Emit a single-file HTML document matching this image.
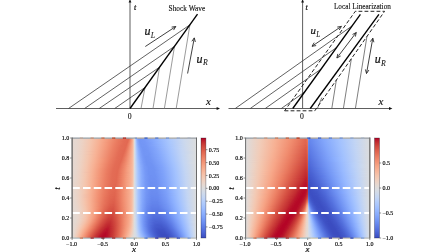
<!DOCTYPE html>
<html><head><meta charset="utf-8"><title>Shock wave local linearization</title>
<style>
html,body{margin:0;padding:0;background:#fff;}
body{width:448px;height:252px;overflow:hidden;}
svg{display:block;}
text{font-family:"Liberation Serif",serif;fill:#111;}
.i{font-style:italic;}
.tk{font-size:6px;fill:#000;stroke:#000;stroke-width:.15px;}
.b{stroke:#111;stroke-width:.22px;}
.sub{stroke-width:.05px;}
.ttl{stroke:#111;stroke-width:.12px;}
.thinq{stroke:#4c4c4c;stroke-width:.72;fill:none;}
.thinr{stroke:#7a7a7a;stroke-width:.75;fill:none;}
.thin{stroke:#3a3a3a;stroke-width:.8;fill:none;}
.ax{stroke:#555;stroke-width:.95;fill:none;}
.shock{stroke:#000;stroke-width:1.35;fill:none;}
.dash{stroke:#222;stroke-width:1.0;fill:none;stroke-dasharray:3.8 2.2;}
.arr{stroke:#2a2a2a;stroke-width:.9;fill:none;}
.tick{stroke:#222;stroke-width:.5;}
.wd{stroke:#fff;stroke-width:2.1;stroke-dasharray:7.6 3.17;fill:none;}
</style></head><body>
<svg width="448" height="252" viewBox="0 0 448 252">
<defs><linearGradient id="a0"><stop offset=".0004" stop-color="#e5d8d1"/><stop offset=".0254" stop-color="#e5d8d1"/><stop offset=".0829" stop-color="#ecd3c5"/><stop offset=".1579" stop-color="#f5c4ac"/><stop offset=".2204" stop-color="#f7b194"/><stop offset=".2867" stop-color="#f49a7b"/><stop offset=".3667" stop-color="#ea7b60"/><stop offset=".4179" stop-color="#e36c55"/><stop offset=".4567" stop-color="#e26952"/><stop offset=".4679" stop-color="#eb7d62"/><stop offset=".4792" stop-color="#f4987a"/><stop offset=".4867" stop-color="#f7ad90"/><stop offset=".4929" stop-color="#f5c4ac"/><stop offset=".4967" stop-color="#edd2c3"/><stop offset=".5004" stop-color="#dcdddd"/><stop offset=".5029" stop-color="#d6dce4"/><stop offset=".5067" stop-color="#c5d6f2"/><stop offset=".5104" stop-color="#b1cbfc"/><stop offset=".5142" stop-color="#9fbfff"/><stop offset=".5192" stop-color="#8db0fe"/><stop offset=".5254" stop-color="#80a3fa"/><stop offset=".5342" stop-color="#7699f6"/><stop offset=".5429" stop-color="#7396f5"/><stop offset=".5792" stop-color="#7699f6"/><stop offset=".6767" stop-color="#8db0fe"/><stop offset=".7817" stop-color="#abc8fd"/><stop offset=".8892" stop-color="#cad8ef"/><stop offset="1" stop-color="#dcdddd"/></linearGradient><linearGradient id="a1"><stop offset=".0004" stop-color="#e5d8d1"/><stop offset=".0354" stop-color="#e6d7cf"/><stop offset=".0767" stop-color="#ebd3c6"/><stop offset=".1479" stop-color="#f4c6af"/><stop offset=".2179" stop-color="#f7b194"/><stop offset=".2842" stop-color="#f49a7b"/><stop offset=".3692" stop-color="#e97a5f"/><stop offset=".4154" stop-color="#e36c55"/><stop offset=".4542" stop-color="#e26952"/><stop offset=".4667" stop-color="#ec7f63"/><stop offset=".4779" stop-color="#f4987a"/><stop offset=".4867" stop-color="#f7af91"/><stop offset=".4929" stop-color="#f5c4ac"/><stop offset=".4967" stop-color="#edd2c3"/><stop offset=".5004" stop-color="#dcdddd"/><stop offset=".5042" stop-color="#d2dbe8"/><stop offset=".5067" stop-color="#c6d6f1"/><stop offset=".5104" stop-color="#b2ccfb"/><stop offset=".5142" stop-color="#a2c1ff"/><stop offset=".5192" stop-color="#90b2fe"/><stop offset=".5254" stop-color="#82a6fb"/><stop offset=".5342" stop-color="#779af7"/><stop offset=".5442" stop-color="#7396f5"/><stop offset=".5729" stop-color="#7597f6"/><stop offset=".6542" stop-color="#85a8fc"/><stop offset=".7617" stop-color="#a5c3fe"/><stop offset=".8617" stop-color="#c3d5f4"/><stop offset=".9329" stop-color="#d3dbe7"/><stop offset="1" stop-color="#dcdddd"/></linearGradient><linearGradient id="a2"><stop offset=".0004" stop-color="#e5d8d1"/><stop offset=".0242" stop-color="#e5d8d1"/><stop offset=".0754" stop-color="#ebd3c6"/><stop offset=".1467" stop-color="#f4c6af"/><stop offset=".2167" stop-color="#f7b194"/><stop offset=".2867" stop-color="#f4987a"/><stop offset=".3667" stop-color="#e97a5f"/><stop offset=".4217" stop-color="#e36b54"/><stop offset=".4504" stop-color="#e26952"/><stop offset=".4654" stop-color="#ec8165"/><stop offset=".4779" stop-color="#f59c7d"/><stop offset=".4867" stop-color="#f7b093"/><stop offset=".4929" stop-color="#f4c5ad"/><stop offset=".4967" stop-color="#ecd3c5"/><stop offset=".5004" stop-color="#dcdddd"/><stop offset=".5042" stop-color="#d2dbe8"/><stop offset=".5092" stop-color="#bad0f8"/><stop offset=".5154" stop-color="#9fbfff"/><stop offset=".5192" stop-color="#93b5fe"/><stop offset=".5267" stop-color="#82a6fb"/><stop offset=".5379" stop-color="#7699f6"/><stop offset=".5454" stop-color="#7396f5"/><stop offset=".5767" stop-color="#7597f6"/><stop offset=".6354" stop-color="#80a3fa"/><stop offset=".6829" stop-color="#8db0fe"/><stop offset=".7904" stop-color="#adc9fd"/><stop offset=".9029" stop-color="#ccd9ed"/><stop offset="1" stop-color="#dcdddd"/></linearGradient><linearGradient id="a3"><stop offset=".0004" stop-color="#e5d8d1"/><stop offset=".0342" stop-color="#e6d7cf"/><stop offset=".0804" stop-color="#ecd3c5"/><stop offset=".1454" stop-color="#f4c6af"/><stop offset=".2142" stop-color="#f7b194"/><stop offset=".2804" stop-color="#f49a7b"/><stop offset=".3642" stop-color="#e97a5f"/><stop offset=".4092" stop-color="#e36c55"/><stop offset=".4479" stop-color="#e26952"/><stop offset=".4604" stop-color="#ea7b60"/><stop offset=".4792" stop-color="#f5a081"/><stop offset=".4867" stop-color="#f7b194"/><stop offset=".4929" stop-color="#f4c5ad"/><stop offset=".4967" stop-color="#ecd3c5"/><stop offset=".5004" stop-color="#dcdddd"/><stop offset=".5054" stop-color="#cdd9ec"/><stop offset=".5092" stop-color="#bbd1f8"/><stop offset=".5154" stop-color="#a2c1ff"/><stop offset=".5242" stop-color="#89acfd"/><stop offset=".5379" stop-color="#779af7"/><stop offset=".5479" stop-color="#7396f5"/><stop offset=".5817" stop-color="#7597f6"/><stop offset=".6554" stop-color="#84a7fc"/><stop offset=".7842" stop-color="#aac7fd"/><stop offset=".8992" stop-color="#cbd8ee"/><stop offset="1" stop-color="#dcdddd"/></linearGradient><linearGradient id="a4"><stop offset=".0004" stop-color="#e5d8d1"/><stop offset=".0342" stop-color="#e6d7cf"/><stop offset=".0742" stop-color="#ebd3c6"/><stop offset=".1442" stop-color="#f4c6af"/><stop offset=".2129" stop-color="#f7b194"/><stop offset=".2867" stop-color="#f39577"/><stop offset=".3667" stop-color="#e9785d"/><stop offset=".4167" stop-color="#e36b54"/><stop offset=".4454" stop-color="#e26952"/><stop offset=".4604" stop-color="#ec7f63"/><stop offset=".4804" stop-color="#f6a586"/><stop offset=".4879" stop-color="#f7b599"/><stop offset=".4929" stop-color="#f4c5ad"/><stop offset=".4967" stop-color="#ecd3c5"/><stop offset=".5004" stop-color="#dcdddd"/><stop offset=".5054" stop-color="#cdd9ec"/><stop offset=".5092" stop-color="#bcd2f7"/><stop offset=".5154" stop-color="#a3c2fe"/><stop offset=".5254" stop-color="#89acfd"/><stop offset=".5417" stop-color="#7699f6"/><stop offset=".5492" stop-color="#7396f5"/><stop offset=".5854" stop-color="#7597f6"/><stop offset=".6367" stop-color="#7ea1fa"/><stop offset=".6892" stop-color="#8db0fe"/><stop offset=".7904" stop-color="#abc8fd"/><stop offset=".9004" stop-color="#cbd8ee"/><stop offset="1" stop-color="#dcdddd"/></linearGradient><linearGradient id="a5"><stop offset=".0004" stop-color="#e5d8d1"/><stop offset=".0229" stop-color="#e5d8d1"/><stop offset=".0679" stop-color="#ead4c8"/><stop offset=".1429" stop-color="#f4c6af"/><stop offset=".2154" stop-color="#f7b093"/><stop offset=".2754" stop-color="#f49a7b"/><stop offset=".3479" stop-color="#eb7d62"/><stop offset=".4129" stop-color="#e36b54"/><stop offset=".4417" stop-color="#e26952"/><stop offset=".4604" stop-color="#ed8366"/><stop offset=".4779" stop-color="#f6a283"/><stop offset=".4879" stop-color="#f7b79b"/><stop offset=".4917" stop-color="#f5c1a9"/><stop offset=".4967" stop-color="#ecd3c5"/><stop offset=".5004" stop-color="#dcdddd"/><stop offset=".5042" stop-color="#d3dbe7"/><stop offset=".5092" stop-color="#bed2f6"/><stop offset=".5167" stop-color="#a2c1ff"/><stop offset=".5267" stop-color="#89acfd"/><stop offset=".5417" stop-color="#779af7"/><stop offset=".5504" stop-color="#7396f5"/><stop offset=".5892" stop-color="#7597f6"/><stop offset=".6342" stop-color="#7da0f9"/><stop offset=".6917" stop-color="#8db0fe"/><stop offset=".7929" stop-color="#abc8fd"/><stop offset=".9104" stop-color="#cdd9ec"/><stop offset="1" stop-color="#dcdddd"/></linearGradient><linearGradient id="a6"><stop offset=".0004" stop-color="#e5d8d1"/><stop offset=".0329" stop-color="#e6d7cf"/><stop offset=".0779" stop-color="#ecd3c5"/><stop offset=".1417" stop-color="#f4c6af"/><stop offset=".2092" stop-color="#f7b194"/><stop offset=".2779" stop-color="#f4987a"/><stop offset=".3454" stop-color="#eb7d62"/><stop offset=".4104" stop-color="#e36b54"/><stop offset=".4392" stop-color="#e26952"/><stop offset=".4604" stop-color="#ee8669"/><stop offset=".4742" stop-color="#f59d7e"/><stop offset=".4842" stop-color="#f7af91"/><stop offset=".4917" stop-color="#f5c1a9"/><stop offset=".4967" stop-color="#ecd3c5"/><stop offset=".5004" stop-color="#dcdddd"/><stop offset=".5029" stop-color="#d7dce3"/><stop offset=".5092" stop-color="#bfd3f6"/><stop offset=".5167" stop-color="#a3c2fe"/><stop offset=".5254" stop-color="#8db0fe"/><stop offset=".5342" stop-color="#80a3fa"/><stop offset=".5417" stop-color="#799cf8"/><stop offset=".5529" stop-color="#7396f5"/><stop offset=".5817" stop-color="#7396f5"/><stop offset=".6492" stop-color="#80a3fa"/><stop offset=".7692" stop-color="#a3c2fe"/><stop offset=".8742" stop-color="#c4d5f3"/><stop offset=".9429" stop-color="#d4dbe6"/><stop offset="1" stop-color="#dcdddd"/></linearGradient><linearGradient id="a7"><stop offset=".0004" stop-color="#e5d8d1"/><stop offset=".0217" stop-color="#e5d8d1"/><stop offset=".0717" stop-color="#ebd3c6"/><stop offset=".1404" stop-color="#f4c6af"/><stop offset=".2079" stop-color="#f7b194"/><stop offset=".2754" stop-color="#f4987a"/><stop offset=".3379" stop-color="#ec7f63"/><stop offset=".3979" stop-color="#e36c55"/><stop offset=".4367" stop-color="#e26952"/><stop offset=".4542" stop-color="#ec7f63"/><stop offset=".4679" stop-color="#f39577"/><stop offset=".4829" stop-color="#f7ad90"/><stop offset=".4904" stop-color="#f6bea4"/><stop offset=".4954" stop-color="#efcebd"/><stop offset=".5004" stop-color="#dcdddd"/><stop offset=".5029" stop-color="#d7dce3"/><stop offset=".5104" stop-color="#bbd1f8"/><stop offset=".5179" stop-color="#a1c0ff"/><stop offset=".5279" stop-color="#8badfd"/><stop offset=".5429" stop-color="#799cf8"/><stop offset=".5542" stop-color="#7396f5"/><stop offset=".5979" stop-color="#7597f6"/><stop offset=".6979" stop-color="#8db0fe"/><stop offset=".7929" stop-color="#aac7fd"/><stop offset=".9079" stop-color="#ccd9ed"/><stop offset="1" stop-color="#dcdddd"/></linearGradient><linearGradient id="a8"><stop offset=".0004" stop-color="#e5d8d1"/><stop offset=".0217" stop-color="#e5d8d1"/><stop offset=".0654" stop-color="#ead4c8"/><stop offset=".1392" stop-color="#f4c6af"/><stop offset=".2054" stop-color="#f7b194"/><stop offset=".2692" stop-color="#f49a7b"/><stop offset=".3354" stop-color="#ec7f63"/><stop offset=".3954" stop-color="#e36c55"/><stop offset=".4329" stop-color="#e26952"/><stop offset=".4442" stop-color="#e7745b"/><stop offset=".4729" stop-color="#f59f80"/><stop offset=".4854" stop-color="#f7b396"/><stop offset=".4917" stop-color="#f5c2aa"/><stop offset=".4954" stop-color="#efcebd"/><stop offset=".5004" stop-color="#dcdddd"/><stop offset=".5054" stop-color="#cfdaea"/><stop offset=".5092" stop-color="#c0d4f5"/><stop offset=".5179" stop-color="#a3c2fe"/><stop offset=".5317" stop-color="#86a9fc"/><stop offset=".5467" stop-color="#779af7"/><stop offset=".5567" stop-color="#7396f5"/><stop offset=".5904" stop-color="#7396f5"/><stop offset=".6554" stop-color="#80a3fa"/><stop offset=".7742" stop-color="#a3c2fe"/><stop offset=".8679" stop-color="#c1d4f4"/><stop offset=".9392" stop-color="#d3dbe7"/><stop offset="1" stop-color="#dcdddd"/></linearGradient><linearGradient id="a9"><stop offset=".0004" stop-color="#e5d8d1"/><stop offset=".0317" stop-color="#e6d7cf"/><stop offset=".0704" stop-color="#ebd3c6"/><stop offset=".1379" stop-color="#f4c6af"/><stop offset=".2042" stop-color="#f7b194"/><stop offset=".2667" stop-color="#f49a7b"/><stop offset=".3329" stop-color="#ec7f63"/><stop offset=".3842" stop-color="#e46e56"/><stop offset=".4304" stop-color="#e26952"/><stop offset=".4417" stop-color="#e7745b"/><stop offset=".4729" stop-color="#f5a081"/><stop offset=".4842" stop-color="#f7b194"/><stop offset=".4917" stop-color="#f5c2aa"/><stop offset=".4967" stop-color="#ebd3c6"/><stop offset=".5004" stop-color="#dcdddd"/><stop offset=".5042" stop-color="#d4dbe6"/><stop offset=".5104" stop-color="#bcd2f7"/><stop offset=".5192" stop-color="#a1c0ff"/><stop offset=".5329" stop-color="#86a9fc"/><stop offset=".5429" stop-color="#7b9ff9"/><stop offset=".5542" stop-color="#7597f6"/><stop offset=".5679" stop-color="#7295f4"/><stop offset=".6054" stop-color="#7597f6"/><stop offset=".6642" stop-color="#81a4fb"/><stop offset=".7079" stop-color="#8fb1fe"/><stop offset=".8054" stop-color="#adc9fd"/><stop offset=".9054" stop-color="#cbd8ee"/><stop offset="1" stop-color="#dcdddd"/></linearGradient><linearGradient id="a10"><stop offset=".0004" stop-color="#e5d8d1"/><stop offset=".0304" stop-color="#e6d7cf"/><stop offset=".0692" stop-color="#ebd3c6"/><stop offset=".1367" stop-color="#f4c6af"/><stop offset=".2029" stop-color="#f7b194"/><stop offset=".2692" stop-color="#f4987a"/><stop offset=".3304" stop-color="#ec7f63"/><stop offset=".3817" stop-color="#e46e56"/><stop offset=".4279" stop-color="#e26952"/><stop offset=".4467" stop-color="#eb7d62"/><stop offset=".4729" stop-color="#f6a283"/><stop offset=".4854" stop-color="#f7b497"/><stop offset=".4917" stop-color="#f5c4ac"/><stop offset=".4967" stop-color="#ebd3c6"/><stop offset=".5004" stop-color="#dcdddd"/><stop offset=".5042" stop-color="#d4dbe6"/><stop offset=".5117" stop-color="#b9d0f9"/><stop offset=".5192" stop-color="#a3c2fe"/><stop offset=".5304" stop-color="#8caffe"/><stop offset=".5479" stop-color="#799cf8"/><stop offset=".5679" stop-color="#7295f4"/><stop offset=".5992" stop-color="#7396f5"/><stop offset=".6567" stop-color="#7ea1fa"/><stop offset=".7829" stop-color="#a5c3fe"/><stop offset=".8754" stop-color="#c3d5f4"/><stop offset=".9517" stop-color="#d5dbe5"/><stop offset="1" stop-color="#dcdddd"/></linearGradient><linearGradient id="a11"><stop offset=".0004" stop-color="#e5d8d1"/><stop offset=".0304" stop-color="#e6d7cf"/><stop offset=".0679" stop-color="#ebd3c6"/><stop offset=".1354" stop-color="#f4c6af"/><stop offset=".2004" stop-color="#f7b194"/><stop offset=".2629" stop-color="#f49a7b"/><stop offset=".3279" stop-color="#ec7f63"/><stop offset=".3867" stop-color="#e36c55"/><stop offset=".4254" stop-color="#e26952"/><stop offset=".4417" stop-color="#e97a5f"/><stop offset=".4767" stop-color="#f7a889"/><stop offset=".4842" stop-color="#f7b396"/><stop offset=".4917" stop-color="#f5c4ac"/><stop offset=".4967" stop-color="#ebd3c6"/><stop offset=".5004" stop-color="#dcdddd"/><stop offset=".5042" stop-color="#d4dbe6"/><stop offset=".5117" stop-color="#bad0f8"/><stop offset=".5204" stop-color="#a1c0ff"/><stop offset=".5304" stop-color="#8db0fe"/><stop offset=".5479" stop-color="#7a9df8"/><stop offset=".5692" stop-color="#7295f4"/><stop offset=".6029" stop-color="#7396f5"/><stop offset=".6654" stop-color="#80a3fa"/><stop offset=".7854" stop-color="#a5c3fe"/><stop offset=".8817" stop-color="#c4d5f3"/><stop offset=".9467" stop-color="#d4dbe6"/><stop offset="1" stop-color="#dcdddd"/></linearGradient><linearGradient id="a12"><stop offset=".0004" stop-color="#e5d8d1"/><stop offset=".0292" stop-color="#e6d7cf"/><stop offset=".0729" stop-color="#ecd3c5"/><stop offset=".1342" stop-color="#f4c6af"/><stop offset=".1992" stop-color="#f7b194"/><stop offset=".3204" stop-color="#ec8165"/><stop offset=".3842" stop-color="#e36c55"/><stop offset=".4217" stop-color="#e26952"/><stop offset=".4379" stop-color="#e9785d"/><stop offset=".4529" stop-color="#f08b6e"/><stop offset=".4792" stop-color="#f7ac8e"/><stop offset=".4892" stop-color="#f6bda2"/><stop offset=".4954" stop-color="#efcfbf"/><stop offset=".5004" stop-color="#dcdddd"/><stop offset=".5054" stop-color="#d1dae9"/><stop offset=".5104" stop-color="#bfd3f6"/><stop offset=".5204" stop-color="#a2c1ff"/><stop offset=".5354" stop-color="#88abfd"/><stop offset=".5542" stop-color="#779af7"/><stop offset=".5704" stop-color="#7295f4"/><stop offset=".6067" stop-color="#7396f5"/><stop offset=".6729" stop-color="#81a4fb"/><stop offset=".7917" stop-color="#a6c4fe"/><stop offset=".8829" stop-color="#c4d5f3"/><stop offset=".9529" stop-color="#d5dbe5"/><stop offset="1" stop-color="#dcdddd"/></linearGradient><linearGradient id="a13"><stop offset=".0004" stop-color="#e5d8d1"/><stop offset=".0292" stop-color="#e6d7cf"/><stop offset=".0867" stop-color="#eed0c0"/><stop offset=".1967" stop-color="#f7b194"/><stop offset=".3179" stop-color="#ec8165"/><stop offset=".3817" stop-color="#e36c55"/><stop offset=".4192" stop-color="#e26952"/><stop offset=".4304" stop-color="#e67259"/><stop offset=".4529" stop-color="#f18d6f"/><stop offset=".4817" stop-color="#f7b093"/><stop offset=".4904" stop-color="#f5c0a7"/><stop offset=".4954" stop-color="#efcfbf"/><stop offset=".5004" stop-color="#dcdddd"/><stop offset=".5054" stop-color="#d1dae9"/><stop offset=".5117" stop-color="#bbd1f8"/><stop offset=".5204" stop-color="#a3c2fe"/><stop offset=".5367" stop-color="#88abfd"/><stop offset=".5579" stop-color="#7699f6"/><stop offset=".5717" stop-color="#7295f4"/><stop offset=".6104" stop-color="#7396f5"/><stop offset=".6917" stop-color="#85a8fc"/><stop offset=".7979" stop-color="#a7c5fe"/><stop offset=".8842" stop-color="#c4d5f3"/><stop offset="1" stop-color="#dcdddd"/></linearGradient><linearGradient id="a14"><stop offset=".0004" stop-color="#e5d8d1"/><stop offset=".0292" stop-color="#e6d7cf"/><stop offset=".0717" stop-color="#ecd3c5"/><stop offset=".1354" stop-color="#f4c5ad"/><stop offset=".1954" stop-color="#f7b194"/><stop offset=".3154" stop-color="#ec8165"/><stop offset=".3704" stop-color="#e46e56"/><stop offset=".4167" stop-color="#e26952"/><stop offset=".4367" stop-color="#ea7b60"/><stop offset=".4554" stop-color="#f29274"/><stop offset=".4792" stop-color="#f7ad90"/><stop offset=".4892" stop-color="#f6bea4"/><stop offset=".4942" stop-color="#f1ccb8"/><stop offset=".5004" stop-color="#dcdddd"/><stop offset=".5104" stop-color="#c0d4f5"/><stop offset=".5217" stop-color="#a2c1ff"/><stop offset=".5367" stop-color="#89acfd"/><stop offset=".5567" stop-color="#779af7"/><stop offset=".5729" stop-color="#7295f4"/><stop offset=".6154" stop-color="#7396f5"/><stop offset=".7042" stop-color="#88abfd"/><stop offset=".8042" stop-color="#a9c6fd"/><stop offset=".8854" stop-color="#c4d5f3"/><stop offset="1" stop-color="#dcdddd"/></linearGradient><linearGradient id="a15"><stop offset=".0004" stop-color="#e5d8d1"/><stop offset=".0279" stop-color="#e6d7cf"/><stop offset=".0804" stop-color="#edd1c2"/><stop offset=".1342" stop-color="#f4c5ad"/><stop offset=".1942" stop-color="#f7b194"/><stop offset=".3129" stop-color="#ec8165"/><stop offset=".3754" stop-color="#e36c55"/><stop offset=".4142" stop-color="#e26952"/><stop offset=".4329" stop-color="#e97a5f"/><stop offset=".4567" stop-color="#f39577"/><stop offset=".4829" stop-color="#f7b396"/><stop offset=".4892" stop-color="#f6bea4"/><stop offset=".4942" stop-color="#f1ccb8"/><stop offset=".5004" stop-color="#dcdddd"/><stop offset=".5104" stop-color="#c1d4f4"/><stop offset=".5217" stop-color="#a3c2fe"/><stop offset=".5317" stop-color="#92b4fe"/><stop offset=".5442" stop-color="#82a6fb"/><stop offset=".5642" stop-color="#7597f6"/><stop offset=".5742" stop-color="#7295f4"/><stop offset=".6192" stop-color="#7396f5"/><stop offset=".6929" stop-color="#84a7fc"/><stop offset=".7904" stop-color="#a3c2fe"/><stop offset=".8829" stop-color="#c3d5f4"/><stop offset="1" stop-color="#dcdddd"/></linearGradient><linearGradient id="a16"><stop offset=".0004" stop-color="#e5d8d1"/><stop offset=".0279" stop-color="#e6d7cf"/><stop offset=".0842" stop-color="#eed0c0"/><stop offset=".1917" stop-color="#f7b194"/><stop offset=".3104" stop-color="#ec8165"/><stop offset=".3729" stop-color="#e36c55"/><stop offset=".4104" stop-color="#e26952"/><stop offset=".4342" stop-color="#eb7d62"/><stop offset=".4742" stop-color="#f7a98b"/><stop offset=".4817" stop-color="#f7b194"/><stop offset=".4904" stop-color="#f5c1a9"/><stop offset=".4954" stop-color="#eed0c0"/><stop offset=".5004" stop-color="#dcdddd"/><stop offset=".5042" stop-color="#d5dbe5"/><stop offset=".5129" stop-color="#bad0f8"/><stop offset=".5229" stop-color="#a2c1ff"/><stop offset=".5354" stop-color="#8db0fe"/><stop offset=".5454" stop-color="#82a6fb"/><stop offset=".5629" stop-color="#7699f6"/><stop offset=".5767" stop-color="#7295f4"/><stop offset=".6229" stop-color="#7396f5"/><stop offset=".7054" stop-color="#86a9fc"/><stop offset=".7967" stop-color="#a5c3fe"/><stop offset=".8842" stop-color="#c3d5f4"/><stop offset=".9504" stop-color="#d4dbe6"/><stop offset="1" stop-color="#dcdddd"/></linearGradient><linearGradient id="a17"><stop offset=".0004" stop-color="#e5d8d1"/><stop offset=".0354" stop-color="#e7d7ce"/><stop offset=".0742" stop-color="#edd2c3"/><stop offset=".1317" stop-color="#f4c5ad"/><stop offset=".1904" stop-color="#f7b194"/><stop offset=".3079" stop-color="#ec8165"/><stop offset=".3704" stop-color="#e36c55"/><stop offset=".4079" stop-color="#e26952"/><stop offset=".4304" stop-color="#ea7b60"/><stop offset=".4704" stop-color="#f7a688"/><stop offset=".4842" stop-color="#f7b599"/><stop offset=".4904" stop-color="#f5c1a9"/><stop offset=".4954" stop-color="#eed0c0"/><stop offset=".5004" stop-color="#dcdddd"/><stop offset=".5054" stop-color="#d2dbe8"/><stop offset=".5129" stop-color="#bbd1f8"/><stop offset=".5229" stop-color="#a3c2fe"/><stop offset=".5354" stop-color="#8fb1fe"/><stop offset=".5479" stop-color="#81a4fb"/><stop offset=".5617" stop-color="#779af7"/><stop offset=".5779" stop-color="#7295f4"/><stop offset=".6154" stop-color="#7295f4"/><stop offset=".6942" stop-color="#82a6fb"/><stop offset=".7942" stop-color="#a3c2fe"/><stop offset=".8817" stop-color="#c1d4f4"/><stop offset=".9417" stop-color="#d2dbe8"/><stop offset="1" stop-color="#dcdddd"/></linearGradient><linearGradient id="a18"><stop offset=".0004" stop-color="#e5d8d1"/><stop offset=".0267" stop-color="#e6d7cf"/><stop offset=".0779" stop-color="#edd1c2"/><stop offset=".1304" stop-color="#f4c5ad"/><stop offset=".1892" stop-color="#f7b194"/><stop offset=".3054" stop-color="#ec8165"/><stop offset=".3679" stop-color="#e36c55"/><stop offset=".4054" stop-color="#e26952"/><stop offset=".4204" stop-color="#e7745b"/><stop offset=".4479" stop-color="#f29072"/><stop offset=".4742" stop-color="#f7aa8c"/><stop offset=".4829" stop-color="#f7b497"/><stop offset=".4892" stop-color="#f6bfa6"/><stop offset=".4954" stop-color="#eed0c0"/><stop offset=".5004" stop-color="#dcdddd"/><stop offset=".5054" stop-color="#d2dbe8"/><stop offset=".5129" stop-color="#bbd1f8"/><stop offset=".5242" stop-color="#a2c1ff"/><stop offset=".5342" stop-color="#92b4fe"/><stop offset=".5492" stop-color="#81a4fb"/><stop offset=".5692" stop-color="#7597f6"/><stop offset=".5917" stop-color="#7093f3"/><stop offset=".6204" stop-color="#7295f4"/><stop offset=".7067" stop-color="#85a8fc"/><stop offset=".7967" stop-color="#a3c2fe"/><stop offset=".8829" stop-color="#c1d4f4"/><stop offset=".9517" stop-color="#d4dbe6"/><stop offset="1" stop-color="#dcdddd"/></linearGradient><linearGradient id="a19"><stop offset=".0004" stop-color="#e5d8d1"/><stop offset=".0267" stop-color="#e6d7cf"/><stop offset=".0679" stop-color="#ecd3c5"/><stop offset=".1292" stop-color="#f4c5ad"/><stop offset=".1867" stop-color="#f7b194"/><stop offset=".3029" stop-color="#ec8165"/><stop offset=".3567" stop-color="#e46e56"/><stop offset=".4029" stop-color="#e26952"/><stop offset=".4417" stop-color="#f08b6e"/><stop offset=".4779" stop-color="#f7af91"/><stop offset=".4892" stop-color="#f6bfa6"/><stop offset=".4954" stop-color="#eed0c0"/><stop offset=".5004" stop-color="#dcdddd"/><stop offset=".5079" stop-color="#cbd8ee"/><stop offset=".5142" stop-color="#b9d0f9"/><stop offset=".5229" stop-color="#a5c3fe"/><stop offset=".5342" stop-color="#93b5fe"/><stop offset=".5504" stop-color="#81a4fb"/><stop offset=".5679" stop-color="#7699f6"/><stop offset=".5917" stop-color="#7093f3"/><stop offset=".6242" stop-color="#7295f4"/><stop offset=".6954" stop-color="#81a4fb"/><stop offset=".7992" stop-color="#a3c2fe"/><stop offset=".8892" stop-color="#c3d5f4"/><stop offset=".9479" stop-color="#d3dbe7"/><stop offset="1" stop-color="#dcdddd"/></linearGradient><linearGradient id="a20"><stop offset=".0004" stop-color="#e5d8d1"/><stop offset=".0254" stop-color="#e6d7cf"/><stop offset=".0717" stop-color="#edd2c3"/><stop offset=".1279" stop-color="#f4c5ad"/><stop offset=".1854" stop-color="#f7b194"/><stop offset=".2592" stop-color="#f29274"/><stop offset=".3192" stop-color="#e97a5f"/><stop offset=".3617" stop-color="#e36c55"/><stop offset=".4004" stop-color="#e26952"/><stop offset=".4417" stop-color="#f18d6f"/><stop offset=".4742" stop-color="#f7ac8e"/><stop offset=".4879" stop-color="#f6bda2"/><stop offset=".4942" stop-color="#f1cdba"/><stop offset=".5004" stop-color="#dcdddd"/><stop offset=".5129" stop-color="#bcd2f7"/><stop offset=".5242" stop-color="#a3c2fe"/><stop offset=".5329" stop-color="#96b7ff"/><stop offset=".5517" stop-color="#81a4fb"/><stop offset=".5692" stop-color="#7699f6"/><stop offset=".5917" stop-color="#7093f3"/><stop offset=".6279" stop-color="#7295f4"/><stop offset=".7079" stop-color="#84a7fc"/><stop offset=".8017" stop-color="#a3c2fe"/><stop offset=".8904" stop-color="#c3d5f4"/><stop offset=".9579" stop-color="#d5dbe5"/><stop offset="1" stop-color="#dcdddd"/></linearGradient><linearGradient id="a21"><stop offset=".0004" stop-color="#e5d8d1"/><stop offset=".0329" stop-color="#e7d7ce"/><stop offset=".0754" stop-color="#edd1c2"/><stop offset=".1267" stop-color="#f4c5ad"/><stop offset=".1842" stop-color="#f7b194"/><stop offset=".2417" stop-color="#f49a7b"/><stop offset=".3117" stop-color="#ea7b60"/><stop offset=".3679" stop-color="#e36b54"/><stop offset=".3967" stop-color="#e26952"/><stop offset=".4254" stop-color="#ec7f63"/><stop offset=".4704" stop-color="#f7a98b"/><stop offset=".4829" stop-color="#f7b599"/><stop offset=".4904" stop-color="#f5c2aa"/><stop offset=".4967" stop-color="#ead4c8"/><stop offset=".5004" stop-color="#dcdddd"/><stop offset=".5117" stop-color="#c0d4f5"/><stop offset=".5242" stop-color="#a5c3fe"/><stop offset=".5454" stop-color="#88abfd"/><stop offset=".5679" stop-color="#779af7"/><stop offset=".5929" stop-color="#7093f3"/><stop offset=".6317" stop-color="#7295f4"/><stop offset=".7017" stop-color="#81a4fb"/><stop offset=".8029" stop-color="#a3c2fe"/><stop offset=".8917" stop-color="#c3d5f4"/><stop offset=".9492" stop-color="#d3dbe7"/><stop offset="1" stop-color="#dcdddd"/></linearGradient><linearGradient id="a22"><stop offset=".0004" stop-color="#e5d8d1"/><stop offset=".0254" stop-color="#e6d7cf"/><stop offset=".0654" stop-color="#ecd3c5"/><stop offset=".1254" stop-color="#f4c5ad"/><stop offset=".1817" stop-color="#f7b194"/><stop offset=".2392" stop-color="#f49a7b"/><stop offset=".3042" stop-color="#eb7d62"/><stop offset=".3567" stop-color="#e36c55"/><stop offset=".3942" stop-color="#e26952"/><stop offset=".4217" stop-color="#eb7d62"/><stop offset=".4642" stop-color="#f6a586"/><stop offset=".4817" stop-color="#f7b497"/><stop offset=".4892" stop-color="#f5c0a7"/><stop offset=".4954" stop-color="#edd1c2"/><stop offset=".5004" stop-color="#dcdddd"/><stop offset=".5129" stop-color="#bed2f6"/><stop offset=".5254" stop-color="#a3c2fe"/><stop offset=".5467" stop-color="#88abfd"/><stop offset=".5667" stop-color="#799cf8"/><stop offset=".5942" stop-color="#7093f3"/><stop offset=".6367" stop-color="#7295f4"/><stop offset=".7142" stop-color="#84a7fc"/><stop offset=".8054" stop-color="#a3c2fe"/><stop offset=".8929" stop-color="#c3d5f4"/><stop offset="1" stop-color="#dcdddd"/></linearGradient><linearGradient id="a23"><stop offset=".0004" stop-color="#e5d8d1"/><stop offset=".0242" stop-color="#e6d7cf"/><stop offset=".0692" stop-color="#edd2c3"/><stop offset=".1242" stop-color="#f4c5ad"/><stop offset=".1804" stop-color="#f7b194"/><stop offset=".2367" stop-color="#f49a7b"/><stop offset=".3017" stop-color="#eb7d62"/><stop offset=".3529" stop-color="#e36c55"/><stop offset=".3917" stop-color="#e26952"/><stop offset=".4292" stop-color="#ee8669"/><stop offset=".4704" stop-color="#f7aa8c"/><stop offset=".4842" stop-color="#f7b89c"/><stop offset=".4892" stop-color="#f5c0a7"/><stop offset=".4954" stop-color="#edd1c2"/><stop offset=".5004" stop-color="#dcdddd"/><stop offset=".5117" stop-color="#c1d4f4"/><stop offset=".5254" stop-color="#a5c3fe"/><stop offset=".5479" stop-color="#88abfd"/><stop offset=".5742" stop-color="#7699f6"/><stop offset=".5954" stop-color="#7093f3"/><stop offset=".6404" stop-color="#7295f4"/><stop offset=".7079" stop-color="#81a4fb"/><stop offset=".8079" stop-color="#a3c2fe"/><stop offset=".8942" stop-color="#c3d5f4"/><stop offset="1" stop-color="#dcdddd"/></linearGradient><linearGradient id="a24"><stop offset=".0004" stop-color="#e5d8d1"/><stop offset=".0242" stop-color="#e6d7cf"/><stop offset=".0592" stop-color="#ebd3c6"/><stop offset=".1229" stop-color="#f4c5ad"/><stop offset=".1779" stop-color="#f7b194"/><stop offset=".2342" stop-color="#f49a7b"/><stop offset=".2942" stop-color="#ec7f63"/><stop offset=".3504" stop-color="#e36c55"/><stop offset=".3879" stop-color="#e26952"/><stop offset=".4129" stop-color="#e97a5f"/><stop offset=".4492" stop-color="#f49a7b"/><stop offset=".4767" stop-color="#f7b093"/><stop offset=".4879" stop-color="#f6bea4"/><stop offset=".4942" stop-color="#f0cdbb"/><stop offset=".5004" stop-color="#dcdddd"/><stop offset=".5129" stop-color="#bfd3f6"/><stop offset=".5267" stop-color="#a3c2fe"/><stop offset=".5504" stop-color="#86a9fc"/><stop offset=".5729" stop-color="#779af7"/><stop offset=".5967" stop-color="#7093f3"/><stop offset=".6329" stop-color="#7093f3"/><stop offset=".7067" stop-color="#80a3fa"/><stop offset=".8104" stop-color="#a3c2fe"/><stop offset=".8967" stop-color="#c3d5f4"/><stop offset=".9604" stop-color="#d5dbe5"/><stop offset="1" stop-color="#dcdddd"/></linearGradient><linearGradient id="a25"><stop offset=".0004" stop-color="#e5d8d1"/><stop offset=".0229" stop-color="#e6d7cf"/><stop offset=".0629" stop-color="#ecd3c5"/><stop offset=".1179" stop-color="#f4c6af"/><stop offset=".1767" stop-color="#f7b194"/><stop offset=".2254" stop-color="#f59c7d"/><stop offset=".2917" stop-color="#ec7f63"/><stop offset=".3479" stop-color="#e36c55"/><stop offset=".3854" stop-color="#e26952"/><stop offset=".4329" stop-color="#f18d6f"/><stop offset=".4779" stop-color="#f7b194"/><stop offset=".4867" stop-color="#f6bda2"/><stop offset=".4904" stop-color="#f5c4ac"/><stop offset=".4942" stop-color="#f0cdbb"/><stop offset=".5004" stop-color="#dcdddd"/><stop offset=".5142" stop-color="#bcd2f7"/><stop offset=".5267" stop-color="#a5c3fe"/><stop offset=".5517" stop-color="#86a9fc"/><stop offset=".5717" stop-color="#799cf8"/><stop offset=".5979" stop-color="#7093f3"/><stop offset=".6379" stop-color="#7093f3"/><stop offset=".7192" stop-color="#82a6fb"/><stop offset=".8129" stop-color="#a3c2fe"/><stop offset=".8979" stop-color="#c3d5f4"/><stop offset=".9567" stop-color="#d4dbe6"/><stop offset="1" stop-color="#dcdddd"/></linearGradient><linearGradient id="a26"><stop offset=".0004" stop-color="#e5d8d1"/><stop offset=".0229" stop-color="#e6d7cf"/><stop offset=".0617" stop-color="#ecd3c5"/><stop offset=".1167" stop-color="#f4c6af"/><stop offset=".1742" stop-color="#f7b194"/><stop offset=".2267" stop-color="#f49a7b"/><stop offset=".2979" stop-color="#ea7b60"/><stop offset=".3442" stop-color="#e36c55"/><stop offset=".3817" stop-color="#e26952"/><stop offset=".4292" stop-color="#f08b6e"/><stop offset=".4754" stop-color="#f7b093"/><stop offset=".4867" stop-color="#f6bda2"/><stop offset=".4942" stop-color="#f0cdbb"/><stop offset=".5004" stop-color="#dcdddd"/><stop offset=".5117" stop-color="#c3d5f4"/><stop offset=".5279" stop-color="#a3c2fe"/><stop offset=".5529" stop-color="#86a9fc"/><stop offset=".5792" stop-color="#7699f6"/><stop offset=".5992" stop-color="#7093f3"/><stop offset=".6417" stop-color="#7093f3"/><stop offset=".7179" stop-color="#81a4fb"/><stop offset=".8154" stop-color="#a3c2fe"/><stop offset=".8992" stop-color="#c3d5f4"/><stop offset="1" stop-color="#dcdddd"/></linearGradient><linearGradient id="a27"><stop offset=".0004" stop-color="#e5d8d1"/><stop offset=".0229" stop-color="#e6d7cf"/><stop offset=".0654" stop-color="#edd2c3"/><stop offset=".1154" stop-color="#f4c6af"/><stop offset=".1729" stop-color="#f7b194"/><stop offset=".2279" stop-color="#f49a7b"/><stop offset=".2904" stop-color="#eb7d62"/><stop offset=".3417" stop-color="#e36c55"/><stop offset=".3792" stop-color="#e26952"/><stop offset=".4254" stop-color="#f08a6c"/><stop offset=".4492" stop-color="#f59f80"/><stop offset=".4767" stop-color="#f7b194"/><stop offset=".4867" stop-color="#f6bda2"/><stop offset=".4942" stop-color="#efcebd"/><stop offset=".5004" stop-color="#dcdddd"/><stop offset=".5129" stop-color="#c0d4f5"/><stop offset=".5267" stop-color="#a6c4fe"/><stop offset=".5479" stop-color="#8caffe"/><stop offset=".5779" stop-color="#779af7"/><stop offset=".6004" stop-color="#7093f3"/><stop offset=".6467" stop-color="#7093f3"/><stop offset=".7117" stop-color="#7ea1fa"/><stop offset=".8179" stop-color="#a3c2fe"/><stop offset=".9004" stop-color="#c3d5f4"/><stop offset="1" stop-color="#dcdddd"/></linearGradient><linearGradient id="a28"><stop offset=".0004" stop-color="#e5d8d1"/><stop offset=".0292" stop-color="#e7d7ce"/><stop offset=".0604" stop-color="#ecd3c5"/><stop offset=".1142" stop-color="#f4c6af"/><stop offset=".1704" stop-color="#f7b194"/><stop offset=".2254" stop-color="#f49a7b"/><stop offset=".2879" stop-color="#eb7d62"/><stop offset=".3392" stop-color="#e36c55"/><stop offset=".3767" stop-color="#e26952"/><stop offset=".4317" stop-color="#f29072"/><stop offset=".4729" stop-color="#f7af91"/><stop offset=".4867" stop-color="#f6bda2"/><stop offset=".4942" stop-color="#efcebd"/><stop offset=".5004" stop-color="#dcdddd"/><stop offset=".5142" stop-color="#bed2f6"/><stop offset=".5292" stop-color="#a3c2fe"/><stop offset=".5504" stop-color="#8badfd"/><stop offset=".5792" stop-color="#779af7"/><stop offset=".6154" stop-color="#6f92f3"/><stop offset=".6504" stop-color="#7093f3"/><stop offset=".7242" stop-color="#81a4fb"/><stop offset=".8192" stop-color="#a3c2fe"/><stop offset=".9017" stop-color="#c3d5f4"/><stop offset="1" stop-color="#dcdddd"/></linearGradient><linearGradient id="a29"><stop offset=".0004" stop-color="#e5d8d1"/><stop offset=".0292" stop-color="#e7d7ce"/><stop offset=".0642" stop-color="#edd2c3"/><stop offset=".1129" stop-color="#f4c6af"/><stop offset=".1692" stop-color="#f7b194"/><stop offset=".2229" stop-color="#f49a7b"/><stop offset=".2854" stop-color="#eb7d62"/><stop offset=".3354" stop-color="#e36c55"/><stop offset=".3742" stop-color="#e26952"/><stop offset=".4154" stop-color="#ee8468"/><stop offset=".4429" stop-color="#f59c7d"/><stop offset=".4704" stop-color="#f7ad90"/><stop offset=".4854" stop-color="#f7bca1"/><stop offset=".4929" stop-color="#f2cbb7"/><stop offset=".4967" stop-color="#ead5c9"/><stop offset=".5004" stop-color="#dcdddd"/><stop offset=".5129" stop-color="#c1d4f4"/><stop offset=".5304" stop-color="#a2c1ff"/><stop offset=".5529" stop-color="#89acfd"/><stop offset=".5804" stop-color="#779af7"/><stop offset=".6154" stop-color="#6f92f3"/><stop offset=".6542" stop-color="#7093f3"/><stop offset=".7179" stop-color="#7ea1fa"/><stop offset=".8217" stop-color="#a3c2fe"/><stop offset=".9029" stop-color="#c3d5f4"/><stop offset="1" stop-color="#dcdddd"/></linearGradient><linearGradient id="a30"><stop offset=".0004" stop-color="#e5d8d1"/><stop offset=".0217" stop-color="#e6d7cf"/><stop offset=".0592" stop-color="#ecd3c5"/><stop offset=".1117" stop-color="#f4c6af"/><stop offset=".1679" stop-color="#f7b194"/><stop offset=".2254" stop-color="#f39778"/><stop offset=".2879" stop-color="#ea7b60"/><stop offset=".3329" stop-color="#e36c55"/><stop offset=".3717" stop-color="#e26952"/><stop offset=".4204" stop-color="#f08a6c"/><stop offset=".4479" stop-color="#f5a081"/><stop offset=".4717" stop-color="#f7af91"/><stop offset=".4854" stop-color="#f7bca1"/><stop offset=".4917" stop-color="#f3c8b2"/><stop offset=".4942" stop-color="#efcebd"/><stop offset=".5004" stop-color="#dcdddd"/><stop offset=".5129" stop-color="#c1d4f4"/><stop offset=".5292" stop-color="#a5c3fe"/><stop offset=".5554" stop-color="#88abfd"/><stop offset=".5817" stop-color="#779af7"/><stop offset=".6154" stop-color="#6f92f3"/><stop offset=".6579" stop-color="#7093f3"/><stop offset=".7342" stop-color="#82a6fb"/><stop offset=".8242" stop-color="#a3c2fe"/><stop offset=".9042" stop-color="#c3d5f4"/><stop offset="1" stop-color="#dcdddd"/></linearGradient><linearGradient id="a31"><stop offset=".0004" stop-color="#e5d8d1"/><stop offset=".0217" stop-color="#e6d7cf"/><stop offset=".0542" stop-color="#ebd3c6"/><stop offset=".1142" stop-color="#f4c5ad"/><stop offset=".1667" stop-color="#f7b194"/><stop offset=".2167" stop-color="#f49a7b"/><stop offset=".2854" stop-color="#ea7b60"/><stop offset=".3304" stop-color="#e36c55"/><stop offset=".3692" stop-color="#e26952"/><stop offset=".4167" stop-color="#ef886b"/><stop offset=".4492" stop-color="#f6a283"/><stop offset=".4754" stop-color="#f7b194"/><stop offset=".4854" stop-color="#f7bca1"/><stop offset=".4942" stop-color="#efcebd"/><stop offset=".5004" stop-color="#dcdddd"/><stop offset=".5142" stop-color="#bfd3f6"/><stop offset=".5304" stop-color="#a3c2fe"/><stop offset=".5579" stop-color="#86a9fc"/><stop offset=".5829" stop-color="#779af7"/><stop offset=".6154" stop-color="#6f92f3"/><stop offset=".6617" stop-color="#7093f3"/><stop offset=".7279" stop-color="#80a3fa"/><stop offset=".8254" stop-color="#a3c2fe"/><stop offset=".9054" stop-color="#c3d5f4"/><stop offset="1" stop-color="#dcdddd"/></linearGradient><linearGradient id="a32"><stop offset=".0004" stop-color="#e5d8d1"/><stop offset=".0279" stop-color="#e7d7ce"/><stop offset=".0579" stop-color="#ecd3c5"/><stop offset=".1167" stop-color="#f5c4ac"/><stop offset=".1654" stop-color="#f7b194"/><stop offset=".2254" stop-color="#f39577"/><stop offset=".2792" stop-color="#eb7d62"/><stop offset=".3292" stop-color="#e36c55"/><stop offset=".3667" stop-color="#e26952"/><stop offset=".4154" stop-color="#ef886b"/><stop offset=".4442" stop-color="#f59f80"/><stop offset=".4729" stop-color="#f7b093"/><stop offset=".4867" stop-color="#f6bea4"/><stop offset=".4954" stop-color="#edd2c3"/><stop offset=".5004" stop-color="#dcdddd"/><stop offset=".5129" stop-color="#c3d5f4"/><stop offset=".5279" stop-color="#a7c5fe"/><stop offset=".5604" stop-color="#85a8fc"/><stop offset=".5904" stop-color="#7597f6"/><stop offset=".6154" stop-color="#6f92f3"/><stop offset=".6654" stop-color="#7093f3"/><stop offset=".7254" stop-color="#7ea1fa"/><stop offset=".8279" stop-color="#a3c2fe"/><stop offset=".9067" stop-color="#c3d5f4"/><stop offset="1" stop-color="#dcdddd"/></linearGradient><linearGradient id="a33"><stop offset=".0004" stop-color="#e5d8d1"/><stop offset=".0204" stop-color="#e6d7cf"/><stop offset=".0654" stop-color="#edd1c2"/><stop offset=".1192" stop-color="#f5c2aa"/><stop offset=".1642" stop-color="#f7b194"/><stop offset=".2242" stop-color="#f39577"/><stop offset=".2779" stop-color="#eb7d62"/><stop offset=".3267" stop-color="#e36c55"/><stop offset=".3654" stop-color="#e26952"/><stop offset=".4167" stop-color="#f08a6c"/><stop offset=".4367" stop-color="#f49a7b"/><stop offset=".4704" stop-color="#f7af91"/><stop offset=".4779" stop-color="#f7b497"/><stop offset=".4879" stop-color="#f5c0a7"/><stop offset=".4942" stop-color="#efcfbf"/><stop offset=".5004" stop-color="#dcdddd"/><stop offset=".5129" stop-color="#c3d5f4"/><stop offset=".5292" stop-color="#a6c4fe"/><stop offset=".5454" stop-color="#93b5fe"/><stop offset=".5629" stop-color="#84a7fc"/><stop offset=".5879" stop-color="#7699f6"/><stop offset=".6154" stop-color="#6f92f3"/><stop offset=".6567" stop-color="#6f92f3"/><stop offset=".7279" stop-color="#7ea1fa"/><stop offset=".8292" stop-color="#a3c2fe"/><stop offset=".9142" stop-color="#c5d6f2"/><stop offset="1" stop-color="#dcdddd"/></linearGradient><linearGradient id="a34"><stop offset=".0004" stop-color="#e5d8d1"/><stop offset=".0329" stop-color="#e8d6cc"/><stop offset=".0692" stop-color="#eed0c0"/><stop offset=".1629" stop-color="#f7b194"/><stop offset=".2229" stop-color="#f39577"/><stop offset=".2767" stop-color="#eb7d62"/><stop offset=".3254" stop-color="#e36c55"/><stop offset=".3642" stop-color="#e26952"/><stop offset=".4179" stop-color="#f08b6e"/><stop offset=".4742" stop-color="#f7b194"/><stop offset=".4854" stop-color="#f6bda2"/><stop offset=".4929" stop-color="#f1ccb8"/><stop offset=".5004" stop-color="#dcdddd"/><stop offset=".5129" stop-color="#c3d5f4"/><stop offset=".5304" stop-color="#a5c3fe"/><stop offset=".5617" stop-color="#85a8fc"/><stop offset=".5854" stop-color="#779af7"/><stop offset=".6154" stop-color="#6f92f3"/><stop offset=".6604" stop-color="#6f92f3"/><stop offset=".7342" stop-color="#80a3fa"/><stop offset=".8304" stop-color="#a3c2fe"/><stop offset=".9079" stop-color="#c3d5f4"/><stop offset="1" stop-color="#dcdddd"/></linearGradient><linearGradient id="a35"><stop offset=".0004" stop-color="#e5d8d1"/><stop offset=".0204" stop-color="#e6d7cf"/><stop offset=".0604" stop-color="#edd2c3"/><stop offset=".1142" stop-color="#f5c4ac"/><stop offset=".1617" stop-color="#f7b194"/><stop offset=".2217" stop-color="#f39577"/><stop offset=".2792" stop-color="#ea7b60"/><stop offset=".3242" stop-color="#e36c55"/><stop offset=".3629" stop-color="#e26952"/><stop offset=".3954" stop-color="#ea7b60"/><stop offset=".4217" stop-color="#f18f71"/><stop offset=".4742" stop-color="#f7b194"/><stop offset=".4854" stop-color="#f6bda2"/><stop offset=".4917" stop-color="#f2c9b4"/><stop offset=".4942" stop-color="#efcfbf"/><stop offset=".5004" stop-color="#dcdddd"/><stop offset=".5142" stop-color="#c0d4f5"/><stop offset=".5317" stop-color="#a3c2fe"/><stop offset=".5567" stop-color="#89acfd"/><stop offset=".5854" stop-color="#779af7"/><stop offset=".6154" stop-color="#6f92f3"/><stop offset=".6629" stop-color="#6f92f3"/><stop offset=".7317" stop-color="#7ea1fa"/><stop offset=".8317" stop-color="#a3c2fe"/><stop offset=".9054" stop-color="#c1d4f4"/><stop offset="1" stop-color="#dcdddd"/></linearGradient><linearGradient id="a36"><stop offset=".0004" stop-color="#e5d8d1"/><stop offset=".0204" stop-color="#e6d7cf"/><stop offset=".0642" stop-color="#edd1c2"/><stop offset=".1104" stop-color="#f4c5ad"/><stop offset=".1617" stop-color="#f7b194"/><stop offset=".2242" stop-color="#f39475"/><stop offset=".2779" stop-color="#ea7b60"/><stop offset=".3229" stop-color="#e36c55"/><stop offset=".3617" stop-color="#e26952"/><stop offset=".4142" stop-color="#f08a6c"/><stop offset=".4417" stop-color="#f59f80"/><stop offset=".4717" stop-color="#f7b093"/><stop offset=".4854" stop-color="#f6bda2"/><stop offset=".4942" stop-color="#efcfbf"/><stop offset=".5004" stop-color="#dcdddd"/><stop offset=".5154" stop-color="#bed2f6"/><stop offset=".5329" stop-color="#a2c1ff"/><stop offset=".5642" stop-color="#84a7fc"/><stop offset=".5892" stop-color="#7699f6"/><stop offset=".6154" stop-color="#6f92f3"/><stop offset=".6654" stop-color="#6f92f3"/><stop offset=".7242" stop-color="#7b9ff9"/><stop offset=".8329" stop-color="#a3c2fe"/><stop offset=".9129" stop-color="#c4d5f3"/><stop offset="1" stop-color="#dcdddd"/></linearGradient><linearGradient id="a37"><stop offset=".0004" stop-color="#e5d8d1"/><stop offset=".0517" stop-color="#ebd3c6"/><stop offset=".1067" stop-color="#f4c6af"/><stop offset=".1604" stop-color="#f7b194"/><stop offset=".2129" stop-color="#f4987a"/><stop offset=".2729" stop-color="#eb7d62"/><stop offset=".3217" stop-color="#e36c55"/><stop offset=".3604" stop-color="#e26952"/><stop offset=".3854" stop-color="#e8765c"/><stop offset=".4204" stop-color="#f18f71"/><stop offset=".4717" stop-color="#f7b093"/><stop offset=".4867" stop-color="#f6bfa6"/><stop offset=".4942" stop-color="#efcfbf"/><stop offset=".5004" stop-color="#dcdddd"/><stop offset=".5142" stop-color="#c1d4f4"/><stop offset=".5292" stop-color="#a7c5fe"/><stop offset=".5592" stop-color="#88abfd"/><stop offset=".5929" stop-color="#7597f6"/><stop offset=".6279" stop-color="#6e90f2"/><stop offset=".6679" stop-color="#6f92f3"/><stop offset=".7392" stop-color="#80a3fa"/><stop offset=".8342" stop-color="#a3c2fe"/><stop offset=".9104" stop-color="#c3d5f4"/><stop offset="1" stop-color="#dcdddd"/></linearGradient><linearGradient id="a38"><stop offset=".0004" stop-color="#e5d8d1"/><stop offset=".0554" stop-color="#ecd3c5"/><stop offset=".1092" stop-color="#f4c5ad"/><stop offset=".1592" stop-color="#f7b194"/><stop offset=".2117" stop-color="#f49a7b"/><stop offset=".2717" stop-color="#eb7d62"/><stop offset=".3204" stop-color="#e36c55"/><stop offset=".3592" stop-color="#e26952"/><stop offset=".4129" stop-color="#f08a6c"/><stop offset=".4429" stop-color="#f5a081"/><stop offset=".4692" stop-color="#f7af91"/><stop offset=".4842" stop-color="#f7bca1"/><stop offset=".4879" stop-color="#f5c1a9"/><stop offset=".4929" stop-color="#f1cdba"/><stop offset=".5004" stop-color="#dcdddd"/><stop offset=".5142" stop-color="#c1d4f4"/><stop offset=".5292" stop-color="#a7c5fe"/><stop offset=".5529" stop-color="#8db0fe"/><stop offset=".5867" stop-color="#779af7"/><stop offset=".6267" stop-color="#6e90f2"/><stop offset=".6704" stop-color="#6f92f3"/><stop offset=".7367" stop-color="#7ea1fa"/><stop offset=".8354" stop-color="#a3c2fe"/><stop offset=".9079" stop-color="#c1d4f4"/><stop offset="1" stop-color="#dcdddd"/></linearGradient><linearGradient id="a39"><stop offset=".0004" stop-color="#e5d8d1"/><stop offset=".0192" stop-color="#e6d7cf"/><stop offset=".0592" stop-color="#edd2c3"/><stop offset=".1054" stop-color="#f4c6af"/><stop offset=".1592" stop-color="#f7b194"/><stop offset=".2179" stop-color="#f39577"/><stop offset=".2704" stop-color="#eb7d62"/><stop offset=".3192" stop-color="#e36c55"/><stop offset=".3579" stop-color="#e26952"/><stop offset=".3867" stop-color="#e9785d"/><stop offset=".4217" stop-color="#f29072"/><stop offset=".4667" stop-color="#f7ad90"/><stop offset=".4842" stop-color="#f7bca1"/><stop offset=".4929" stop-color="#f1cdba"/><stop offset=".5004" stop-color="#dcdddd"/><stop offset=".5142" stop-color="#c1d4f4"/><stop offset=".5304" stop-color="#a6c4fe"/><stop offset=".5579" stop-color="#89acfd"/><stop offset=".5867" stop-color="#779af7"/><stop offset=".6254" stop-color="#6e90f2"/><stop offset=".6729" stop-color="#6f92f3"/><stop offset=".7467" stop-color="#81a4fb"/><stop offset=".8367" stop-color="#a3c2fe"/><stop offset=".9154" stop-color="#c4d5f3"/><stop offset="1" stop-color="#dcdddd"/></linearGradient><linearGradient id="a40"><stop offset=".0004" stop-color="#e5d8d1"/><stop offset=".0317" stop-color="#e8d6cc"/><stop offset=".0629" stop-color="#edd1c2"/><stop offset=".1079" stop-color="#f4c5ad"/><stop offset=".1579" stop-color="#f7b194"/><stop offset=".2654" stop-color="#ec7f63"/><stop offset=".3179" stop-color="#e36c55"/><stop offset=".3579" stop-color="#e26952"/><stop offset=".4117" stop-color="#f08a6c"/><stop offset=".4329" stop-color="#f49a7b"/><stop offset=".4729" stop-color="#f7b194"/><stop offset=".4854" stop-color="#f6bea4"/><stop offset=".4917" stop-color="#f2cab5"/><stop offset=".4942" stop-color="#eed0c0"/><stop offset=".5004" stop-color="#dcdddd"/><stop offset=".5142" stop-color="#c1d4f4"/><stop offset=".5304" stop-color="#a6c4fe"/><stop offset=".5617" stop-color="#86a9fc"/><stop offset=".5904" stop-color="#7699f6"/><stop offset=".6242" stop-color="#6e90f2"/><stop offset=".6642" stop-color="#6e90f2"/><stop offset=".7304" stop-color="#7b9ff9"/><stop offset=".8367" stop-color="#a3c2fe"/><stop offset=".9092" stop-color="#c1d4f4"/><stop offset="1" stop-color="#dcdddd"/></linearGradient><linearGradient id="a41"><stop offset=".0004" stop-color="#e5d8d1"/><stop offset=".0504" stop-color="#ebd3c6"/><stop offset=".0979" stop-color="#f3c8b2"/><stop offset=".1579" stop-color="#f7b194"/><stop offset=".2029" stop-color="#f59c7d"/><stop offset=".2642" stop-color="#ec7f63"/><stop offset=".3167" stop-color="#e36c55"/><stop offset=".3567" stop-color="#e26952"/><stop offset=".3879" stop-color="#e97a5f"/><stop offset=".4229" stop-color="#f29274"/><stop offset=".4704" stop-color="#f7b093"/><stop offset=".4854" stop-color="#f6bea4"/><stop offset=".4942" stop-color="#eed0c0"/><stop offset=".5004" stop-color="#dcdddd"/><stop offset=".5142" stop-color="#c1d4f4"/><stop offset=".5317" stop-color="#a5c3fe"/><stop offset=".5567" stop-color="#8badfd"/><stop offset=".5904" stop-color="#7699f6"/><stop offset=".6229" stop-color="#6e90f2"/><stop offset=".6667" stop-color="#6e90f2"/><stop offset=".7367" stop-color="#7da0f9"/><stop offset=".8379" stop-color="#a3c2fe"/><stop offset=".9167" stop-color="#c4d5f3"/><stop offset="1" stop-color="#dcdddd"/></linearGradient><linearGradient id="a42"><stop offset=".0004" stop-color="#e5d8d1"/><stop offset=".0192" stop-color="#e6d7cf"/><stop offset=".0542" stop-color="#ecd3c5"/><stop offset=".1042" stop-color="#f4c6af"/><stop offset=".1567" stop-color="#f7b194"/><stop offset=".2154" stop-color="#f39577"/><stop offset=".2717" stop-color="#ea7b60"/><stop offset=".3229" stop-color="#e36b54"/><stop offset=".3567" stop-color="#e26952"/><stop offset=".3929" stop-color="#eb7d62"/><stop offset=".4367" stop-color="#f59d7e"/><stop offset=".4704" stop-color="#f7b093"/><stop offset=".4779" stop-color="#f7b599"/><stop offset=".4867" stop-color="#f5c0a7"/><stop offset=".4942" stop-color="#eed0c0"/><stop offset=".5004" stop-color="#dcdddd"/><stop offset=".5154" stop-color="#bfd3f6"/><stop offset=".5329" stop-color="#a3c2fe"/><stop offset=".5604" stop-color="#88abfd"/><stop offset=".5979" stop-color="#7396f5"/><stop offset=".6229" stop-color="#6e90f2"/><stop offset=".6804" stop-color="#6f92f3"/><stop offset=".7467" stop-color="#80a3fa"/><stop offset=".8429" stop-color="#a5c3fe"/><stop offset=".9142" stop-color="#c3d5f4"/><stop offset="1" stop-color="#dcdddd"/></linearGradient><linearGradient id="a43"><stop offset=".0004" stop-color="#e5d8d1"/><stop offset=".0192" stop-color="#e6d7cf"/><stop offset=".0579" stop-color="#edd2c3"/><stop offset=".1067" stop-color="#f4c5ad"/><stop offset=".1567" stop-color="#f7b194"/><stop offset=".2079" stop-color="#f4987a"/><stop offset=".2667" stop-color="#eb7d62"/><stop offset=".3217" stop-color="#e36b54"/><stop offset=".3554" stop-color="#e26952"/><stop offset=".4054" stop-color="#ee8669"/><stop offset=".4317" stop-color="#f49a7b"/><stop offset=".4679" stop-color="#f7af91"/><stop offset=".4842" stop-color="#f6bda2"/><stop offset=".4929" stop-color="#f0cdbb"/><stop offset=".5004" stop-color="#dcdddd"/><stop offset=".5154" stop-color="#c0d4f5"/><stop offset=".5329" stop-color="#a3c2fe"/><stop offset=".5604" stop-color="#88abfd"/><stop offset=".5904" stop-color="#7699f6"/><stop offset=".6217" stop-color="#6e90f2"/><stop offset=".6729" stop-color="#6e90f2"/><stop offset=".7442" stop-color="#7ea1fa"/><stop offset=".8404" stop-color="#a3c2fe"/><stop offset=".9179" stop-color="#c4d5f3"/><stop offset="1" stop-color="#dcdddd"/></linearGradient><linearGradient id="a44"><stop offset=".0004" stop-color="#e5d8d1"/><stop offset=".0492" stop-color="#ebd3c6"/><stop offset=".0967" stop-color="#f3c8b2"/><stop offset=".1554" stop-color="#f7b194"/><stop offset=".2104" stop-color="#f39778"/><stop offset=".2654" stop-color="#eb7d62"/><stop offset=".3204" stop-color="#e36b54"/><stop offset=".3554" stop-color="#e26952"/><stop offset=".3892" stop-color="#ea7b60"/><stop offset=".4242" stop-color="#f39475"/><stop offset=".4679" stop-color="#f7af91"/><stop offset=".4842" stop-color="#f6bda2"/><stop offset=".4929" stop-color="#f0cdbb"/><stop offset=".5004" stop-color="#dcdddd"/><stop offset=".5104" stop-color="#cad8ef"/><stop offset=".5192" stop-color="#b9d0f9"/><stop offset=".5342" stop-color="#a2c1ff"/><stop offset=".5642" stop-color="#85a8fc"/><stop offset=".5904" stop-color="#7699f6"/><stop offset=".6342" stop-color="#6c8ff1"/><stop offset=".6754" stop-color="#6e90f2"/><stop offset=".7454" stop-color="#7ea1fa"/><stop offset=".8417" stop-color="#a3c2fe"/><stop offset=".9154" stop-color="#c3d5f4"/><stop offset="1" stop-color="#dcdddd"/></linearGradient><linearGradient id="a45"><stop offset=".0004" stop-color="#e5d8d1"/><stop offset=".0492" stop-color="#ebd3c6"/><stop offset=".1092" stop-color="#f5c4ac"/><stop offset=".1554" stop-color="#f7b194"/><stop offset=".2129" stop-color="#f39577"/><stop offset=".2729" stop-color="#e97a5f"/><stop offset=".3192" stop-color="#e36b54"/><stop offset=".3542" stop-color="#e26952"/><stop offset=".3942" stop-color="#ec7f63"/><stop offset=".4454" stop-color="#f6a385"/><stop offset=".4629" stop-color="#f7ac8e"/><stop offset=".4754" stop-color="#f7b497"/><stop offset=".4854" stop-color="#f6bfa6"/><stop offset=".4917" stop-color="#f2cbb7"/><stop offset=".4954" stop-color="#ebd3c6"/><stop offset=".5004" stop-color="#dcdddd"/><stop offset=".5117" stop-color="#c7d7f0"/><stop offset=".5192" stop-color="#b9d0f9"/><stop offset=".5342" stop-color="#a2c1ff"/><stop offset=".5592" stop-color="#89acfd"/><stop offset=".5904" stop-color="#7699f6"/><stop offset=".6317" stop-color="#6c8ff1"/><stop offset=".6779" stop-color="#6e90f2"/><stop offset=".7554" stop-color="#81a4fb"/><stop offset=".8429" stop-color="#a3c2fe"/><stop offset=".9192" stop-color="#c4d5f3"/><stop offset="1" stop-color="#dcdddd"/></linearGradient><linearGradient id="a46"><stop offset=".0004" stop-color="#e5d8d1"/><stop offset=".0529" stop-color="#ecd3c5"/><stop offset=".1054" stop-color="#f4c5ad"/><stop offset=".1579" stop-color="#f7b093"/><stop offset=".2054" stop-color="#f4987a"/><stop offset=".2592" stop-color="#ec7f63"/><stop offset=".3104" stop-color="#e36c55"/><stop offset=".3492" stop-color="#e16751"/><stop offset=".4067" stop-color="#ef886b"/><stop offset=".4379" stop-color="#f59f80"/><stop offset=".4717" stop-color="#f7b194"/><stop offset=".4829" stop-color="#f7bca1"/><stop offset=".4892" stop-color="#f4c6af"/><stop offset=".4929" stop-color="#efcebd"/><stop offset=".5004" stop-color="#dcdddd"/><stop offset=".5142" stop-color="#c3d5f4"/><stop offset=".5292" stop-color="#a9c6fd"/><stop offset=".5592" stop-color="#89acfd"/><stop offset=".5904" stop-color="#7699f6"/><stop offset=".6292" stop-color="#6c8ff1"/><stop offset=".6804" stop-color="#6e90f2"/><stop offset=".7567" stop-color="#81a4fb"/><stop offset=".8429" stop-color="#a3c2fe"/><stop offset=".9167" stop-color="#c3d5f4"/><stop offset="1" stop-color="#dcdddd"/></linearGradient><linearGradient id="a47"><stop offset=".0004" stop-color="#e5d8d1"/><stop offset=".0242" stop-color="#e7d7ce"/><stop offset=".0567" stop-color="#edd2c3"/><stop offset=".1017" stop-color="#f4c6af"/><stop offset=".1542" stop-color="#f7b194"/><stop offset=".2079" stop-color="#f39778"/><stop offset=".2667" stop-color="#ea7b60"/><stop offset=".3167" stop-color="#e36b54"/><stop offset=".3492" stop-color="#e16751"/><stop offset=".3879" stop-color="#ea7b60"/><stop offset=".4279" stop-color="#f39778"/><stop offset=".4717" stop-color="#f7b194"/><stop offset=".4842" stop-color="#f6bea4"/><stop offset=".4879" stop-color="#f5c4ac"/><stop offset=".4942" stop-color="#edd1c2"/><stop offset=".5004" stop-color="#dcdddd"/><stop offset=".5142" stop-color="#c3d5f4"/><stop offset=".5304" stop-color="#a7c5fe"/><stop offset=".5592" stop-color="#89acfd"/><stop offset=".5904" stop-color="#7699f6"/><stop offset=".6279" stop-color="#6c8ff1"/><stop offset=".6717" stop-color="#6c8ff1"/><stop offset=".7542" stop-color="#80a3fa"/><stop offset=".8442" stop-color="#a3c2fe"/><stop offset=".9204" stop-color="#c4d5f3"/><stop offset="1" stop-color="#dcdddd"/></linearGradient><linearGradient id="a48"><stop offset=".0004" stop-color="#e5d8d1"/><stop offset=".0479" stop-color="#ebd3c6"/><stop offset=".1042" stop-color="#f4c5ad"/><stop offset=".1567" stop-color="#f7b093"/><stop offset=".2004" stop-color="#f49a7b"/><stop offset=".2654" stop-color="#ea7b60"/><stop offset=".3154" stop-color="#e36b54"/><stop offset=".3492" stop-color="#e16751"/><stop offset=".3904" stop-color="#eb7d62"/><stop offset=".4229" stop-color="#f39475"/><stop offset=".4692" stop-color="#f7b093"/><stop offset=".4842" stop-color="#f6bea4"/><stop offset=".4904" stop-color="#f2c9b4"/><stop offset=".4942" stop-color="#edd1c2"/><stop offset=".5004" stop-color="#dcdddd"/><stop offset=".5142" stop-color="#c3d5f4"/><stop offset=".5304" stop-color="#a7c5fe"/><stop offset=".5592" stop-color="#89acfd"/><stop offset=".5904" stop-color="#7699f6"/><stop offset=".6254" stop-color="#6c8ff1"/><stop offset=".6754" stop-color="#6c8ff1"/><stop offset=".7517" stop-color="#7ea1fa"/><stop offset=".8454" stop-color="#a3c2fe"/><stop offset=".9179" stop-color="#c3d5f4"/><stop offset="1" stop-color="#dcdddd"/></linearGradient><linearGradient id="a49"><stop offset=".0004" stop-color="#e5d8d1"/><stop offset=".0479" stop-color="#ebd3c6"/><stop offset=".1004" stop-color="#f4c6af"/><stop offset=".1529" stop-color="#f7b194"/><stop offset=".2029" stop-color="#f4987a"/><stop offset=".2642" stop-color="#ea7b60"/><stop offset=".3129" stop-color="#e36b54"/><stop offset=".3479" stop-color="#e16751"/><stop offset=".3754" stop-color="#e7745b"/><stop offset=".4154" stop-color="#f18f71"/><stop offset=".4692" stop-color="#f7b093"/><stop offset=".4842" stop-color="#f6bea4"/><stop offset=".4929" stop-color="#efcebd"/><stop offset=".5004" stop-color="#dcdddd"/><stop offset=".5154" stop-color="#c1d4f4"/><stop offset=".5304" stop-color="#a7c5fe"/><stop offset=".5592" stop-color="#89acfd"/><stop offset=".5904" stop-color="#7699f6"/><stop offset=".6242" stop-color="#6c8ff1"/><stop offset=".6792" stop-color="#6c8ff1"/><stop offset=".7404" stop-color="#7a9df8"/><stop offset=".7917" stop-color="#8db0fe"/><stop offset=".8467" stop-color="#a3c2fe"/><stop offset=".9154" stop-color="#c1d4f4"/><stop offset="1" stop-color="#dcdddd"/></linearGradient><linearGradient id="a50"><stop offset=".0004" stop-color="#e5d8d1"/><stop offset=".0517" stop-color="#ecd3c5"/><stop offset=".1029" stop-color="#f4c5ad"/><stop offset=".1517" stop-color="#f7b194"/><stop offset=".2117" stop-color="#f39475"/><stop offset=".2629" stop-color="#ea7b60"/><stop offset=".3117" stop-color="#e36b54"/><stop offset=".3479" stop-color="#e16751"/><stop offset=".3867" stop-color="#ea7b60"/><stop offset=".4292" stop-color="#f4987a"/><stop offset=".4729" stop-color="#f7b396"/><stop offset=".4842" stop-color="#f6bea4"/><stop offset=".4892" stop-color="#f3c7b1"/><stop offset=".4942" stop-color="#edd2c3"/><stop offset=".5004" stop-color="#dcdddd"/><stop offset=".5154" stop-color="#c1d4f4"/><stop offset=".5317" stop-color="#a6c4fe"/><stop offset=".5629" stop-color="#86a9fc"/><stop offset=".5967" stop-color="#7396f5"/><stop offset=".6342" stop-color="#6b8df0"/><stop offset=".6817" stop-color="#6c8ff1"/><stop offset=".7629" stop-color="#81a4fb"/><stop offset=".8479" stop-color="#a3c2fe"/><stop offset=".9167" stop-color="#c1d4f4"/><stop offset="1" stop-color="#dcdddd"/></linearGradient><linearGradient id="a51"><stop offset=".0004" stop-color="#e5d8d1"/><stop offset=".0242" stop-color="#e7d7ce"/><stop offset=".0554" stop-color="#edd2c3"/><stop offset=".1054" stop-color="#f5c4ac"/><stop offset=".1542" stop-color="#f7b093"/><stop offset=".2042" stop-color="#f39778"/><stop offset=".2617" stop-color="#ea7b60"/><stop offset=".3092" stop-color="#e36b54"/><stop offset=".3479" stop-color="#e16751"/><stop offset=".3779" stop-color="#e8765c"/><stop offset=".4117" stop-color="#f18d6f"/><stop offset=".4667" stop-color="#f7af91"/><stop offset=".4829" stop-color="#f6bda2"/><stop offset=".4892" stop-color="#f3c7b1"/><stop offset=".4917" stop-color="#f1cdba"/><stop offset=".4954" stop-color="#ead4c8"/><stop offset=".5004" stop-color="#dcdddd"/><stop offset=".5154" stop-color="#c1d4f4"/><stop offset=".5317" stop-color="#a6c4fe"/><stop offset=".5629" stop-color="#86a9fc"/><stop offset=".5929" stop-color="#7597f6"/><stop offset=".6317" stop-color="#6b8df0"/><stop offset=".6742" stop-color="#6b8df0"/><stop offset=".7567" stop-color="#7ea1fa"/><stop offset=".8492" stop-color="#a3c2fe"/><stop offset=".9204" stop-color="#c3d5f4"/><stop offset="1" stop-color="#dcdddd"/></linearGradient><linearGradient id="a52"><stop offset=".0004" stop-color="#e5d8d1"/><stop offset=".0467" stop-color="#ebd3c6"/><stop offset=".0992" stop-color="#f4c6af"/><stop offset=".1504" stop-color="#f7b194"/><stop offset=".1967" stop-color="#f49a7b"/><stop offset=".2604" stop-color="#ea7b60"/><stop offset=".3067" stop-color="#e36b54"/><stop offset=".3479" stop-color="#e16751"/><stop offset=".3804" stop-color="#e9785d"/><stop offset=".4117" stop-color="#f18d6f"/><stop offset=".4642" stop-color="#f7ad90"/><stop offset=".4829" stop-color="#f6bda2"/><stop offset=".4917" stop-color="#f1cdba"/><stop offset=".5004" stop-color="#dcdddd"/><stop offset=".5154" stop-color="#c1d4f4"/><stop offset=".5317" stop-color="#a6c4fe"/><stop offset=".5629" stop-color="#86a9fc"/><stop offset=".5929" stop-color="#7597f6"/><stop offset=".6292" stop-color="#6b8df0"/><stop offset=".6792" stop-color="#6b8df0"/><stop offset=".7542" stop-color="#7da0f9"/><stop offset=".8504" stop-color="#a3c2fe"/><stop offset=".9179" stop-color="#c1d4f4"/><stop offset="1" stop-color="#dcdddd"/></linearGradient><linearGradient id="a53"><stop offset=".0004" stop-color="#e5d8d1"/><stop offset=".0504" stop-color="#ecd3c5"/><stop offset=".1017" stop-color="#f4c5ad"/><stop offset=".1529" stop-color="#f7b093"/><stop offset=".2117" stop-color="#f29274"/><stop offset=".2629" stop-color="#e97a5f"/><stop offset=".3129" stop-color="#e26952"/><stop offset=".3479" stop-color="#e16751"/><stop offset=".3804" stop-color="#e9785d"/><stop offset=".4117" stop-color="#f18d6f"/><stop offset=".4617" stop-color="#f7ac8e"/><stop offset=".4817" stop-color="#f7bca1"/><stop offset=".4917" stop-color="#f1cdba"/><stop offset=".5004" stop-color="#dcdddd"/><stop offset=".5154" stop-color="#c1d4f4"/><stop offset=".5329" stop-color="#a5c3fe"/><stop offset=".5629" stop-color="#86a9fc"/><stop offset=".5992" stop-color="#7295f4"/><stop offset=".6404" stop-color="#6a8bef"/><stop offset=".6829" stop-color="#6b8df0"/><stop offset=".7479" stop-color="#7a9df8"/><stop offset=".7979" stop-color="#8db0fe"/><stop offset=".8517" stop-color="#a3c2fe"/><stop offset=".9217" stop-color="#c3d5f4"/><stop offset="1" stop-color="#dcdddd"/></linearGradient><linearGradient id="a54"><stop offset=".0004" stop-color="#e5d8d1"/><stop offset=".0504" stop-color="#ecd3c5"/><stop offset=".1042" stop-color="#f5c4ac"/><stop offset=".1492" stop-color="#f7b194"/><stop offset=".1979" stop-color="#f4987a"/><stop offset=".2492" stop-color="#ec7f63"/><stop offset=".3029" stop-color="#e36b54"/><stop offset=".3429" stop-color="#e0654f"/><stop offset=".3942" stop-color="#ec8165"/><stop offset=".4292" stop-color="#f49a7b"/><stop offset=".4704" stop-color="#f7b194"/><stop offset=".4817" stop-color="#f7bca1"/><stop offset=".4917" stop-color="#f1cdba"/><stop offset=".5004" stop-color="#dcdddd"/><stop offset=".5154" stop-color="#c1d4f4"/><stop offset=".5329" stop-color="#a5c3fe"/><stop offset=".5629" stop-color="#86a9fc"/><stop offset=".5954" stop-color="#7396f5"/><stop offset=".6354" stop-color="#6a8bef"/><stop offset=".6867" stop-color="#6b8df0"/><stop offset=".7542" stop-color="#7b9ff9"/><stop offset=".7992" stop-color="#8db0fe"/><stop offset=".8529" stop-color="#a3c2fe"/><stop offset=".9254" stop-color="#c4d5f3"/><stop offset="1" stop-color="#dcdddd"/></linearGradient><linearGradient id="a55"><stop offset=".0004" stop-color="#e5d8d1"/><stop offset=".0229" stop-color="#e7d7ce"/><stop offset=".0579" stop-color="#edd1c2"/><stop offset=".1004" stop-color="#f4c5ad"/><stop offset=".1479" stop-color="#f7b194"/><stop offset=".1967" stop-color="#f4987a"/><stop offset=".2517" stop-color="#eb7d62"/><stop offset=".3004" stop-color="#e36b54"/><stop offset=".3442" stop-color="#e0654f"/><stop offset=".3742" stop-color="#e7745b"/><stop offset=".4192" stop-color="#f29274"/><stop offset=".4704" stop-color="#f7b194"/><stop offset=".4842" stop-color="#f6bfa6"/><stop offset=".4892" stop-color="#f3c8b2"/><stop offset=".4942" stop-color="#ecd3c5"/><stop offset=".5004" stop-color="#dcdddd"/><stop offset=".5154" stop-color="#c1d4f4"/><stop offset=".5329" stop-color="#a5c3fe"/><stop offset=".5629" stop-color="#86a9fc"/><stop offset=".5917" stop-color="#7597f6"/><stop offset=".6317" stop-color="#6a8bef"/><stop offset=".6804" stop-color="#6a8bef"/><stop offset=".7642" stop-color="#7ea1fa"/><stop offset=".8542" stop-color="#a3c2fe"/><stop offset=".9204" stop-color="#c1d4f4"/><stop offset="1" stop-color="#dcdddd"/></linearGradient><linearGradient id="a56"><stop offset=".0004" stop-color="#e5d8d1"/><stop offset=".0229" stop-color="#e7d7ce"/><stop offset=".0717" stop-color="#f0cdbb"/><stop offset=".1504" stop-color="#f7b093"/><stop offset=".2117" stop-color="#f29072"/><stop offset=".2542" stop-color="#ea7b60"/><stop offset=".3129" stop-color="#e16751"/><stop offset=".3442" stop-color="#e0654f"/><stop offset=".3742" stop-color="#e7745b"/><stop offset=".4192" stop-color="#f29274"/><stop offset=".4704" stop-color="#f7b194"/><stop offset=".4829" stop-color="#f6bea4"/><stop offset=".4917" stop-color="#f0cdbb"/><stop offset=".5004" stop-color="#dcdddd"/><stop offset=".5154" stop-color="#c1d4f4"/><stop offset=".5329" stop-color="#a5c3fe"/><stop offset=".5592" stop-color="#89acfd"/><stop offset=".5942" stop-color="#7396f5"/><stop offset=".6292" stop-color="#6a8bef"/><stop offset=".6854" stop-color="#6a8bef"/><stop offset=".7542" stop-color="#7a9df8"/><stop offset=".8029" stop-color="#8db0fe"/><stop offset=".8554" stop-color="#a3c2fe"/><stop offset=".9242" stop-color="#c3d5f4"/><stop offset="1" stop-color="#dcdddd"/></linearGradient><linearGradient id="a57"><stop offset=".0004" stop-color="#e5d8d1"/><stop offset=".0179" stop-color="#e6d7cf"/><stop offset=".0679" stop-color="#efcebd"/><stop offset=".1467" stop-color="#f7b194"/><stop offset=".2104" stop-color="#f29072"/><stop offset=".2567" stop-color="#e97a5f"/><stop offset=".3017" stop-color="#e26952"/><stop offset=".3454" stop-color="#e0654f"/><stop offset=".3804" stop-color="#e9785d"/><stop offset=".4217" stop-color="#f39475"/><stop offset=".4679" stop-color="#f7b093"/><stop offset=".4829" stop-color="#f6bea4"/><stop offset=".4917" stop-color="#f0cdbb"/><stop offset=".5004" stop-color="#dcdddd"/><stop offset=".5167" stop-color="#c0d4f5"/><stop offset=".5329" stop-color="#a5c3fe"/><stop offset=".5642" stop-color="#85a8fc"/><stop offset=".6004" stop-color="#7093f3"/><stop offset=".6367" stop-color="#688aef"/><stop offset=".6904" stop-color="#6a8bef"/><stop offset=".7642" stop-color="#7da0f9"/><stop offset=".8567" stop-color="#a3c2fe"/><stop offset=".9217" stop-color="#c1d4f4"/><stop offset="1" stop-color="#dcdddd"/></linearGradient><linearGradient id="a58"><stop offset=".0004" stop-color="#e5d8d1"/><stop offset=".0179" stop-color="#e6d7cf"/><stop offset=".0679" stop-color="#efcebd"/><stop offset=".1492" stop-color="#f7b093"/><stop offset=".2029" stop-color="#f39475"/><stop offset=".2592" stop-color="#e9785d"/><stop offset=".3067" stop-color="#e16751"/><stop offset=".3404" stop-color="#df634e"/><stop offset=".3717" stop-color="#e67259"/><stop offset=".4117" stop-color="#f18d6f"/><stop offset=".4679" stop-color="#f7b093"/><stop offset=".4829" stop-color="#f6bea4"/><stop offset=".4917" stop-color="#f0cdbb"/><stop offset=".5004" stop-color="#dcdddd"/><stop offset=".5167" stop-color="#c0d4f5"/><stop offset=".5329" stop-color="#a5c3fe"/><stop offset=".5604" stop-color="#88abfd"/><stop offset=".5929" stop-color="#7396f5"/><stop offset=".6317" stop-color="#688aef"/><stop offset=".6842" stop-color="#688aef"/><stop offset=".7542" stop-color="#799cf8"/><stop offset=".8054" stop-color="#8db0fe"/><stop offset=".8579" stop-color="#a3c2fe"/><stop offset=".9254" stop-color="#c3d5f4"/><stop offset="1" stop-color="#dcdddd"/></linearGradient><linearGradient id="a59"><stop offset=".0004" stop-color="#e5d8d1"/><stop offset=".0292" stop-color="#e8d6cc"/><stop offset=".0679" stop-color="#efcebd"/><stop offset=".1479" stop-color="#f7b093"/><stop offset=".2179" stop-color="#f08b6e"/><stop offset=".2654" stop-color="#e7745b"/><stop offset=".3029" stop-color="#e16751"/><stop offset=".3417" stop-color="#df634e"/><stop offset=".3779" stop-color="#e8765c"/><stop offset=".4117" stop-color="#f18d6f"/><stop offset=".4679" stop-color="#f7b093"/><stop offset=".4817" stop-color="#f6bda2"/><stop offset=".4917" stop-color="#f0cdbb"/><stop offset=".5004" stop-color="#dcdddd"/><stop offset=".5167" stop-color="#c0d4f5"/><stop offset=".5329" stop-color="#a5c3fe"/><stop offset=".5654" stop-color="#84a7fc"/><stop offset=".5954" stop-color="#7295f4"/><stop offset=".6404" stop-color="#6788ee"/><stop offset=".6904" stop-color="#688aef"/><stop offset=".7567" stop-color="#799cf8"/><stop offset=".8079" stop-color="#8db0fe"/><stop offset=".8592" stop-color="#a3c2fe"/><stop offset=".9292" stop-color="#c4d5f3"/><stop offset="1" stop-color="#dcdddd"/></linearGradient><linearGradient id="a60"><stop offset=".0004" stop-color="#e5d8d1"/><stop offset=".0242" stop-color="#e7d7ce"/><stop offset=".0542" stop-color="#edd2c3"/><stop offset=".1054" stop-color="#f5c2aa"/><stop offset=".1479" stop-color="#f7b093"/><stop offset=".1979" stop-color="#f39577"/><stop offset=".2554" stop-color="#e9785d"/><stop offset=".3004" stop-color="#e16751"/><stop offset=".3379" stop-color="#de614d"/><stop offset=".3754" stop-color="#e7745b"/><stop offset=".4117" stop-color="#f18d6f"/><stop offset=".4617" stop-color="#f7ac8e"/><stop offset=".4817" stop-color="#f6bda2"/><stop offset=".4929" stop-color="#eed0c0"/><stop offset=".5004" stop-color="#dcdddd"/><stop offset=".5167" stop-color="#c0d4f5"/><stop offset=".5329" stop-color="#a5c3fe"/><stop offset=".5617" stop-color="#86a9fc"/><stop offset=".5979" stop-color="#7093f3"/><stop offset=".6342" stop-color="#6788ee"/><stop offset=".6854" stop-color="#6788ee"/><stop offset=".7592" stop-color="#799cf8"/><stop offset=".8092" stop-color="#8db0fe"/><stop offset=".8604" stop-color="#a3c2fe"/><stop offset=".9242" stop-color="#c1d4f4"/><stop offset="1" stop-color="#dcdddd"/></linearGradient><linearGradient id="a61"><stop offset=".0004" stop-color="#e5d8d1"/><stop offset=".0192" stop-color="#e6d7cf"/><stop offset=".0617" stop-color="#eed0c0"/><stop offset=".1054" stop-color="#f5c2aa"/><stop offset=".1479" stop-color="#f7b093"/><stop offset=".1942" stop-color="#f39778"/><stop offset=".2617" stop-color="#e7745b"/><stop offset=".3117" stop-color="#df634e"/><stop offset=".3392" stop-color="#de614d"/><stop offset=".3729" stop-color="#e67259"/><stop offset=".4117" stop-color="#f18d6f"/><stop offset=".4617" stop-color="#f7ac8e"/><stop offset=".4817" stop-color="#f6bda2"/><stop offset=".4904" stop-color="#f1ccb8"/><stop offset=".5004" stop-color="#dcdddd"/><stop offset=".5167" stop-color="#c0d4f5"/><stop offset=".5329" stop-color="#a5c3fe"/><stop offset=".5667" stop-color="#82a6fb"/><stop offset=".5967" stop-color="#7093f3"/><stop offset=".6404" stop-color="#6687ed"/><stop offset=".6917" stop-color="#6788ee"/><stop offset=".7617" stop-color="#799cf8"/><stop offset=".8117" stop-color="#8db0fe"/><stop offset=".8617" stop-color="#a3c2fe"/><stop offset=".9279" stop-color="#c3d5f4"/><stop offset="1" stop-color="#dcdddd"/></linearGradient><linearGradient id="a62"><stop offset=".0004" stop-color="#e5d8d1"/><stop offset=".0254" stop-color="#e7d7ce"/><stop offset=".0654" stop-color="#efcfbf"/><stop offset=".1054" stop-color="#f5c2aa"/><stop offset=".1467" stop-color="#f7b093"/><stop offset=".2117" stop-color="#f18d6f"/><stop offset=".2679" stop-color="#e57058"/><stop offset=".3067" stop-color="#df634e"/><stop offset=".3417" stop-color="#de614d"/><stop offset=".3767" stop-color="#e7745b"/><stop offset=".4129" stop-color="#f18d6f"/><stop offset=".4642" stop-color="#f7ad90"/><stop offset=".4804" stop-color="#f7bca1"/><stop offset=".4904" stop-color="#f1ccb8"/><stop offset=".5004" stop-color="#dcdddd"/><stop offset=".5167" stop-color="#c0d4f5"/><stop offset=".5329" stop-color="#a5c3fe"/><stop offset=".5579" stop-color="#89acfd"/><stop offset=".5954" stop-color="#7093f3"/><stop offset=".6342" stop-color="#6687ed"/><stop offset=".6879" stop-color="#6687ed"/><stop offset=".7604" stop-color="#779af7"/><stop offset=".8129" stop-color="#8db0fe"/><stop offset=".8629" stop-color="#a3c2fe"/><stop offset=".9317" stop-color="#c4d5f3"/><stop offset="1" stop-color="#dcdddd"/></linearGradient><linearGradient id="a63"><stop offset=".0004" stop-color="#e5d8d1"/><stop offset=".0204" stop-color="#e6d7cf"/><stop offset=".0629" stop-color="#eed0c0"/><stop offset=".1029" stop-color="#f5c4ac"/><stop offset=".1467" stop-color="#f7b093"/><stop offset=".2104" stop-color="#f18d6f"/><stop offset=".2617" stop-color="#e67259"/><stop offset=".3104" stop-color="#de614d"/><stop offset=".3379" stop-color="#dd5f4b"/><stop offset=".3717" stop-color="#e57058"/><stop offset=".4129" stop-color="#f18d6f"/><stop offset=".4642" stop-color="#f7ad90"/><stop offset=".4804" stop-color="#f7bca1"/><stop offset=".4904" stop-color="#f1ccb8"/><stop offset=".5004" stop-color="#dcdddd"/><stop offset=".5167" stop-color="#c0d4f5"/><stop offset=".5329" stop-color="#a5c3fe"/><stop offset=".5642" stop-color="#84a7fc"/><stop offset=".6004" stop-color="#6e90f2"/><stop offset=".6404" stop-color="#6485ec"/><stop offset=".6842" stop-color="#6485ec"/><stop offset=".7554" stop-color="#7597f6"/><stop offset=".8154" stop-color="#8db0fe"/><stop offset=".8642" stop-color="#a3c2fe"/><stop offset=".9354" stop-color="#c5d6f2"/><stop offset="1" stop-color="#dcdddd"/></linearGradient><linearGradient id="a64"><stop offset=".0004" stop-color="#e5d8d1"/><stop offset=".0217" stop-color="#e6d7cf"/><stop offset=".0567" stop-color="#edd2c3"/><stop offset=".1004" stop-color="#f4c5ad"/><stop offset=".1504" stop-color="#f7af91"/><stop offset=".2379" stop-color="#eb7d62"/><stop offset=".2867" stop-color="#e16751"/><stop offset=".3354" stop-color="#dc5d4a"/><stop offset=".3754" stop-color="#e67259"/><stop offset=".4067" stop-color="#ef886b"/><stop offset=".4642" stop-color="#f7ad90"/><stop offset=".4804" stop-color="#f7bca1"/><stop offset=".4917" stop-color="#efcebd"/><stop offset=".5004" stop-color="#dcdddd"/><stop offset=".5167" stop-color="#c0d4f5"/><stop offset=".5329" stop-color="#a5c3fe"/><stop offset=".5654" stop-color="#82a6fb"/><stop offset=".5992" stop-color="#6e90f2"/><stop offset=".6467" stop-color="#6384eb"/><stop offset=".6917" stop-color="#6485ec"/><stop offset=".7542" stop-color="#7396f5"/><stop offset=".8142" stop-color="#8caffe"/><stop offset=".8667" stop-color="#a3c2fe"/><stop offset=".9279" stop-color="#c1d4f4"/><stop offset="1" stop-color="#dcdddd"/></linearGradient><linearGradient id="a65"><stop offset=".0004" stop-color="#e5d8d1"/><stop offset=".0154" stop-color="#e5d8d1"/><stop offset=".0542" stop-color="#ecd3c5"/><stop offset=".1042" stop-color="#f5c4ac"/><stop offset=".1479" stop-color="#f7b093"/><stop offset=".1942" stop-color="#f39778"/><stop offset=".2429" stop-color="#e97a5f"/><stop offset=".3004" stop-color="#de614d"/><stop offset=".3367" stop-color="#dc5d4a"/><stop offset=".3704" stop-color="#e46e56"/><stop offset=".4192" stop-color="#f29072"/><stop offset=".4642" stop-color="#f7ad90"/><stop offset=".4829" stop-color="#f6bfa6"/><stop offset=".4917" stop-color="#efcebd"/><stop offset=".5004" stop-color="#dcdddd"/><stop offset=".5167" stop-color="#c0d4f5"/><stop offset=".5329" stop-color="#a5c3fe"/><stop offset=".5667" stop-color="#81a4fb"/><stop offset=".6042" stop-color="#6b8df0"/><stop offset=".6379" stop-color="#6384eb"/><stop offset=".6892" stop-color="#6384eb"/><stop offset=".7654" stop-color="#7699f6"/><stop offset=".8192" stop-color="#8db0fe"/><stop offset=".8654" stop-color="#a2c1ff"/><stop offset=".9317" stop-color="#c3d5f4"/><stop offset="1" stop-color="#dcdddd"/></linearGradient><linearGradient id="a66"><stop offset=".0004" stop-color="#e5d8d1"/><stop offset=".0242" stop-color="#e6d7cf"/><stop offset=".0592" stop-color="#edd2c3"/><stop offset=".1079" stop-color="#f5c2aa"/><stop offset=".1479" stop-color="#f7b093"/><stop offset=".1879" stop-color="#f49a7b"/><stop offset=".2517" stop-color="#e7745b"/><stop offset=".3029" stop-color="#dd5f4b"/><stop offset=".3342" stop-color="#da5a49"/><stop offset=".3654" stop-color="#e36b54"/><stop offset=".4054" stop-color="#ee8669"/><stop offset=".4579" stop-color="#f7a98b"/><stop offset=".4792" stop-color="#f7ba9f"/><stop offset=".4904" stop-color="#f1cdba"/><stop offset=".5004" stop-color="#dcdddd"/><stop offset=".5167" stop-color="#c1d4f4"/><stop offset=".5317" stop-color="#a6c4fe"/><stop offset=".5642" stop-color="#82a6fb"/><stop offset=".5967" stop-color="#6e90f2"/><stop offset=".6417" stop-color="#6282ea"/><stop offset=".6867" stop-color="#6282ea"/><stop offset=".7529" stop-color="#7093f3"/><stop offset=".8217" stop-color="#8db0fe"/><stop offset=".8667" stop-color="#a2c1ff"/><stop offset=".9329" stop-color="#c3d5f4"/><stop offset="1" stop-color="#dcdddd"/></linearGradient><linearGradient id="a67"><stop offset=".0004" stop-color="#e5d8d1"/><stop offset=".0254" stop-color="#e6d7cf"/><stop offset=".0604" stop-color="#edd2c3"/><stop offset=".1004" stop-color="#f4c6af"/><stop offset=".1479" stop-color="#f7b093"/><stop offset=".1904" stop-color="#f4987a"/><stop offset=".2567" stop-color="#e57058"/><stop offset=".3054" stop-color="#dc5d4a"/><stop offset=".3367" stop-color="#da5a49"/><stop offset=".3754" stop-color="#e57058"/><stop offset=".4154" stop-color="#f18d6f"/><stop offset=".4667" stop-color="#f7af91"/><stop offset=".4792" stop-color="#f7ba9f"/><stop offset=".4904" stop-color="#f1cdba"/><stop offset=".5004" stop-color="#dcdddd"/><stop offset=".5167" stop-color="#c1d4f4"/><stop offset=".5317" stop-color="#a6c4fe"/><stop offset=".5504" stop-color="#8fb1fe"/><stop offset=".5654" stop-color="#81a4fb"/><stop offset=".6042" stop-color="#6a8bef"/><stop offset=".6454" stop-color="#6180e9"/><stop offset=".6967" stop-color="#6282ea"/><stop offset=".7754" stop-color="#779af7"/><stop offset=".8242" stop-color="#8db0fe"/><stop offset=".8717" stop-color="#a3c2fe"/><stop offset=".9342" stop-color="#c3d5f4"/><stop offset="1" stop-color="#dcdddd"/></linearGradient><linearGradient id="a68"><stop offset=".0004" stop-color="#e5d8d1"/><stop offset=".0204" stop-color="#e5d8d1"/><stop offset=".0654" stop-color="#edd1c2"/><stop offset=".1017" stop-color="#f4c6af"/><stop offset=".1517" stop-color="#f7af91"/><stop offset=".2092" stop-color="#f08b6e"/><stop offset=".2617" stop-color="#e36c55"/><stop offset=".3067" stop-color="#da5a49"/><stop offset=".3354" stop-color="#d95847"/><stop offset=".3679" stop-color="#e36b54"/><stop offset=".4092" stop-color="#ef886b"/><stop offset=".4667" stop-color="#f7af91"/><stop offset=".4817" stop-color="#f6bea4"/><stop offset=".4904" stop-color="#f1cdba"/><stop offset=".5004" stop-color="#dcdddd"/><stop offset=".5167" stop-color="#c1d4f4"/><stop offset=".5317" stop-color="#a6c4fe"/><stop offset=".5617" stop-color="#84a7fc"/><stop offset=".5992" stop-color="#6b8df0"/><stop offset=".6367" stop-color="#6180e9"/><stop offset=".6954" stop-color="#6180e9"/><stop offset=".7717" stop-color="#7597f6"/><stop offset=".8267" stop-color="#8db0fe"/><stop offset=".8704" stop-color="#a2c1ff"/><stop offset=".9292" stop-color="#c0d4f5"/><stop offset="1" stop-color="#dcdddd"/></linearGradient><linearGradient id="a69"><stop offset=".0004" stop-color="#e4d9d2"/><stop offset=".0292" stop-color="#e6d7cf"/><stop offset=".0704" stop-color="#eed0c0"/><stop offset=".1054" stop-color="#f4c5ad"/><stop offset=".1492" stop-color="#f7b093"/><stop offset=".2054" stop-color="#f18f71"/><stop offset=".2592" stop-color="#e36c55"/><stop offset=".3004" stop-color="#da5a49"/><stop offset=".3329" stop-color="#d85646"/><stop offset=".3692" stop-color="#e36b54"/><stop offset=".4004" stop-color="#ec8165"/><stop offset=".4629" stop-color="#f7ac8e"/><stop offset=".4804" stop-color="#f6bda2"/><stop offset=".4917" stop-color="#efcfbf"/><stop offset=".5004" stop-color="#dcdddd"/><stop offset=".5167" stop-color="#c1d4f4"/><stop offset=".5317" stop-color="#a6c4fe"/><stop offset=".5642" stop-color="#81a4fb"/><stop offset=".6004" stop-color="#6a8bef"/><stop offset=".6392" stop-color="#5f7fe8"/><stop offset=".6954" stop-color="#5f7fe8"/><stop offset=".7679" stop-color="#7295f4"/><stop offset=".8292" stop-color="#8db0fe"/><stop offset=".8754" stop-color="#a3c2fe"/><stop offset=".9329" stop-color="#c1d4f4"/><stop offset="1" stop-color="#dcdddd"/></linearGradient><linearGradient id="a70"><stop offset=".0004" stop-color="#e4d9d2"/><stop offset=".0242" stop-color="#e5d8d1"/><stop offset=".0617" stop-color="#ecd3c5"/><stop offset=".1042" stop-color="#f4c6af"/><stop offset=".1492" stop-color="#f7b093"/><stop offset=".2067" stop-color="#f18d6f"/><stop offset=".2567" stop-color="#e36c55"/><stop offset=".3004" stop-color="#d95847"/><stop offset=".3317" stop-color="#d75445"/><stop offset=".3704" stop-color="#e36b54"/><stop offset=".4129" stop-color="#f08a6c"/><stop offset=".4629" stop-color="#f7ac8e"/><stop offset=".4804" stop-color="#f6bda2"/><stop offset=".4917" stop-color="#efcfbf"/><stop offset=".5004" stop-color="#dcdddd"/><stop offset=".5117" stop-color="#cbd8ee"/><stop offset=".5204" stop-color="#bad0f8"/><stop offset=".5342" stop-color="#a2c1ff"/><stop offset=".5654" stop-color="#80a3fa"/><stop offset=".6017" stop-color="#688aef"/><stop offset=".6404" stop-color="#5e7de7"/><stop offset=".6954" stop-color="#5e7de7"/><stop offset=".7717" stop-color="#7295f4"/><stop offset=".8317" stop-color="#8db0fe"/><stop offset=".8742" stop-color="#a2c1ff"/><stop offset=".9367" stop-color="#c3d5f4"/><stop offset="1" stop-color="#dcdddd"/></linearGradient><linearGradient id="a71"><stop offset=".0004" stop-color="#e4d9d2"/><stop offset=".0267" stop-color="#e5d8d1"/><stop offset=".0667" stop-color="#edd2c3"/><stop offset=".1079" stop-color="#f4c5ad"/><stop offset=".1667" stop-color="#f7a688"/><stop offset=".2142" stop-color="#ee8669"/><stop offset=".2542" stop-color="#e36c55"/><stop offset=".2892" stop-color="#da5a49"/><stop offset=".3292" stop-color="#d65244"/><stop offset=".3604" stop-color="#df634e"/><stop offset=".4067" stop-color="#ee8468"/><stop offset=".4592" stop-color="#f7a98b"/><stop offset=".4717" stop-color="#f7b396"/><stop offset=".4804" stop-color="#f6bda2"/><stop offset=".4929" stop-color="#edd2c3"/><stop offset=".5004" stop-color="#dcdddd"/><stop offset=".5079" stop-color="#d3dbe7"/><stop offset=".5204" stop-color="#bad0f8"/><stop offset=".5342" stop-color="#a2c1ff"/><stop offset=".5504" stop-color="#8db0fe"/><stop offset=".5679" stop-color="#7da0f9"/><stop offset=".6029" stop-color="#6788ee"/><stop offset=".6417" stop-color="#5d7ce6"/><stop offset=".6954" stop-color="#5d7ce6"/><stop offset=".7304" stop-color="#6384eb"/><stop offset=".7754" stop-color="#7295f4"/><stop offset=".8342" stop-color="#8db0fe"/><stop offset=".8767" stop-color="#a2c1ff"/><stop offset=".9379" stop-color="#c3d5f4"/><stop offset="1" stop-color="#dcdddd"/></linearGradient><linearGradient id="a72"><stop offset=".0004" stop-color="#e4d9d2"/><stop offset=".0279" stop-color="#e5d8d1"/><stop offset=".0717" stop-color="#edd1c2"/><stop offset=".1142" stop-color="#f5c2aa"/><stop offset=".1667" stop-color="#f7a688"/><stop offset=".2154" stop-color="#ee8468"/><stop offset=".2579" stop-color="#e26952"/><stop offset=".2892" stop-color="#d95847"/><stop offset=".3279" stop-color="#d55042"/><stop offset=".3617" stop-color="#df634e"/><stop offset=".4029" stop-color="#ec8165"/><stop offset=".4592" stop-color="#f7a98b"/><stop offset=".4792" stop-color="#f7bca1"/><stop offset=".4904" stop-color="#f0cdbb"/><stop offset=".5004" stop-color="#dcdddd"/><stop offset=".5067" stop-color="#d5dbe5"/><stop offset=".5204" stop-color="#bad0f8"/><stop offset=".5342" stop-color="#a2c1ff"/><stop offset=".5642" stop-color="#80a3fa"/><stop offset=".6042" stop-color="#6687ed"/><stop offset=".6429" stop-color="#5b7ae5"/><stop offset=".6967" stop-color="#5b7ae5"/><stop offset=".7404" stop-color="#6485ec"/><stop offset=".7829" stop-color="#7396f5"/><stop offset=".8367" stop-color="#8db0fe"/><stop offset=".8779" stop-color="#a2c1ff"/><stop offset=".9379" stop-color="#c1d4f4"/><stop offset="1" stop-color="#dcdddd"/></linearGradient><linearGradient id="a73"><stop offset=".0004" stop-color="#e4d9d2"/><stop offset=".0304" stop-color="#e5d8d1"/><stop offset=".0629" stop-color="#ebd3c6"/><stop offset=".1092" stop-color="#f4c5ad"/><stop offset=".1667" stop-color="#f7a688"/><stop offset=".2067" stop-color="#f08a6c"/><stop offset=".2579" stop-color="#e16751"/><stop offset=".2942" stop-color="#d75445"/><stop offset=".3267" stop-color="#d44e41"/><stop offset=".3604" stop-color="#de614d"/><stop offset=".3967" stop-color="#ea7b60"/><stop offset=".4554" stop-color="#f7a688"/><stop offset=".4792" stop-color="#f7bca1"/><stop offset=".4892" stop-color="#f1ccb8"/><stop offset=".5004" stop-color="#dcdddd"/><stop offset=".5067" stop-color="#d5dbe5"/><stop offset=".5204" stop-color="#bad0f8"/><stop offset=".5342" stop-color="#a2c1ff"/><stop offset=".5667" stop-color="#7da0f9"/><stop offset=".6079" stop-color="#6384eb"/><stop offset=".6429" stop-color="#5a78e4"/><stop offset=".6992" stop-color="#5a78e4"/><stop offset=".7767" stop-color="#6f92f3"/><stop offset=".8179" stop-color="#82a6fb"/><stop offset=".8629" stop-color="#98b9ff"/><stop offset=".9217" stop-color="#b9d0f9"/><stop offset=".9604" stop-color="#ccd9ed"/><stop offset="1" stop-color="#dcdddd"/></linearGradient><linearGradient id="a74"><stop offset=".0004" stop-color="#e4d9d2"/><stop offset=".0242" stop-color="#e4d9d2"/><stop offset=".0479" stop-color="#e8d6cc"/><stop offset=".1129" stop-color="#f5c4ac"/><stop offset=".1754" stop-color="#f5a081"/><stop offset=".2404" stop-color="#e57058"/><stop offset=".2792" stop-color="#d95847"/><stop offset=".3079" stop-color="#d44e41"/><stop offset=".3254" stop-color="#d24b40"/><stop offset=".3592" stop-color="#dd5f4b"/><stop offset=".3954" stop-color="#e97a5f"/><stop offset=".4292" stop-color="#f39577"/><stop offset=".4617" stop-color="#f7aa8c"/><stop offset=".4779" stop-color="#f7ba9f"/><stop offset=".4892" stop-color="#f1ccb8"/><stop offset=".5004" stop-color="#dcdddd"/><stop offset=".5067" stop-color="#d5dbe5"/><stop offset=".5204" stop-color="#bad0f8"/><stop offset=".5342" stop-color="#a2c1ff"/><stop offset=".5617" stop-color="#81a4fb"/><stop offset=".6029" stop-color="#6485ec"/><stop offset=".6442" stop-color="#5977e3"/><stop offset=".7004" stop-color="#5977e3"/><stop offset=".7742" stop-color="#6c8ff1"/><stop offset=".8179" stop-color="#81a4fb"/><stop offset=".8654" stop-color="#98b9ff"/><stop offset=".9217" stop-color="#b7cff9"/><stop offset=".9629" stop-color="#cdd9ec"/><stop offset="1" stop-color="#dcdddd"/></linearGradient><linearGradient id="a75"><stop offset=".0004" stop-color="#e4d9d2"/><stop offset=".0254" stop-color="#e4d9d2"/><stop offset=".0492" stop-color="#e8d6cc"/><stop offset=".1129" stop-color="#f5c4ac"/><stop offset=".1767" stop-color="#f59f80"/><stop offset=".2404" stop-color="#e46e56"/><stop offset=".2829" stop-color="#d75445"/><stop offset=".3054" stop-color="#d24b40"/><stop offset=".3242" stop-color="#d1493f"/><stop offset=".3579" stop-color="#dc5d4a"/><stop offset=".3917" stop-color="#e8765c"/><stop offset=".4192" stop-color="#f18d6f"/><stop offset=".4579" stop-color="#f7a889"/><stop offset=".4779" stop-color="#f7ba9f"/><stop offset=".4904" stop-color="#efcebd"/><stop offset=".5004" stop-color="#dcdddd"/><stop offset=".5067" stop-color="#d5dbe5"/><stop offset=".5217" stop-color="#b9d0f9"/><stop offset=".5342" stop-color="#a2c1ff"/><stop offset=".5642" stop-color="#7ea1fa"/><stop offset=".6067" stop-color="#6282ea"/><stop offset=".6554" stop-color="#5673e0"/><stop offset=".7029" stop-color="#5875e1"/><stop offset=".7717" stop-color="#6a8bef"/><stop offset=".8242" stop-color="#82a6fb"/><stop offset=".8667" stop-color="#98b9ff"/><stop offset=".9279" stop-color="#bad0f8"/><stop offset=".9617" stop-color="#ccd9ed"/><stop offset="1" stop-color="#dcdddd"/></linearGradient><linearGradient id="a76"><stop offset=".0004" stop-color="#e4d9d2"/><stop offset=".0454" stop-color="#e7d7ce"/><stop offset=".0842" stop-color="#efcebd"/><stop offset=".1129" stop-color="#f5c4ac"/><stop offset=".1467" stop-color="#f7b194"/><stop offset=".1817" stop-color="#f49a7b"/><stop offset=".2454" stop-color="#e26952"/><stop offset=".2967" stop-color="#d24b40"/><stop offset=".3242" stop-color="#d0473d"/><stop offset=".3654" stop-color="#de614d"/><stop offset=".4017" stop-color="#eb7d62"/><stop offset=".4617" stop-color="#f7aa8c"/><stop offset=".4804" stop-color="#f6bea4"/><stop offset=".4904" stop-color="#efcebd"/><stop offset=".5004" stop-color="#dcdddd"/><stop offset=".5067" stop-color="#d5dbe5"/><stop offset=".5217" stop-color="#b9d0f9"/><stop offset=".5342" stop-color="#a2c1ff"/><stop offset=".5492" stop-color="#8db0fe"/><stop offset=".5667" stop-color="#7b9ff9"/><stop offset=".6079" stop-color="#6180e9"/><stop offset=".6542" stop-color="#5572df"/><stop offset=".7067" stop-color="#5673e0"/><stop offset=".7767" stop-color="#6a8bef"/><stop offset=".8279" stop-color="#82a6fb"/><stop offset=".8692" stop-color="#98b9ff"/><stop offset=".9317" stop-color="#bbd1f8"/><stop offset="1" stop-color="#dcdddd"/></linearGradient><linearGradient id="a77"><stop offset=".0004" stop-color="#e4d9d2"/><stop offset=".0279" stop-color="#e4d9d2"/><stop offset=".0504" stop-color="#e8d6cc"/><stop offset=".0867" stop-color="#f0cdbb"/><stop offset=".1217" stop-color="#f6bfa6"/><stop offset=".1779" stop-color="#f59c7d"/><stop offset=".2367" stop-color="#e36c55"/><stop offset=".2892" stop-color="#d24b40"/><stop offset=".3229" stop-color="#cf453c"/><stop offset=".3642" stop-color="#dd5f4b"/><stop offset=".3979" stop-color="#e97a5f"/><stop offset=".4579" stop-color="#f7a889"/><stop offset=".4779" stop-color="#f7bca1"/><stop offset=".4892" stop-color="#f1cdba"/><stop offset=".5004" stop-color="#dcdddd"/><stop offset=".5067" stop-color="#d5dbe5"/><stop offset=".5217" stop-color="#b9d0f9"/><stop offset=".5342" stop-color="#a2c1ff"/><stop offset=".5479" stop-color="#8fb1fe"/><stop offset=".5692" stop-color="#799cf8"/><stop offset=".6117" stop-color="#5e7de7"/><stop offset=".6529" stop-color="#5470de"/><stop offset=".7092" stop-color="#5572df"/><stop offset=".7779" stop-color="#688aef"/><stop offset=".8254" stop-color="#80a3fa"/><stop offset=".8729" stop-color="#98b9ff"/><stop offset=".9354" stop-color="#bcd2f7"/><stop offset="1" stop-color="#dcdddd"/></linearGradient><linearGradient id="a78"><stop offset=".0004" stop-color="#e4d9d2"/><stop offset=".0179" stop-color="#e3d9d3"/><stop offset=".0504" stop-color="#e8d6cc"/><stop offset=".1067" stop-color="#f4c6af"/><stop offset=".1429" stop-color="#f7b194"/><stop offset=".1779" stop-color="#f49a7b"/><stop offset=".2167" stop-color="#e97a5f"/><stop offset=".2492" stop-color="#de614d"/><stop offset=".2929" stop-color="#d0473d"/><stop offset=".3217" stop-color="#cd423b"/><stop offset=".3629" stop-color="#dc5d4a"/><stop offset=".3942" stop-color="#e8765c"/><stop offset=".4517" stop-color="#f6a385"/><stop offset=".4692" stop-color="#f7b194"/><stop offset=".4779" stop-color="#f7bca1"/><stop offset=".4917" stop-color="#edd1c2"/><stop offset=".5004" stop-color="#dcdddd"/><stop offset=".5067" stop-color="#d5dbe5"/><stop offset=".5217" stop-color="#b9d0f9"/><stop offset=".5342" stop-color="#a2c1ff"/><stop offset=".5629" stop-color="#7ea1fa"/><stop offset=".5879" stop-color="#6a8bef"/><stop offset=".6067" stop-color="#5f7fe8"/><stop offset=".6529" stop-color="#536edd"/><stop offset=".7042" stop-color="#536edd"/><stop offset=".7417" stop-color="#5a78e4"/><stop offset=".7829" stop-color="#688aef"/><stop offset=".8342" stop-color="#82a6fb"/><stop offset=".8742" stop-color="#98b9ff"/><stop offset=".9367" stop-color="#bcd2f7"/><stop offset="1" stop-color="#dcdddd"/></linearGradient><linearGradient id="a79"><stop offset=".0004" stop-color="#e4d9d2"/><stop offset=".0179" stop-color="#e3d9d3"/><stop offset=".0454" stop-color="#e7d7ce"/><stop offset=".0767" stop-color="#eed0c0"/><stop offset=".1167" stop-color="#f5c0a7"/><stop offset=".1754" stop-color="#f49a7b"/><stop offset=".2092" stop-color="#eb7d62"/><stop offset=".2454" stop-color="#de614d"/><stop offset=".2904" stop-color="#cf453c"/><stop offset=".3204" stop-color="#cc403a"/><stop offset=".3529" stop-color="#d75445"/><stop offset=".3904" stop-color="#e67259"/><stop offset=".4517" stop-color="#f6a385"/><stop offset=".4629" stop-color="#f7ac8e"/><stop offset=".4767" stop-color="#f7ba9f"/><stop offset=".4904" stop-color="#efcfbf"/><stop offset=".5004" stop-color="#dcdddd"/><stop offset=".5092" stop-color="#d2dbe8"/><stop offset=".5217" stop-color="#b9d0f9"/><stop offset=".5342" stop-color="#a2c1ff"/><stop offset=".5642" stop-color="#7da0f9"/><stop offset=".5892" stop-color="#688aef"/><stop offset=".6079" stop-color="#5e7de7"/><stop offset=".6517" stop-color="#516ddb"/><stop offset=".7079" stop-color="#516ddb"/><stop offset=".7442" stop-color="#5977e3"/><stop offset=".7817" stop-color="#6687ed"/><stop offset=".8379" stop-color="#82a6fb"/><stop offset=".8767" stop-color="#98b9ff"/><stop offset=".9317" stop-color="#b9d0f9"/><stop offset=".9629" stop-color="#cbd8ee"/><stop offset="1" stop-color="#dcdddd"/></linearGradient><linearGradient id="a80"><stop offset=".0004" stop-color="#e4d9d2"/><stop offset=".0192" stop-color="#e3d9d3"/><stop offset=".0529" stop-color="#e9d5cb"/><stop offset=".1079" stop-color="#f5c4ac"/><stop offset=".1392" stop-color="#f7b194"/><stop offset=".1704" stop-color="#f59c7d"/><stop offset=".2054" stop-color="#eb7d62"/><stop offset=".2404" stop-color="#de614d"/><stop offset=".2879" stop-color="#cd423b"/><stop offset=".3192" stop-color="#cb3e38"/><stop offset=".3517" stop-color="#d65244"/><stop offset=".3867" stop-color="#e46e56"/><stop offset=".4192" stop-color="#f08b6e"/><stop offset=".4517" stop-color="#f6a385"/><stop offset=".4754" stop-color="#f7b99e"/><stop offset=".4892" stop-color="#f0cdbb"/><stop offset=".5004" stop-color="#dcdddd"/><stop offset=".5129" stop-color="#cbd8ee"/><stop offset=".5229" stop-color="#b7cff9"/><stop offset=".5329" stop-color="#a5c3fe"/><stop offset=".5479" stop-color="#8fb1fe"/><stop offset=".5654" stop-color="#7b9ff9"/><stop offset=".5904" stop-color="#6788ee"/><stop offset=".6092" stop-color="#5d7ce6"/><stop offset=".6517" stop-color="#506bda"/><stop offset=".7017" stop-color="#4f69d9"/><stop offset=".7267" stop-color="#536edd"/><stop offset=".7804" stop-color="#6384eb"/><stop offset=".8392" stop-color="#81a4fb"/><stop offset=".8792" stop-color="#98b9ff"/><stop offset=".9329" stop-color="#b9d0f9"/><stop offset=".9679" stop-color="#cdd9ec"/><stop offset="1" stop-color="#dcdddd"/></linearGradient><linearGradient id="a81"><stop offset=".0004" stop-color="#e3d9d3"/><stop offset=".0279" stop-color="#e4d9d2"/><stop offset=".0679" stop-color="#edd2c3"/><stop offset=".1079" stop-color="#f5c2aa"/><stop offset=".1529" stop-color="#f7a688"/><stop offset=".2017" stop-color="#eb7d62"/><stop offset=".2517" stop-color="#d75445"/><stop offset=".2904" stop-color="#cb3e38"/><stop offset=".3179" stop-color="#ca3b37"/><stop offset=".3529" stop-color="#d65244"/><stop offset=".3979" stop-color="#e9785d"/><stop offset=".4254" stop-color="#f29072"/><stop offset=".4604" stop-color="#f7aa8c"/><stop offset=".4767" stop-color="#f7bca1"/><stop offset=".4854" stop-color="#f3c8b2"/><stop offset=".4917" stop-color="#edd2c3"/><stop offset=".5004" stop-color="#dcdddd"/><stop offset=".5129" stop-color="#cbd8ee"/><stop offset=".5229" stop-color="#b7cff9"/><stop offset=".5329" stop-color="#a5c3fe"/><stop offset=".5479" stop-color="#8fb1fe"/><stop offset=".5667" stop-color="#7a9df8"/><stop offset=".5879" stop-color="#688aef"/><stop offset=".6104" stop-color="#5b7ae5"/><stop offset=".6342" stop-color="#536edd"/><stop offset=".6604" stop-color="#4e68d8"/><stop offset=".7067" stop-color="#4e68d8"/><stop offset=".7454" stop-color="#5572df"/><stop offset=".7917" stop-color="#6687ed"/><stop offset=".8429" stop-color="#81a4fb"/><stop offset=".8817" stop-color="#98b9ff"/><stop offset=".9367" stop-color="#bad0f8"/><stop offset=".9667" stop-color="#ccd9ed"/><stop offset="1" stop-color="#dcdddd"/></linearGradient><linearGradient id="a82"><stop offset=".0004" stop-color="#e3d9d3"/><stop offset=".0267" stop-color="#e4d9d2"/><stop offset=".0629" stop-color="#ecd3c5"/><stop offset=".1029" stop-color="#f5c4ac"/><stop offset=".1492" stop-color="#f7a688"/><stop offset=".2017" stop-color="#e97a5f"/><stop offset=".2492" stop-color="#d65244"/><stop offset=".2817" stop-color="#cb3e38"/><stop offset=".3117" stop-color="#c73635"/><stop offset=".3517" stop-color="#d55042"/><stop offset=".3942" stop-color="#e7745b"/><stop offset=".4192" stop-color="#f08b6e"/><stop offset=".4529" stop-color="#f6a586"/><stop offset=".4754" stop-color="#f7ba9f"/><stop offset=".4892" stop-color="#efcebd"/><stop offset=".5004" stop-color="#dcdddd"/><stop offset=".5067" stop-color="#d6dce4"/><stop offset=".5217" stop-color="#bad0f8"/><stop offset=".5342" stop-color="#a3c2fe"/><stop offset=".5504" stop-color="#8caffe"/><stop offset=".5667" stop-color="#7a9df8"/><stop offset=".6117" stop-color="#5a78e4"/><stop offset=".6354" stop-color="#516ddb"/><stop offset=".6604" stop-color="#4c66d6"/><stop offset=".7117" stop-color="#4c66d6"/><stop offset=".7479" stop-color="#5470de"/><stop offset=".7879" stop-color="#6282ea"/><stop offset=".8292" stop-color="#779af7"/><stop offset=".8842" stop-color="#98b9ff"/><stop offset=".9404" stop-color="#bbd1f8"/><stop offset="1" stop-color="#dcdddd"/></linearGradient><linearGradient id="a83"><stop offset=".0004" stop-color="#e3d9d3"/><stop offset=".0254" stop-color="#e4d9d2"/><stop offset=".0604" stop-color="#ecd3c5"/><stop offset=".1042" stop-color="#f5c1a9"/><stop offset=".1479" stop-color="#f6a586"/><stop offset=".1792" stop-color="#f08b6e"/><stop offset=".2079" stop-color="#e57058"/><stop offset=".2467" stop-color="#d55042"/><stop offset=".2842" stop-color="#c83836"/><stop offset=".3104" stop-color="#c53334"/><stop offset=".3442" stop-color="#d1493f"/><stop offset=".3879" stop-color="#e46e56"/><stop offset=".4192" stop-color="#f08b6e"/><stop offset=".4542" stop-color="#f7a688"/><stop offset=".4754" stop-color="#f7bca1"/><stop offset=".4817" stop-color="#f5c4ac"/><stop offset=".4917" stop-color="#ecd3c5"/><stop offset=".5004" stop-color="#dcdddd"/><stop offset=".5142" stop-color="#cad8ef"/><stop offset=".5229" stop-color="#b9d0f9"/><stop offset=".5329" stop-color="#a6c4fe"/><stop offset=".5517" stop-color="#8badfd"/><stop offset=".5742" stop-color="#7396f5"/><stop offset=".5929" stop-color="#6485ec"/><stop offset=".6217" stop-color="#5572df"/><stop offset=".6717" stop-color="#4a63d3"/><stop offset=".7167" stop-color="#4b64d5"/><stop offset=".7554" stop-color="#5470de"/><stop offset=".7929" stop-color="#6282ea"/><stop offset=".8354" stop-color="#799cf8"/><stop offset=".8879" stop-color="#98b9ff"/><stop offset=".9379" stop-color="#b9d0f9"/><stop offset=".9642" stop-color="#cad8ef"/><stop offset="1" stop-color="#dcdddd"/></linearGradient><linearGradient id="a84"><stop offset=".0004" stop-color="#e3d9d3"/><stop offset=".0242" stop-color="#e4d9d2"/><stop offset=".0579" stop-color="#ecd3c5"/><stop offset=".1029" stop-color="#f5c0a7"/><stop offset=".1442" stop-color="#f6a586"/><stop offset=".1867" stop-color="#ec7f63"/><stop offset=".2379" stop-color="#d65244"/><stop offset=".2804" stop-color="#c73635"/><stop offset=".3092" stop-color="#c43032"/><stop offset=".3454" stop-color="#d1493f"/><stop offset=".3904" stop-color="#e57058"/><stop offset=".4229" stop-color="#f18f71"/><stop offset=".4517" stop-color="#f6a586"/><stop offset=".4742" stop-color="#f7ba9f"/><stop offset=".4879" stop-color="#f0cdbb"/><stop offset=".5004" stop-color="#dcdddd"/><stop offset=".5142" stop-color="#cad8ef"/><stop offset=".5229" stop-color="#b9d0f9"/><stop offset=".5342" stop-color="#a5c3fe"/><stop offset=".5629" stop-color="#7ea1fa"/><stop offset=".6029" stop-color="#5e7de7"/><stop offset=".6267" stop-color="#536edd"/><stop offset=".6529" stop-color="#4b64d5"/><stop offset=".7117" stop-color="#4961d2"/><stop offset=".7454" stop-color="#4f69d9"/><stop offset=".7954" stop-color="#6180e9"/><stop offset=".8417" stop-color="#7a9df8"/><stop offset=".8879" stop-color="#97b8ff"/><stop offset=".9392" stop-color="#b9d0f9"/><stop offset=".9692" stop-color="#ccd9ed"/><stop offset="1" stop-color="#dcdddd"/></linearGradient><linearGradient id="a85"><stop offset=".0004" stop-color="#e3d9d3"/><stop offset=".0317" stop-color="#e6d7cf"/><stop offset=".0604" stop-color="#edd1c2"/><stop offset=".0992" stop-color="#f5c0a7"/><stop offset=".1379" stop-color="#f7a688"/><stop offset=".1879" stop-color="#e97a5f"/><stop offset=".2354" stop-color="#d55042"/><stop offset=".2779" stop-color="#c53334"/><stop offset=".2929" stop-color="#c32e31"/><stop offset=".3079" stop-color="#c32e31"/><stop offset=".3492" stop-color="#d24b40"/><stop offset=".3904" stop-color="#e57058"/><stop offset=".4167" stop-color="#f08a6c"/><stop offset=".4492" stop-color="#f6a385"/><stop offset=".4742" stop-color="#f7bca1"/><stop offset=".4867" stop-color="#f1cdba"/><stop offset=".5004" stop-color="#dcdddd"/><stop offset=".5154" stop-color="#c9d7f0"/><stop offset=".5242" stop-color="#b7cff9"/><stop offset=".5354" stop-color="#a3c2fe"/><stop offset=".5504" stop-color="#8db0fe"/><stop offset=".5729" stop-color="#7597f6"/><stop offset=".6142" stop-color="#5875e1"/><stop offset=".6604" stop-color="#4961d2"/><stop offset=".7167" stop-color="#485fd1"/><stop offset=".7617" stop-color="#516ddb"/><stop offset=".8004" stop-color="#6180e9"/><stop offset=".8567" stop-color="#81a4fb"/><stop offset=".8904" stop-color="#97b8ff"/><stop offset=".9429" stop-color="#bad0f8"/><stop offset="1" stop-color="#dcdddd"/></linearGradient><linearGradient id="a86"><stop offset=".0004" stop-color="#e3d9d3"/><stop offset=".0154" stop-color="#e3d9d3"/><stop offset=".0492" stop-color="#ebd3c6"/><stop offset=".0929" stop-color="#f5c1a9"/><stop offset=".1354" stop-color="#f6a586"/><stop offset=".1829" stop-color="#e97a5f"/><stop offset=".2292" stop-color="#d55042"/><stop offset=".2742" stop-color="#c43032"/><stop offset=".2892" stop-color="#c12b30"/><stop offset=".3054" stop-color="#c12b30"/><stop offset=".3417" stop-color="#cf453c"/><stop offset=".3779" stop-color="#e0654f"/><stop offset=".4204" stop-color="#f18d6f"/><stop offset=".4517" stop-color="#f7a688"/><stop offset=".4717" stop-color="#f7b99e"/><stop offset=".4854" stop-color="#f1ccb8"/><stop offset=".5004" stop-color="#dcdddd"/><stop offset=".5142" stop-color="#cbd8ee"/><stop offset=".5217" stop-color="#bcd2f7"/><stop offset=".5342" stop-color="#a6c4fe"/><stop offset=".5517" stop-color="#8db0fe"/><stop offset=".5692" stop-color="#799cf8"/><stop offset=".5929" stop-color="#6485ec"/><stop offset=".6142" stop-color="#5875e1"/><stop offset=".6617" stop-color="#485fd1"/><stop offset=".6842" stop-color="#455cce"/><stop offset=".7217" stop-color="#465ecf"/><stop offset=".7567" stop-color="#4e68d8"/><stop offset=".8054" stop-color="#6180e9"/><stop offset=".8492" stop-color="#7a9df8"/><stop offset=".8929" stop-color="#97b8ff"/><stop offset=".9442" stop-color="#bad0f8"/><stop offset="1" stop-color="#dcdddd"/></linearGradient><linearGradient id="a87"><stop offset=".0004" stop-color="#e2dad5"/><stop offset=".0279" stop-color="#e6d7cf"/><stop offset=".0704" stop-color="#f2cbb7"/><stop offset=".0992" stop-color="#f7ba9f"/><stop offset=".1304" stop-color="#f6a586"/><stop offset=".1817" stop-color="#e8765c"/><stop offset=".2242" stop-color="#d55042"/><stop offset=".2704" stop-color="#c32e31"/><stop offset=".2854" stop-color="#c0282f"/><stop offset=".3029" stop-color="#c0282f"/><stop offset=".3504" stop-color="#d24b40"/><stop offset=".3904" stop-color="#e57058"/><stop offset=".4329" stop-color="#f4987a"/><stop offset=".4554" stop-color="#f7aa8c"/><stop offset=".4717" stop-color="#f7ba9f"/><stop offset=".4867" stop-color="#f0cdbb"/><stop offset=".5004" stop-color="#dcdddd"/><stop offset=".5167" stop-color="#c7d7f0"/><stop offset=".5242" stop-color="#b9d0f9"/><stop offset=".5354" stop-color="#a5c3fe"/><stop offset=".5504" stop-color="#90b2fe"/><stop offset=".5742" stop-color="#7597f6"/><stop offset=".6092" stop-color="#5a78e4"/><stop offset=".6329" stop-color="#4f69d9"/><stop offset=".6579" stop-color="#485fd1"/><stop offset=".6829" stop-color="#445acc"/><stop offset=".7154" stop-color="#445acc"/><stop offset=".7554" stop-color="#4b64d5"/><stop offset=".7967" stop-color="#5a78e4"/><stop offset=".8529" stop-color="#7a9df8"/><stop offset=".8979" stop-color="#98b9ff"/><stop offset=".9454" stop-color="#bad0f8"/><stop offset="1" stop-color="#dcdddd"/></linearGradient><linearGradient id="a88"><stop offset=".0004" stop-color="#e2dad5"/><stop offset=".0292" stop-color="#e7d7ce"/><stop offset=".0667" stop-color="#f2cbb7"/><stop offset=".0929" stop-color="#f7bca1"/><stop offset=".1242" stop-color="#f7a688"/><stop offset=".1704" stop-color="#ea7b60"/><stop offset=".2179" stop-color="#d55042"/><stop offset=".2679" stop-color="#c12b30"/><stop offset=".2804" stop-color="#c0282f"/><stop offset=".2817" stop-color="#be242e"/><stop offset=".3004" stop-color="#be242e"/><stop offset=".3017" stop-color="#c0282f"/><stop offset=".3104" stop-color="#c12b30"/><stop offset=".3317" stop-color="#ca3b37"/><stop offset=".3779" stop-color="#e0654f"/><stop offset=".4192" stop-color="#f18d6f"/><stop offset=".4529" stop-color="#f7a98b"/><stop offset=".4704" stop-color="#f7ba9f"/><stop offset=".4867" stop-color="#efcebd"/><stop offset=".5004" stop-color="#dcdddd"/><stop offset=".5142" stop-color="#ccd9ed"/><stop offset=".5254" stop-color="#b7cff9"/><stop offset=".5354" stop-color="#a6c4fe"/><stop offset=".5529" stop-color="#8db0fe"/><stop offset=".5667" stop-color="#7da0f9"/><stop offset=".5904" stop-color="#6788ee"/><stop offset=".6117" stop-color="#5977e3"/><stop offset=".6354" stop-color="#4e68d8"/><stop offset=".6654" stop-color="#455cce"/><stop offset=".7192" stop-color="#4358cb"/><stop offset=".7579" stop-color="#4a63d3"/><stop offset=".7992" stop-color="#5977e3"/><stop offset=".8479" stop-color="#7597f6"/><stop offset=".8967" stop-color="#96b7ff"/><stop offset=".9454" stop-color="#b9d0f9"/><stop offset=".9704" stop-color="#cad8ef"/><stop offset="1" stop-color="#dcdddd"/></linearGradient><linearGradient id="a89"><stop offset=".0004" stop-color="#e2dad5"/><stop offset=".0204" stop-color="#e5d8d1"/><stop offset=".0567" stop-color="#f0cdbb"/><stop offset=".0904" stop-color="#f7bca1"/><stop offset=".1192" stop-color="#f7a688"/><stop offset=".1629" stop-color="#ec7f63"/><stop offset=".2117" stop-color="#d55042"/><stop offset=".2429" stop-color="#c73635"/><stop offset=".2592" stop-color="#c12b30"/><stop offset=".2704" stop-color="#c0282f"/><stop offset=".2717" stop-color="#be242e"/><stop offset=".2779" stop-color="#be242e"/><stop offset=".2792" stop-color="#bd1f2d"/><stop offset=".2979" stop-color="#bd1f2d"/><stop offset=".2992" stop-color="#be242e"/><stop offset=".3029" stop-color="#be242e"/><stop offset=".3042" stop-color="#c0282f"/><stop offset=".3379" stop-color="#cc403a"/><stop offset=".3817" stop-color="#e26952"/><stop offset=".4292" stop-color="#f39778"/><stop offset=".4529" stop-color="#f7aa8c"/><stop offset=".4692" stop-color="#f7ba9f"/><stop offset=".4867" stop-color="#efcfbf"/><stop offset=".5004" stop-color="#dcdddd"/><stop offset=".5154" stop-color="#cbd8ee"/><stop offset=".5267" stop-color="#b6cefa"/><stop offset=".5379" stop-color="#a3c2fe"/><stop offset=".5542" stop-color="#8db0fe"/><stop offset=".5717" stop-color="#799cf8"/><stop offset=".6167" stop-color="#5673e0"/><stop offset=".6379" stop-color="#4c66d6"/><stop offset=".6679" stop-color="#445acc"/><stop offset=".7242" stop-color="#4257c9"/><stop offset=".7654" stop-color="#4a63d3"/><stop offset=".8042" stop-color="#5977e3"/><stop offset=".8579" stop-color="#799cf8"/><stop offset=".8992" stop-color="#96b7ff"/><stop offset=".9467" stop-color="#b9d0f9"/><stop offset=".9729" stop-color="#cbd8ee"/><stop offset="1" stop-color="#dcdddd"/></linearGradient><linearGradient id="a90"><stop offset=".0004" stop-color="#e1dad6"/><stop offset=".0279" stop-color="#e8d6cc"/><stop offset=".0554" stop-color="#f1cdba"/><stop offset=".0879" stop-color="#f7ba9f"/><stop offset=".1142" stop-color="#f7a688"/><stop offset=".1579" stop-color="#ec7f63"/><stop offset=".2067" stop-color="#d55042"/><stop offset=".2367" stop-color="#c73635"/><stop offset=".2604" stop-color="#c0282f"/><stop offset=".2617" stop-color="#be242e"/><stop offset=".2667" stop-color="#be242e"/><stop offset=".2679" stop-color="#bd1f2d"/><stop offset=".2754" stop-color="#bd1f2d"/><stop offset=".2767" stop-color="#bb1b2c"/><stop offset=".2942" stop-color="#bb1b2c"/><stop offset=".2954" stop-color="#bd1f2d"/><stop offset=".2992" stop-color="#bd1f2d"/><stop offset=".3004" stop-color="#be242e"/><stop offset=".3042" stop-color="#be242e"/><stop offset=".3054" stop-color="#c0282f"/><stop offset=".3129" stop-color="#c12b30"/><stop offset=".3354" stop-color="#cb3e38"/><stop offset=".3792" stop-color="#e16751"/><stop offset=".4317" stop-color="#f49a7b"/><stop offset=".4679" stop-color="#f7ba9f"/><stop offset=".4829" stop-color="#f1ccb8"/><stop offset=".5004" stop-color="#dcdddd"/><stop offset=".5079" stop-color="#d6dce4"/><stop offset=".5179" stop-color="#c7d7f0"/><stop offset=".5267" stop-color="#b7cff9"/><stop offset=".5379" stop-color="#a5c3fe"/><stop offset=".5554" stop-color="#8db0fe"/><stop offset=".5729" stop-color="#799cf8"/><stop offset=".6179" stop-color="#5673e0"/><stop offset=".6479" stop-color="#4961d2"/><stop offset=".6717" stop-color="#4358cb"/><stop offset=".6879" stop-color="#4055c8"/><stop offset=".7367" stop-color="#4257c9"/><stop offset=".7642" stop-color="#485fd1"/><stop offset=".8092" stop-color="#5977e3"/><stop offset=".8617" stop-color="#799cf8"/><stop offset=".9017" stop-color="#96b7ff"/><stop offset=".9467" stop-color="#b7cff9"/><stop offset=".9754" stop-color="#ccd9ed"/><stop offset="1" stop-color="#dcdddd"/></linearGradient><linearGradient id="a91"><stop offset=".0004" stop-color="#e1dad6"/><stop offset=".0179" stop-color="#e5d8d1"/><stop offset=".0542" stop-color="#f1ccb8"/><stop offset=".0804" stop-color="#f7bca1"/><stop offset=".1117" stop-color="#f6a586"/><stop offset=".1529" stop-color="#eb7d62"/><stop offset=".2004" stop-color="#d55042"/><stop offset=".2367" stop-color="#c43032"/><stop offset=".2529" stop-color="#c0282f"/><stop offset=".2542" stop-color="#be242e"/><stop offset=".2579" stop-color="#be242e"/><stop offset=".2592" stop-color="#bd1f2d"/><stop offset=".2742" stop-color="#bb1b2c"/><stop offset=".2754" stop-color="#ba162b"/><stop offset=".2904" stop-color="#ba162b"/><stop offset=".2917" stop-color="#bb1b2c"/><stop offset=".2954" stop-color="#bb1b2c"/><stop offset=".2967" stop-color="#bd1f2d"/><stop offset=".3004" stop-color="#bd1f2d"/><stop offset=".3017" stop-color="#be242e"/><stop offset=".3054" stop-color="#be242e"/><stop offset=".3067" stop-color="#c0282f"/><stop offset=".3354" stop-color="#cb3e38"/><stop offset=".3767" stop-color="#e0654f"/><stop offset=".4179" stop-color="#f18f71"/><stop offset=".4467" stop-color="#f7a889"/><stop offset=".4654" stop-color="#f7ba9f"/><stop offset=".4842" stop-color="#efcebd"/><stop offset=".5004" stop-color="#dcdddd"/><stop offset=".5092" stop-color="#d5dbe5"/><stop offset=".5179" stop-color="#c9d7f0"/><stop offset=".5267" stop-color="#b9d0f9"/><stop offset=".5379" stop-color="#a6c4fe"/><stop offset=".5567" stop-color="#8db0fe"/><stop offset=".5704" stop-color="#7da0f9"/><stop offset=".6167" stop-color="#5875e1"/><stop offset=".6417" stop-color="#4b64d5"/><stop offset=".6692" stop-color="#4358cb"/><stop offset=".6929" stop-color="#3f53c6"/><stop offset=".7304" stop-color="#3f53c6"/><stop offset=".7667" stop-color="#465ecf"/><stop offset=".8117" stop-color="#5875e1"/><stop offset=".8592" stop-color="#7597f6"/><stop offset=".9004" stop-color="#93b5fe"/><stop offset=".9479" stop-color="#b7cff9"/><stop offset=".9779" stop-color="#cdd9ec"/><stop offset="1" stop-color="#dcdddd"/></linearGradient><linearGradient id="a92"><stop offset=".0004" stop-color="#e1dad6"/><stop offset=".0242" stop-color="#e8d6cc"/><stop offset=".0504" stop-color="#f1ccb8"/><stop offset=".0779" stop-color="#f7ba9f"/><stop offset=".1067" stop-color="#f6a586"/><stop offset=".1454" stop-color="#ec8165"/><stop offset=".1942" stop-color="#d55042"/><stop offset=".2267" stop-color="#c53334"/><stop offset=".2454" stop-color="#c0282f"/><stop offset=".2467" stop-color="#be242e"/><stop offset=".2504" stop-color="#be242e"/><stop offset=".2517" stop-color="#bd1f2d"/><stop offset=".2554" stop-color="#bd1f2d"/><stop offset=".2567" stop-color="#bb1b2c"/><stop offset=".2742" stop-color="#ba162b"/><stop offset=".2754" stop-color="#b8122a"/><stop offset=".2854" stop-color="#b8122a"/><stop offset=".2867" stop-color="#ba162b"/><stop offset=".2917" stop-color="#ba162b"/><stop offset=".2929" stop-color="#bb1b2c"/><stop offset=".2967" stop-color="#bb1b2c"/><stop offset=".2979" stop-color="#bd1f2d"/><stop offset=".3017" stop-color="#bd1f2d"/><stop offset=".3067" stop-color="#c0282f"/><stop offset=".3267" stop-color="#c73635"/><stop offset=".3679" stop-color="#dc5d4a"/><stop offset=".4167" stop-color="#f18f71"/><stop offset=".4417" stop-color="#f6a586"/><stop offset=".4642" stop-color="#f7ba9f"/><stop offset=".4817" stop-color="#f1cdba"/><stop offset=".5004" stop-color="#dcdddd"/><stop offset=".5104" stop-color="#d4dbe6"/><stop offset=".5192" stop-color="#c7d7f0"/><stop offset=".5392" stop-color="#a6c4fe"/><stop offset=".5579" stop-color="#8db0fe"/><stop offset=".5792" stop-color="#7699f6"/><stop offset=".6229" stop-color="#5572df"/><stop offset=".6492" stop-color="#4961d2"/><stop offset=".6742" stop-color="#4257c9"/><stop offset=".6979" stop-color="#3e51c5"/><stop offset=".7329" stop-color="#3e51c5"/><stop offset=".7779" stop-color="#485fd1"/><stop offset=".8142" stop-color="#5673e0"/><stop offset=".8629" stop-color="#7597f6"/><stop offset=".8979" stop-color="#8fb1fe"/><stop offset=".9267" stop-color="#a5c3fe"/><stop offset=".9529" stop-color="#bad0f8"/><stop offset=".9754" stop-color="#cbd8ee"/><stop offset="1" stop-color="#dcdddd"/></linearGradient><linearGradient id="a93"><stop offset=".0004" stop-color="#e0dbd8"/><stop offset=".0204" stop-color="#e7d7ce"/><stop offset=".0479" stop-color="#f1ccb8"/><stop offset=".0742" stop-color="#f7ba9f"/><stop offset=".1004" stop-color="#f7a688"/><stop offset=".1417" stop-color="#ec7f63"/><stop offset=".1904" stop-color="#d44e41"/><stop offset=".2304" stop-color="#c12b30"/><stop offset=".2379" stop-color="#c0282f"/><stop offset=".2392" stop-color="#be242e"/><stop offset=".2429" stop-color="#be242e"/><stop offset=".2442" stop-color="#bd1f2d"/><stop offset=".2479" stop-color="#bd1f2d"/><stop offset=".2492" stop-color="#bb1b2c"/><stop offset=".2542" stop-color="#bb1b2c"/><stop offset=".2554" stop-color="#ba162b"/><stop offset=".2617" stop-color="#ba162b"/><stop offset=".2629" stop-color="#b8122a"/><stop offset=".2867" stop-color="#b8122a"/><stop offset=".2879" stop-color="#ba162b"/><stop offset=".2917" stop-color="#ba162b"/><stop offset=".2929" stop-color="#bb1b2c"/><stop offset=".2967" stop-color="#bb1b2c"/><stop offset=".2979" stop-color="#bd1f2d"/><stop offset=".3017" stop-color="#bd1f2d"/><stop offset=".3067" stop-color="#c0282f"/><stop offset=".3292" stop-color="#c83836"/><stop offset=".3729" stop-color="#df634e"/><stop offset=".4254" stop-color="#f4987a"/><stop offset=".4429" stop-color="#f7a889"/><stop offset=".4617" stop-color="#f7ba9f"/><stop offset=".4792" stop-color="#f1ccb8"/><stop offset=".5004" stop-color="#dcdddd"/><stop offset=".5092" stop-color="#d6dce4"/><stop offset=".5192" stop-color="#c9d7f0"/><stop offset=".5279" stop-color="#bad0f8"/><stop offset=".5417" stop-color="#a5c3fe"/><stop offset=".5604" stop-color="#8db0fe"/><stop offset=".5829" stop-color="#7597f6"/><stop offset=".6229" stop-color="#5673e0"/><stop offset=".6542" stop-color="#485fd1"/><stop offset=".6792" stop-color="#4055c8"/><stop offset=".7042" stop-color="#3d50c3"/><stop offset=".7442" stop-color="#3e51c5"/><stop offset=".7842" stop-color="#485fd1"/><stop offset=".8217" stop-color="#5875e1"/><stop offset=".8704" stop-color="#779af7"/><stop offset=".8992" stop-color="#8db0fe"/><stop offset=".9254" stop-color="#a2c1ff"/><stop offset=".9479" stop-color="#b5cdfa"/><stop offset=".9729" stop-color="#c9d7f0"/><stop offset="1" stop-color="#dcdddd"/></linearGradient><linearGradient id="a94"><stop offset=".0004" stop-color="#e0dbd8"/><stop offset=".0192" stop-color="#e7d7ce"/><stop offset=".0467" stop-color="#f2cbb7"/><stop offset=".0704" stop-color="#f7ba9f"/><stop offset=".0992" stop-color="#f6a385"/><stop offset=".1404" stop-color="#e97a5f"/><stop offset=".1917" stop-color="#d0473d"/><stop offset=".2304" stop-color="#c0282f"/><stop offset=".2317" stop-color="#be242e"/><stop offset=".2354" stop-color="#be242e"/><stop offset=".2367" stop-color="#bd1f2d"/><stop offset=".2404" stop-color="#bd1f2d"/><stop offset=".2417" stop-color="#bb1b2c"/><stop offset=".2454" stop-color="#bb1b2c"/><stop offset=".2467" stop-color="#ba162b"/><stop offset=".2517" stop-color="#ba162b"/><stop offset=".2529" stop-color="#b8122a"/><stop offset=".2617" stop-color="#b8122a"/><stop offset=".2629" stop-color="#b70d28"/><stop offset=".2804" stop-color="#b70d28"/><stop offset=".2817" stop-color="#b8122a"/><stop offset=".2867" stop-color="#b8122a"/><stop offset=".2879" stop-color="#ba162b"/><stop offset=".2917" stop-color="#ba162b"/><stop offset=".2929" stop-color="#bb1b2c"/><stop offset=".2967" stop-color="#bb1b2c"/><stop offset=".2979" stop-color="#bd1f2d"/><stop offset=".3017" stop-color="#bd1f2d"/><stop offset=".3067" stop-color="#c0282f"/><stop offset=".3254" stop-color="#c73635"/><stop offset=".3679" stop-color="#dd5f4b"/><stop offset=".4154" stop-color="#f29072"/><stop offset=".4567" stop-color="#f7b79b"/><stop offset=".4767" stop-color="#f2cbb7"/><stop offset=".4992" stop-color="#dddcdc"/><stop offset=".5117" stop-color="#d4dbe6"/><stop offset=".5267" stop-color="#bed2f6"/><stop offset=".5404" stop-color="#a9c6fd"/><stop offset=".5729" stop-color="#82a6fb"/><stop offset=".5979" stop-color="#6a8bef"/><stop offset=".6279" stop-color="#5572df"/><stop offset=".6629" stop-color="#455cce"/><stop offset=".6854" stop-color="#3f53c6"/><stop offset=".7129" stop-color="#3c4ec2"/><stop offset=".7467" stop-color="#3d50c3"/><stop offset=".7904" stop-color="#485fd1"/><stop offset=".8292" stop-color="#5977e3"/><stop offset=".8742" stop-color="#779af7"/><stop offset=".9054" stop-color="#90b2fe"/><stop offset=".9292" stop-color="#a3c2fe"/><stop offset=".9542" stop-color="#b9d0f9"/><stop offset=".9817" stop-color="#cedaeb"/><stop offset="1" stop-color="#dcdddd"/></linearGradient><linearGradient id="a95"><stop offset=".0004" stop-color="#dfdbd9"/><stop offset=".0167" stop-color="#e6d7cf"/><stop offset=".0442" stop-color="#f2cbb7"/><stop offset=".0654" stop-color="#f7bca1"/><stop offset=".0917" stop-color="#f7a688"/><stop offset=".1317" stop-color="#eb7d62"/><stop offset=".1767" stop-color="#d55042"/><stop offset=".2104" stop-color="#c43032"/><stop offset=".2242" stop-color="#c0282f"/><stop offset=".2292" stop-color="#bd1f2d"/><stop offset=".2379" stop-color="#bb1b2c"/><stop offset=".2392" stop-color="#ba162b"/><stop offset=".2517" stop-color="#b8122a"/><stop offset=".2529" stop-color="#b70d28"/><stop offset=".2667" stop-color="#b70d28"/><stop offset=".2679" stop-color="#b50927"/><stop offset=".2717" stop-color="#b50927"/><stop offset=".2729" stop-color="#b70d28"/><stop offset=".2867" stop-color="#b8122a"/><stop offset=".2879" stop-color="#ba162b"/><stop offset=".2967" stop-color="#bb1b2c"/><stop offset=".3054" stop-color="#c0282f"/><stop offset=".3304" stop-color="#ca3b37"/><stop offset=".3879" stop-color="#e7745b"/><stop offset=".4267" stop-color="#f59d7e"/><stop offset=".4579" stop-color="#f7ba9f"/><stop offset=".4779" stop-color="#f0cdbb"/><stop offset=".4992" stop-color="#dddcdc"/><stop offset=".5104" stop-color="#d6dce4"/><stop offset=".5204" stop-color="#cad8ef"/><stop offset=".5317" stop-color="#b9d0f9"/><stop offset=".5479" stop-color="#a2c1ff"/><stop offset=".5754" stop-color="#82a6fb"/><stop offset=".5979" stop-color="#6c8ff1"/><stop offset=".6229" stop-color="#5a78e4"/><stop offset=".6592" stop-color="#485fd1"/><stop offset=".6867" stop-color="#3f53c6"/><stop offset=".7079" stop-color="#3c4ec2"/><stop offset=".7479" stop-color="#3c4ec2"/><stop offset=".7967" stop-color="#485fd1"/><stop offset=".8317" stop-color="#5875e1"/><stop offset=".8779" stop-color="#779af7"/><stop offset=".9067" stop-color="#8fb1fe"/><stop offset=".9317" stop-color="#a3c2fe"/><stop offset=".9542" stop-color="#b7cff9"/><stop offset=".9779" stop-color="#cbd8ee"/><stop offset="1" stop-color="#dcdddd"/></linearGradient><linearGradient id="a96"><stop offset=".0004" stop-color="#dedcdb"/><stop offset=".0354" stop-color="#efcebd"/><stop offset=".0754" stop-color="#f7b194"/><stop offset=".1117" stop-color="#f18f71"/><stop offset=".1542" stop-color="#de614d"/><stop offset=".1954" stop-color="#c83836"/><stop offset=".2179" stop-color="#c0282f"/><stop offset=".2267" stop-color="#bb1b2c"/><stop offset=".2304" stop-color="#bb1b2c"/><stop offset=".2317" stop-color="#ba162b"/><stop offset=".2442" stop-color="#b8122a"/><stop offset=".2454" stop-color="#b70d28"/><stop offset=".2542" stop-color="#b70d28"/><stop offset=".2554" stop-color="#b50927"/><stop offset=".2717" stop-color="#b50927"/><stop offset=".2729" stop-color="#b70d28"/><stop offset=".2854" stop-color="#b8122a"/><stop offset=".2867" stop-color="#ba162b"/><stop offset=".3004" stop-color="#bd1f2d"/><stop offset=".3054" stop-color="#c0282f"/><stop offset=".3242" stop-color="#c73635"/><stop offset=".3579" stop-color="#d85646"/><stop offset=".3867" stop-color="#e7745b"/><stop offset=".4217" stop-color="#f49a7b"/><stop offset=".4554" stop-color="#f7ba9f"/><stop offset=".4767" stop-color="#efcebd"/><stop offset=".4992" stop-color="#dcdddd"/><stop offset=".5129" stop-color="#d4dbe6"/><stop offset=".5242" stop-color="#c6d6f1"/><stop offset=".5379" stop-color="#b2ccfb"/><stop offset=".5542" stop-color="#9dbdff"/><stop offset=".5904" stop-color="#779af7"/><stop offset=".6267" stop-color="#5a78e4"/><stop offset=".6567" stop-color="#4a63d3"/><stop offset=".6842" stop-color="#4055c8"/><stop offset=".7192" stop-color="#3b4cc0"/><stop offset=".7467" stop-color="#3b4cc0"/><stop offset=".7804" stop-color="#4055c8"/><stop offset=".8367" stop-color="#5875e1"/><stop offset=".8817" stop-color="#779af7"/><stop offset=".9092" stop-color="#8db0fe"/><stop offset=".9329" stop-color="#a3c2fe"/><stop offset=".9554" stop-color="#b7cff9"/><stop offset=".9829" stop-color="#cedaeb"/><stop offset="1" stop-color="#dcdddd"/></linearGradient><linearGradient id="a97"><stop offset=".0004" stop-color="#dedcdb"/><stop offset=".0354" stop-color="#f0cdbb"/><stop offset=".0717" stop-color="#f7b194"/><stop offset=".1104" stop-color="#f08b6e"/><stop offset=".1529" stop-color="#dc5d4a"/><stop offset=".1954" stop-color="#c53334"/><stop offset=".2117" stop-color="#c0282f"/><stop offset=".2204" stop-color="#bb1b2c"/><stop offset=".2304" stop-color="#ba162b"/><stop offset=".2317" stop-color="#b8122a"/><stop offset=".2367" stop-color="#b8122a"/><stop offset=".2379" stop-color="#b70d28"/><stop offset=".2454" stop-color="#b70d28"/><stop offset=".2467" stop-color="#b50927"/><stop offset=".2704" stop-color="#b50927"/><stop offset=".2717" stop-color="#b70d28"/><stop offset=".2854" stop-color="#b8122a"/><stop offset=".2867" stop-color="#ba162b"/><stop offset=".2954" stop-color="#bb1b2c"/><stop offset=".3042" stop-color="#c0282f"/><stop offset=".3317" stop-color="#cb3e38"/><stop offset=".3854" stop-color="#e7745b"/><stop offset=".4167" stop-color="#f39778"/><stop offset=".4529" stop-color="#f7ba9f"/><stop offset=".4704" stop-color="#f2cbb7"/><stop offset=".4892" stop-color="#e3d9d3"/><stop offset=".4992" stop-color="#dcdddd"/><stop offset=".5129" stop-color="#d5dbe5"/><stop offset=".5267" stop-color="#c5d6f2"/><stop offset=".5429" stop-color="#aec9fc"/><stop offset=".5617" stop-color="#98b9ff"/><stop offset=".5929" stop-color="#799cf8"/><stop offset=".6329" stop-color="#5977e3"/><stop offset=".6667" stop-color="#485fd1"/><stop offset=".6967" stop-color="#3e51c5"/><stop offset=".7179" stop-color="#3b4cc0"/><stop offset=".7567" stop-color="#3b4cc0"/><stop offset=".8017" stop-color="#455cce"/><stop offset=".8392" stop-color="#5673e0"/><stop offset=".8767" stop-color="#7093f3"/><stop offset=".9117" stop-color="#8db0fe"/><stop offset=".9354" stop-color="#a3c2fe"/><stop offset=".9567" stop-color="#b7cff9"/><stop offset=".9792" stop-color="#cbd8ee"/><stop offset="1" stop-color="#dcdddd"/></linearGradient><linearGradient id="a98"><stop offset=".0004" stop-color="#dddcdc"/><stop offset=".0354" stop-color="#f1ccb8"/><stop offset=".0679" stop-color="#f7b194"/><stop offset=".1029" stop-color="#f18f71"/><stop offset=".1479" stop-color="#dc5d4a"/><stop offset=".1842" stop-color="#c83836"/><stop offset=".2054" stop-color="#c0282f"/><stop offset=".2104" stop-color="#bd1f2d"/><stop offset=".2179" stop-color="#bb1b2c"/><stop offset=".2192" stop-color="#ba162b"/><stop offset=".2304" stop-color="#b8122a"/><stop offset=".2317" stop-color="#b70d28"/><stop offset=".2379" stop-color="#b70d28"/><stop offset=".2392" stop-color="#b50927"/><stop offset=".2704" stop-color="#b50927"/><stop offset=".2717" stop-color="#b70d28"/><stop offset=".2779" stop-color="#b70d28"/><stop offset=".2792" stop-color="#b8122a"/><stop offset=".2904" stop-color="#ba162b"/><stop offset=".2917" stop-color="#bb1b2c"/><stop offset=".2992" stop-color="#bd1f2d"/><stop offset=".3042" stop-color="#c0282f"/><stop offset=".3229" stop-color="#c73635"/><stop offset=".3792" stop-color="#e46e56"/><stop offset=".4104" stop-color="#f29274"/><stop offset=".4417" stop-color="#f7b194"/><stop offset=".4679" stop-color="#f2cbb7"/><stop offset=".4817" stop-color="#e8d6cc"/><stop offset=".4967" stop-color="#dddcdc"/><stop offset=".5104" stop-color="#d8dce2"/><stop offset=".5304" stop-color="#c3d5f4"/><stop offset=".5479" stop-color="#abc8fd"/><stop offset=".5654" stop-color="#98b9ff"/><stop offset=".6054" stop-color="#7093f3"/><stop offset=".6442" stop-color="#5572df"/><stop offset=".6742" stop-color="#465ecf"/><stop offset=".7004" stop-color="#3e51c5"/><stop offset=".7204" stop-color="#3b4cc0"/><stop offset=".7654" stop-color="#3b4cc0"/><stop offset=".8042" stop-color="#445acc"/><stop offset=".8417" stop-color="#5572df"/><stop offset=".8804" stop-color="#7093f3"/><stop offset=".9142" stop-color="#8db0fe"/><stop offset=".9379" stop-color="#a3c2fe"/><stop offset=".9629" stop-color="#bbd1f8"/><stop offset=".9829" stop-color="#cdd9ec"/><stop offset="1" stop-color="#dcdddd"/></linearGradient><linearGradient id="a99"><stop offset=".0004" stop-color="#dcdddd"/><stop offset=".0342" stop-color="#f1ccb8"/><stop offset=".0654" stop-color="#f7b194"/><stop offset=".1004" stop-color="#f18d6f"/><stop offset=".1392" stop-color="#de614d"/><stop offset=".1817" stop-color="#c73635"/><stop offset=".2004" stop-color="#c0282f"/><stop offset=".2092" stop-color="#bb1b2c"/><stop offset=".2179" stop-color="#ba162b"/><stop offset=".2192" stop-color="#b8122a"/><stop offset=".2317" stop-color="#b70d28"/><stop offset=".2329" stop-color="#b50927"/><stop offset=".2467" stop-color="#b50927"/><stop offset=".2479" stop-color="#b40426"/><stop offset=".2542" stop-color="#b40426"/><stop offset=".2567" stop-color="#b50927"/><stop offset=".2704" stop-color="#b50927"/><stop offset=".2717" stop-color="#b70d28"/><stop offset=".2779" stop-color="#b70d28"/><stop offset=".2792" stop-color="#b8122a"/><stop offset=".2904" stop-color="#ba162b"/><stop offset=".2917" stop-color="#bb1b2c"/><stop offset=".2992" stop-color="#bd1f2d"/><stop offset=".3042" stop-color="#c0282f"/><stop offset=".3304" stop-color="#cb3e38"/><stop offset=".3767" stop-color="#e36c55"/><stop offset=".4092" stop-color="#f29274"/><stop offset=".4392" stop-color="#f7b194"/><stop offset=".4642" stop-color="#f2cab5"/><stop offset=".4792" stop-color="#e8d6cc"/><stop offset=".4942" stop-color="#dddcdc"/><stop offset=".5079" stop-color="#dadce0"/><stop offset=".5192" stop-color="#d2dbe8"/><stop offset=".5392" stop-color="#bad0f8"/><stop offset=".5604" stop-color="#a2c1ff"/><stop offset=".5979" stop-color="#7da0f9"/><stop offset=".6429" stop-color="#5977e3"/><stop offset=".6792" stop-color="#465ecf"/><stop offset=".7104" stop-color="#3d50c3"/><stop offset=".7229" stop-color="#3b4cc0"/><stop offset=".7717" stop-color="#3b4cc0"/><stop offset=".8029" stop-color="#4257c9"/><stop offset=".8442" stop-color="#5470de"/><stop offset=".8754" stop-color="#688aef"/><stop offset=".9154" stop-color="#8caffe"/><stop offset=".9404" stop-color="#a3c2fe"/><stop offset=".9604" stop-color="#b7cff9"/><stop offset=".9817" stop-color="#ccd9ed"/><stop offset="1" stop-color="#dcdddd"/></linearGradient><linearGradient id="b0"><stop offset="0" stop-color="#dddcdc"/><stop offset=".1232" stop-color="#f1ccb8"/><stop offset=".2432" stop-color="#f7b194"/><stop offset=".3692" stop-color="#f18f71"/><stop offset=".4872" stop-color="#e26952"/><stop offset=".4912" stop-color="#e46e56"/><stop offset=".4932" stop-color="#e97a5f"/><stop offset=".4992" stop-color="#e97a5f"/><stop offset=".4992" stop-color="#7396f5"/><stop offset=".5052" stop-color="#7396f5"/><stop offset=".5072" stop-color="#6b8df0"/><stop offset=".5112" stop-color="#6788ee"/><stop offset=".5172" stop-color="#6788ee"/><stop offset=".6292" stop-color="#84a7fc"/><stop offset=".7612" stop-color="#a5c3fe"/><stop offset=".8752" stop-color="#c1d4f4"/><stop offset=".9992" stop-color="#dcdddd"/></linearGradient><linearGradient id="b1"><stop offset="0" stop-color="#dddcdc"/><stop offset=".1172" stop-color="#f1cdba"/><stop offset=".2412" stop-color="#f7b194"/><stop offset=".3712" stop-color="#f18d6f"/><stop offset=".4832" stop-color="#e16751"/><stop offset=".4892" stop-color="#e26952"/><stop offset=".4912" stop-color="#e36c55"/><stop offset=".4932" stop-color="#e97a5f"/><stop offset=".4992" stop-color="#e97a5f"/><stop offset=".4992" stop-color="#7396f5"/><stop offset=".5052" stop-color="#7396f5"/><stop offset=".5072" stop-color="#6a8bef"/><stop offset=".5092" stop-color="#6788ee"/><stop offset=".5152" stop-color="#6687ed"/><stop offset=".6272" stop-color="#82a6fb"/><stop offset=".7632" stop-color="#a5c3fe"/><stop offset=".8812" stop-color="#c3d5f4"/><stop offset=".9992" stop-color="#dddcdc"/></linearGradient><linearGradient id="b2"><stop offset="0" stop-color="#dddcdc"/><stop offset=".1212" stop-color="#f1ccb8"/><stop offset=".2392" stop-color="#f7b194"/><stop offset=".3692" stop-color="#f18d6f"/><stop offset=".4792" stop-color="#e16751"/><stop offset=".4892" stop-color="#e16751"/><stop offset=".4912" stop-color="#e36c55"/><stop offset=".4932" stop-color="#e9785d"/><stop offset=".4992" stop-color="#e9785d"/><stop offset=".4992" stop-color="#7295f4"/><stop offset=".5052" stop-color="#7295f4"/><stop offset=".5092" stop-color="#6687ed"/><stop offset=".5192" stop-color="#6687ed"/><stop offset=".6292" stop-color="#82a6fb"/><stop offset=".7592" stop-color="#a3c2fe"/><stop offset=".8772" stop-color="#c1d4f4"/><stop offset=".9992" stop-color="#dcdddd"/></linearGradient><linearGradient id="b3"><stop offset="0" stop-color="#dddcdc"/><stop offset=".1152" stop-color="#f1cdba"/><stop offset=".2372" stop-color="#f7b194"/><stop offset=".3612" stop-color="#f18f71"/><stop offset=".4832" stop-color="#e0654f"/><stop offset=".4892" stop-color="#e16751"/><stop offset=".4912" stop-color="#e36b54"/><stop offset=".4932" stop-color="#e8765c"/><stop offset=".4992" stop-color="#e8765c"/><stop offset=".4992" stop-color="#7093f3"/><stop offset=".5052" stop-color="#7093f3"/><stop offset=".5072" stop-color="#688aef"/><stop offset=".5112" stop-color="#6485ec"/><stop offset=".5172" stop-color="#6485ec"/><stop offset=".6372" stop-color="#84a7fc"/><stop offset=".7612" stop-color="#a3c2fe"/><stop offset=".8832" stop-color="#c3d5f4"/><stop offset=".9992" stop-color="#dddcdc"/></linearGradient><linearGradient id="b4"><stop offset="0" stop-color="#dddcdc"/><stop offset=".1192" stop-color="#f1ccb8"/><stop offset=".2352" stop-color="#f7b194"/><stop offset=".3632" stop-color="#f18d6f"/><stop offset=".4872" stop-color="#df634e"/><stop offset=".4912" stop-color="#e26952"/><stop offset=".4932" stop-color="#e7745b"/><stop offset=".4992" stop-color="#e7745b"/><stop offset=".4992" stop-color="#6f92f3"/><stop offset=".5052" stop-color="#6f92f3"/><stop offset=".5072" stop-color="#6788ee"/><stop offset=".5132" stop-color="#6384eb"/><stop offset=".6352" stop-color="#82a6fb"/><stop offset=".7632" stop-color="#a3c2fe"/><stop offset=".8792" stop-color="#c1d4f4"/><stop offset=".9992" stop-color="#dcdddd"/></linearGradient><linearGradient id="b5"><stop offset="0" stop-color="#dddcdc"/><stop offset=".1132" stop-color="#f1cdba"/><stop offset=".2332" stop-color="#f7b194"/><stop offset=".3552" stop-color="#f18f71"/><stop offset=".4572" stop-color="#e36b54"/><stop offset=".4892" stop-color="#df634e"/><stop offset=".4932" stop-color="#e67259"/><stop offset=".4992" stop-color="#e67259"/><stop offset=".4992" stop-color="#6e90f2"/><stop offset=".5052" stop-color="#6e90f2"/><stop offset=".5092" stop-color="#6384eb"/><stop offset=".5172" stop-color="#6384eb"/><stop offset=".6432" stop-color="#84a7fc"/><stop offset=".7652" stop-color="#a3c2fe"/><stop offset=".8852" stop-color="#c3d5f4"/><stop offset=".9992" stop-color="#dcdddd"/></linearGradient><linearGradient id="b6"><stop offset="0" stop-color="#dddcdc"/><stop offset=".1172" stop-color="#f1ccb8"/><stop offset=".2332" stop-color="#f7b194"/><stop offset=".3632" stop-color="#f08b6e"/><stop offset=".4872" stop-color="#de614d"/><stop offset=".4912" stop-color="#e16751"/><stop offset=".4932" stop-color="#e67259"/><stop offset=".4992" stop-color="#e67259"/><stop offset=".4992" stop-color="#6e90f2"/><stop offset=".5052" stop-color="#6e90f2"/><stop offset=".5072" stop-color="#6687ed"/><stop offset=".5092" stop-color="#6384eb"/><stop offset=".5152" stop-color="#6282ea"/><stop offset=".6412" stop-color="#82a6fb"/><stop offset=".7652" stop-color="#a3c2fe"/><stop offset=".8812" stop-color="#c1d4f4"/><stop offset=".9992" stop-color="#dcdddd"/></linearGradient><linearGradient id="b7"><stop offset="0" stop-color="#dddcdc"/><stop offset=".1212" stop-color="#f2cbb7"/><stop offset=".2332" stop-color="#f7b194"/><stop offset=".3552" stop-color="#f18d6f"/><stop offset=".4852" stop-color="#dd5f4b"/><stop offset=".4912" stop-color="#e0654f"/><stop offset=".4932" stop-color="#e57058"/><stop offset=".4992" stop-color="#e57058"/><stop offset=".4992" stop-color="#6c8ff1"/><stop offset=".5052" stop-color="#6c8ff1"/><stop offset=".5072" stop-color="#6485ec"/><stop offset=".5132" stop-color="#6180e9"/><stop offset=".6432" stop-color="#82a6fb"/><stop offset=".7732" stop-color="#a5c3fe"/><stop offset=".8772" stop-color="#c0d4f5"/><stop offset=".9992" stop-color="#dddcdc"/></linearGradient><linearGradient id="b8"><stop offset="0" stop-color="#dddcdc"/><stop offset=".1112" stop-color="#f1cdba"/><stop offset=".2312" stop-color="#f7b194"/><stop offset=".3472" stop-color="#f18f71"/><stop offset=".4412" stop-color="#e36c55"/><stop offset=".4892" stop-color="#dd5f4b"/><stop offset=".4912" stop-color="#df634e"/><stop offset=".4932" stop-color="#e46e56"/><stop offset=".4992" stop-color="#e46e56"/><stop offset=".4992" stop-color="#6b8df0"/><stop offset=".5052" stop-color="#6b8df0"/><stop offset=".5072" stop-color="#6384eb"/><stop offset=".5092" stop-color="#6180e9"/><stop offset=".5172" stop-color="#6180e9"/><stop offset=".6412" stop-color="#81a4fb"/><stop offset=".7692" stop-color="#a3c2fe"/><stop offset=".8872" stop-color="#c3d5f4"/><stop offset=".9992" stop-color="#dcdddd"/></linearGradient><linearGradient id="b9"><stop offset="0" stop-color="#dddcdc"/><stop offset=".1192" stop-color="#f2cbb7"/><stop offset=".2292" stop-color="#f7b194"/><stop offset=".3492" stop-color="#f18d6f"/><stop offset=".4832" stop-color="#dc5d4a"/><stop offset=".4892" stop-color="#dc5d4a"/><stop offset=".4912" stop-color="#de614d"/><stop offset=".4932" stop-color="#e36c55"/><stop offset=".4992" stop-color="#e36c55"/><stop offset=".4992" stop-color="#6a8bef"/><stop offset=".5052" stop-color="#6a8bef"/><stop offset=".5072" stop-color="#6282ea"/><stop offset=".5092" stop-color="#5f7fe8"/><stop offset=".5172" stop-color="#5f7fe8"/><stop offset=".6492" stop-color="#82a6fb"/><stop offset=".7712" stop-color="#a3c2fe"/><stop offset=".8792" stop-color="#c0d4f5"/><stop offset=".9992" stop-color="#dddcdc"/></linearGradient><linearGradient id="b10"><stop offset="0" stop-color="#dddcdc"/><stop offset=".1092" stop-color="#f1cdba"/><stop offset=".2272" stop-color="#f7b194"/><stop offset=".3512" stop-color="#f08b6e"/><stop offset=".4872" stop-color="#da5a49"/><stop offset=".4912" stop-color="#de614d"/><stop offset=".4932" stop-color="#e36b54"/><stop offset=".4992" stop-color="#e36b54"/><stop offset=".4992" stop-color="#688aef"/><stop offset=".5052" stop-color="#688aef"/><stop offset=".5092" stop-color="#5f7fe8"/><stop offset=".5152" stop-color="#5e7de7"/><stop offset=".6472" stop-color="#81a4fb"/><stop offset=".7732" stop-color="#a3c2fe"/><stop offset=".8892" stop-color="#c3d5f4"/><stop offset=".9992" stop-color="#dcdddd"/></linearGradient><linearGradient id="b11"><stop offset="0" stop-color="#dddcdc"/><stop offset=".1172" stop-color="#f2cbb7"/><stop offset=".2312" stop-color="#f7b093"/><stop offset=".3432" stop-color="#f18d6f"/><stop offset=".4872" stop-color="#d95847"/><stop offset=".4912" stop-color="#dd5f4b"/><stop offset=".4932" stop-color="#e36b54"/><stop offset=".4992" stop-color="#e36b54"/><stop offset=".4992" stop-color="#688aef"/><stop offset=".5052" stop-color="#688aef"/><stop offset=".5072" stop-color="#6180e9"/><stop offset=".5112" stop-color="#5d7ce6"/><stop offset=".5192" stop-color="#5e7de7"/><stop offset=".6552" stop-color="#82a6fb"/><stop offset=".7752" stop-color="#a3c2fe"/><stop offset=".8952" stop-color="#c4d5f3"/><stop offset=".9992" stop-color="#dddcdc"/></linearGradient><linearGradient id="b12"><stop offset="0" stop-color="#dddcdc"/><stop offset=".1072" stop-color="#f1cdba"/><stop offset=".2292" stop-color="#f7b093"/><stop offset=".3412" stop-color="#f18d6f"/><stop offset=".4812" stop-color="#d95847"/><stop offset=".4892" stop-color="#d95847"/><stop offset=".4912" stop-color="#dc5d4a"/><stop offset=".4932" stop-color="#e26952"/><stop offset=".4992" stop-color="#e26952"/><stop offset=".4992" stop-color="#6788ee"/><stop offset=".5052" stop-color="#6788ee"/><stop offset=".5072" stop-color="#5f7fe8"/><stop offset=".5092" stop-color="#5d7ce6"/><stop offset=".5172" stop-color="#5d7ce6"/><stop offset=".6572" stop-color="#82a6fb"/><stop offset=".7772" stop-color="#a3c2fe"/><stop offset=".8912" stop-color="#c3d5f4"/><stop offset=".9992" stop-color="#dddcdc"/></linearGradient><linearGradient id="b13"><stop offset="0" stop-color="#dddcdc"/><stop offset=".1152" stop-color="#f2cbb7"/><stop offset=".2272" stop-color="#f7b093"/><stop offset=".3432" stop-color="#f08b6e"/><stop offset=".4832" stop-color="#d85646"/><stop offset=".4892" stop-color="#d85646"/><stop offset=".4912" stop-color="#da5a49"/><stop offset=".4932" stop-color="#e16751"/><stop offset=".4992" stop-color="#e16751"/><stop offset=".4992" stop-color="#6687ed"/><stop offset=".5052" stop-color="#6687ed"/><stop offset=".5072" stop-color="#5e7de7"/><stop offset=".5092" stop-color="#5b7ae5"/><stop offset=".5152" stop-color="#5b7ae5"/><stop offset=".6552" stop-color="#81a4fb"/><stop offset=".7792" stop-color="#a3c2fe"/><stop offset=".8832" stop-color="#c0d4f5"/><stop offset=".9992" stop-color="#dddcdc"/></linearGradient><linearGradient id="b14"><stop offset="0" stop-color="#dddcdc"/><stop offset=".1052" stop-color="#f1cdba"/><stop offset=".2252" stop-color="#f7b093"/><stop offset=".3452" stop-color="#f08a6c"/><stop offset=".4872" stop-color="#d75445"/><stop offset=".4912" stop-color="#da5a49"/><stop offset=".4932" stop-color="#e0654f"/><stop offset=".4992" stop-color="#e0654f"/><stop offset=".4992" stop-color="#6485ec"/><stop offset=".5052" stop-color="#6485ec"/><stop offset=".5092" stop-color="#5b7ae5"/><stop offset=".5132" stop-color="#5a78e4"/><stop offset=".6632" stop-color="#82a6fb"/><stop offset=".7812" stop-color="#a3c2fe"/><stop offset=".8932" stop-color="#c3d5f4"/><stop offset=".9992" stop-color="#dcdddd"/></linearGradient><linearGradient id="b15"><stop offset="0" stop-color="#dcdddd"/><stop offset=".1092" stop-color="#f1ccb8"/><stop offset=".2192" stop-color="#f7b194"/><stop offset=".3372" stop-color="#f08b6e"/><stop offset=".4812" stop-color="#d75445"/><stop offset=".4892" stop-color="#d75445"/><stop offset=".4912" stop-color="#d95847"/><stop offset=".4932" stop-color="#df634e"/><stop offset=".4992" stop-color="#df634e"/><stop offset=".4992" stop-color="#6384eb"/><stop offset=".5052" stop-color="#6384eb"/><stop offset=".5092" stop-color="#5a78e4"/><stop offset=".5172" stop-color="#5a78e4"/><stop offset=".6612" stop-color="#81a4fb"/><stop offset=".7832" stop-color="#a3c2fe"/><stop offset=".8892" stop-color="#c1d4f4"/><stop offset=".9992" stop-color="#dddcdc"/></linearGradient><linearGradient id="b16"><stop offset="0" stop-color="#dddcdc"/><stop offset=".1032" stop-color="#f1cdba"/><stop offset=".2212" stop-color="#f7b093"/><stop offset=".3392" stop-color="#f08a6c"/><stop offset=".4812" stop-color="#d65244"/><stop offset=".4892" stop-color="#d65244"/><stop offset=".4912" stop-color="#d85646"/><stop offset=".4932" stop-color="#de614d"/><stop offset=".4992" stop-color="#de614d"/><stop offset=".4992" stop-color="#6282ea"/><stop offset=".5052" stop-color="#6282ea"/><stop offset=".5092" stop-color="#5977e3"/><stop offset=".5172" stop-color="#5977e3"/><stop offset=".6592" stop-color="#80a3fa"/><stop offset=".7852" stop-color="#a3c2fe"/><stop offset=".8952" stop-color="#c3d5f4"/><stop offset=".9992" stop-color="#dcdddd"/></linearGradient><linearGradient id="b17"><stop offset="0" stop-color="#dddcdc"/><stop offset=".1072" stop-color="#f1ccb8"/><stop offset=".2192" stop-color="#f7b093"/><stop offset=".3272" stop-color="#f18d6f"/><stop offset=".4052" stop-color="#e46e56"/><stop offset=".4892" stop-color="#d55042"/><stop offset=".4912" stop-color="#d75445"/><stop offset=".4932" stop-color="#dd5f4b"/><stop offset=".4992" stop-color="#dd5f4b"/><stop offset=".4992" stop-color="#6180e9"/><stop offset=".5052" stop-color="#6180e9"/><stop offset=".5092" stop-color="#5875e1"/><stop offset=".5152" stop-color="#5875e1"/><stop offset=".5892" stop-color="#6b8df0"/><stop offset=".6712" stop-color="#82a6fb"/><stop offset=".7872" stop-color="#a3c2fe"/><stop offset=".8912" stop-color="#c1d4f4"/><stop offset=".9992" stop-color="#dcdddd"/></linearGradient><linearGradient id="b18"><stop offset="0" stop-color="#dddcdc"/><stop offset=".0972" stop-color="#f0cdbb"/><stop offset=".2172" stop-color="#f7b093"/><stop offset=".3432" stop-color="#ee8669"/><stop offset=".4852" stop-color="#d44e41"/><stop offset=".4912" stop-color="#d65244"/><stop offset=".4932" stop-color="#dd5f4b"/><stop offset=".4992" stop-color="#dd5f4b"/><stop offset=".4992" stop-color="#6180e9"/><stop offset=".5052" stop-color="#6180e9"/><stop offset=".5072" stop-color="#5977e3"/><stop offset=".5132" stop-color="#5673e0"/><stop offset=".6552" stop-color="#7da0f9"/><stop offset=".7892" stop-color="#a3c2fe"/><stop offset=".9012" stop-color="#c4d5f3"/><stop offset=".9992" stop-color="#dddcdc"/></linearGradient><linearGradient id="b19"><stop offset="0" stop-color="#dddcdc"/><stop offset=".1052" stop-color="#f1ccb8"/><stop offset=".2252" stop-color="#f7ad90"/><stop offset=".3592" stop-color="#ec7f63"/><stop offset=".4872" stop-color="#d24b40"/><stop offset=".4912" stop-color="#d55042"/><stop offset=".4932" stop-color="#dc5d4a"/><stop offset=".4992" stop-color="#dc5d4a"/><stop offset=".4992" stop-color="#5f7fe8"/><stop offset=".5052" stop-color="#5f7fe8"/><stop offset=".5072" stop-color="#5875e1"/><stop offset=".5112" stop-color="#5572df"/><stop offset=".6392" stop-color="#779af7"/><stop offset=".7152" stop-color="#8db0fe"/><stop offset=".7852" stop-color="#a2c1ff"/><stop offset=".8932" stop-color="#c1d4f4"/><stop offset=".9992" stop-color="#dddcdc"/></linearGradient><linearGradient id="b20"><stop offset="0" stop-color="#dddcdc"/><stop offset=".1052" stop-color="#f1ccb8"/><stop offset=".2232" stop-color="#f7ad90"/><stop offset=".3512" stop-color="#ec8165"/><stop offset=".4832" stop-color="#d24b40"/><stop offset=".4892" stop-color="#d24b40"/><stop offset=".4912" stop-color="#d55042"/><stop offset=".4932" stop-color="#da5a49"/><stop offset=".4992" stop-color="#da5a49"/><stop offset=".4992" stop-color="#5e7de7"/><stop offset=".5052" stop-color="#5e7de7"/><stop offset=".5092" stop-color="#5572df"/><stop offset=".5172" stop-color="#5572df"/><stop offset=".6472" stop-color="#799cf8"/><stop offset=".7172" stop-color="#8db0fe"/><stop offset=".7872" stop-color="#a2c1ff"/><stop offset=".8932" stop-color="#c1d4f4"/><stop offset=".9992" stop-color="#dddcdc"/></linearGradient><linearGradient id="b21"><stop offset="0" stop-color="#dddcdc"/><stop offset=".0672" stop-color="#ebd3c6"/><stop offset=".1292" stop-color="#f4c6af"/><stop offset=".2432" stop-color="#f7a688"/><stop offset=".3572" stop-color="#eb7d62"/><stop offset=".4892" stop-color="#d1493f"/><stop offset=".4912" stop-color="#d44e41"/><stop offset=".4932" stop-color="#d95847"/><stop offset=".4992" stop-color="#d95847"/><stop offset=".4992" stop-color="#5d7ce6"/><stop offset=".5052" stop-color="#5d7ce6"/><stop offset=".5092" stop-color="#5470de"/><stop offset=".5152" stop-color="#5470de"/><stop offset=".6552" stop-color="#7a9df8"/><stop offset=".7192" stop-color="#8db0fe"/><stop offset=".7892" stop-color="#a2c1ff"/><stop offset=".8952" stop-color="#c1d4f4"/><stop offset=".9992" stop-color="#dcdddd"/></linearGradient><linearGradient id="b22"><stop offset="0" stop-color="#dddcdc"/><stop offset=".1152" stop-color="#f2c9b4"/><stop offset=".2412" stop-color="#f7a688"/><stop offset=".3592" stop-color="#ea7b60"/><stop offset=".4852" stop-color="#d0473d"/><stop offset=".4892" stop-color="#d0473d"/><stop offset=".4912" stop-color="#d24b40"/><stop offset=".4932" stop-color="#d85646"/><stop offset=".4992" stop-color="#d85646"/><stop offset=".4992" stop-color="#5b7ae5"/><stop offset=".5052" stop-color="#5b7ae5"/><stop offset=".5092" stop-color="#536edd"/><stop offset=".5132" stop-color="#536edd"/><stop offset=".6532" stop-color="#799cf8"/><stop offset=".7172" stop-color="#8caffe"/><stop offset=".7912" stop-color="#a2c1ff"/><stop offset=".9092" stop-color="#c5d6f2"/><stop offset=".9992" stop-color="#dddcdc"/></linearGradient><linearGradient id="b23"><stop offset="0" stop-color="#dddcdc"/><stop offset=".0712" stop-color="#ecd3c5"/><stop offset=".1312" stop-color="#f4c5ad"/><stop offset=".2392" stop-color="#f7a688"/><stop offset=".3512" stop-color="#eb7d62"/><stop offset=".4872" stop-color="#cf453c"/><stop offset=".4912" stop-color="#d1493f"/><stop offset=".4932" stop-color="#d75445"/><stop offset=".4992" stop-color="#d75445"/><stop offset=".4992" stop-color="#5a78e4"/><stop offset=".5052" stop-color="#5a78e4"/><stop offset=".5072" stop-color="#5470de"/><stop offset=".5132" stop-color="#516ddb"/><stop offset=".6472" stop-color="#7699f6"/><stop offset=".7252" stop-color="#8db0fe"/><stop offset=".7852" stop-color="#9fbfff"/><stop offset=".8972" stop-color="#c1d4f4"/><stop offset=".9992" stop-color="#dcdddd"/></linearGradient><linearGradient id="b24"><stop offset="0" stop-color="#dddcdc"/><stop offset=".1172" stop-color="#f3c8b2"/><stop offset=".2352" stop-color="#f7a688"/><stop offset=".3432" stop-color="#ec7f63"/><stop offset=".4192" stop-color="#dd5f4b"/><stop offset=".4812" stop-color="#cf453c"/><stop offset=".4892" stop-color="#cf453c"/><stop offset=".4912" stop-color="#d0473d"/><stop offset=".4932" stop-color="#d65244"/><stop offset=".4992" stop-color="#d65244"/><stop offset=".4992" stop-color="#5977e3"/><stop offset=".5052" stop-color="#5977e3"/><stop offset=".5072" stop-color="#536edd"/><stop offset=".5092" stop-color="#516ddb"/><stop offset=".5172" stop-color="#516ddb"/><stop offset=".6552" stop-color="#779af7"/><stop offset=".7652" stop-color="#98b9ff"/><stop offset=".8812" stop-color="#bcd2f7"/><stop offset=".9992" stop-color="#dcdddd"/></linearGradient><linearGradient id="b25"><stop offset="0" stop-color="#dddcdc"/><stop offset=".0652" stop-color="#ebd3c6"/><stop offset=".1292" stop-color="#f4c5ad"/><stop offset=".2332" stop-color="#f7a688"/><stop offset=".3492" stop-color="#ea7b60"/><stop offset=".4832" stop-color="#cd423b"/><stop offset=".4892" stop-color="#cd423b"/><stop offset=".4912" stop-color="#cf453c"/><stop offset=".4932" stop-color="#d55042"/><stop offset=".4992" stop-color="#d55042"/><stop offset=".4992" stop-color="#5875e1"/><stop offset=".5052" stop-color="#5875e1"/><stop offset=".5072" stop-color="#516ddb"/><stop offset=".5092" stop-color="#506bda"/><stop offset=".5152" stop-color="#506bda"/><stop offset=".6492" stop-color="#7597f6"/><stop offset=".7672" stop-color="#98b9ff"/><stop offset=".8352" stop-color="#aec9fc"/><stop offset=".9032" stop-color="#c3d5f4"/><stop offset=".9992" stop-color="#dddcdc"/></linearGradient><linearGradient id="b26"><stop offset="0" stop-color="#dcdddd"/><stop offset=".0612" stop-color="#ebd3c6"/><stop offset=".1192" stop-color="#f3c7b1"/><stop offset=".2312" stop-color="#f7a688"/><stop offset=".3372" stop-color="#ec7f63"/><stop offset=".4832" stop-color="#cc403a"/><stop offset=".4892" stop-color="#cc403a"/><stop offset=".4932" stop-color="#d44e41"/><stop offset=".4992" stop-color="#d44e41"/><stop offset=".4992" stop-color="#5673e0"/><stop offset=".5052" stop-color="#5673e0"/><stop offset=".5092" stop-color="#4f69d9"/><stop offset=".5152" stop-color="#4f69d9"/><stop offset=".6612" stop-color="#779af7"/><stop offset=".7692" stop-color="#98b9ff"/><stop offset=".8792" stop-color="#bbd1f8"/><stop offset=".9372" stop-color="#ccd9ed"/><stop offset=".9992" stop-color="#dddcdc"/></linearGradient><linearGradient id="b27"><stop offset="0" stop-color="#dddcdc"/><stop offset=".0652" stop-color="#ecd3c5"/><stop offset=".1272" stop-color="#f4c5ad"/><stop offset=".2292" stop-color="#f7a688"/><stop offset=".3432" stop-color="#ea7b60"/><stop offset=".4032" stop-color="#de614d"/><stop offset=".4892" stop-color="#cb3e38"/><stop offset=".4912" stop-color="#cd423b"/><stop offset=".4932" stop-color="#d44e41"/><stop offset=".4992" stop-color="#d44e41"/><stop offset=".4992" stop-color="#5673e0"/><stop offset=".5052" stop-color="#5673e0"/><stop offset=".5092" stop-color="#4e68d8"/><stop offset=".5132" stop-color="#4e68d8"/><stop offset=".6552" stop-color="#7597f6"/><stop offset=".7712" stop-color="#98b9ff"/><stop offset=".8712" stop-color="#b9d0f9"/><stop offset=".9352" stop-color="#ccd9ed"/><stop offset=".9992" stop-color="#dcdddd"/></linearGradient><linearGradient id="b28"><stop offset="0" stop-color="#dddcdc"/><stop offset=".0632" stop-color="#ebd3c6"/><stop offset=".1252" stop-color="#f4c5ad"/><stop offset=".2272" stop-color="#f7a688"/><stop offset=".3352" stop-color="#eb7d62"/><stop offset=".4232" stop-color="#d85646"/><stop offset=".4872" stop-color="#ca3b37"/><stop offset=".4912" stop-color="#cc403a"/><stop offset=".4932" stop-color="#d24b40"/><stop offset=".4992" stop-color="#d24b40"/><stop offset=".4992" stop-color="#5572df"/><stop offset=".5052" stop-color="#5572df"/><stop offset=".5072" stop-color="#4f69d9"/><stop offset=".5112" stop-color="#4c66d6"/><stop offset=".6632" stop-color="#7699f6"/><stop offset=".7732" stop-color="#98b9ff"/><stop offset=".8732" stop-color="#b9d0f9"/><stop offset=".9372" stop-color="#ccd9ed"/><stop offset=".9992" stop-color="#dddcdc"/></linearGradient><linearGradient id="b29"><stop offset="0" stop-color="#dddcdc"/><stop offset=".0632" stop-color="#ebd3c6"/><stop offset=".1252" stop-color="#f4c5ad"/><stop offset=".2252" stop-color="#f7a688"/><stop offset=".3412" stop-color="#e97a5f"/><stop offset=".4052" stop-color="#dc5d4a"/><stop offset=".4812" stop-color="#ca3b37"/><stop offset=".4892" stop-color="#ca3b37"/><stop offset=".4912" stop-color="#cb3e38"/><stop offset=".4932" stop-color="#d1493f"/><stop offset=".4992" stop-color="#d1493f"/><stop offset=".4992" stop-color="#5470de"/><stop offset=".5052" stop-color="#5470de"/><stop offset=".5072" stop-color="#4e68d8"/><stop offset=".5092" stop-color="#4c66d6"/><stop offset=".5172" stop-color="#4c66d6"/><stop offset=".6572" stop-color="#7396f5"/><stop offset=".7752" stop-color="#98b9ff"/><stop offset=".8732" stop-color="#b9d0f9"/><stop offset=".9372" stop-color="#ccd9ed"/><stop offset=".9992" stop-color="#dddcdc"/></linearGradient><linearGradient id="b30"><stop offset="0" stop-color="#dddcdc"/><stop offset=".0592" stop-color="#ebd3c6"/><stop offset=".1232" stop-color="#f4c5ad"/><stop offset=".2232" stop-color="#f7a688"/><stop offset=".3292" stop-color="#eb7d62"/><stop offset=".4012" stop-color="#dc5d4a"/><stop offset=".4832" stop-color="#c83836"/><stop offset=".4892" stop-color="#c83836"/><stop offset=".4912" stop-color="#ca3b37"/><stop offset=".4932" stop-color="#d0473d"/><stop offset=".4992" stop-color="#d0473d"/><stop offset=".4992" stop-color="#536edd"/><stop offset=".5052" stop-color="#536edd"/><stop offset=".5072" stop-color="#4c66d6"/><stop offset=".5092" stop-color="#4b64d5"/><stop offset=".5152" stop-color="#4b64d5"/><stop offset=".5972" stop-color="#5f7fe8"/><stop offset=".6692" stop-color="#7699f6"/><stop offset=".7772" stop-color="#98b9ff"/><stop offset=".8432" stop-color="#aec9fc"/><stop offset=".9032" stop-color="#c1d4f4"/><stop offset=".9992" stop-color="#dddcdc"/></linearGradient><linearGradient id="b31"><stop offset="0" stop-color="#dddcdc"/><stop offset=".0592" stop-color="#ebd3c6"/><stop offset=".1232" stop-color="#f4c5ad"/><stop offset=".2212" stop-color="#f7a688"/><stop offset=".3432" stop-color="#e8765c"/><stop offset=".4212" stop-color="#d65244"/><stop offset=".4832" stop-color="#c73635"/><stop offset=".4892" stop-color="#c73635"/><stop offset=".4912" stop-color="#c83836"/><stop offset=".4932" stop-color="#cf453c"/><stop offset=".4992" stop-color="#cf453c"/><stop offset=".4992" stop-color="#516ddb"/><stop offset=".5052" stop-color="#516ddb"/><stop offset=".5072" stop-color="#4b64d5"/><stop offset=".5092" stop-color="#4a63d3"/><stop offset=".5152" stop-color="#4a63d3"/><stop offset=".6552" stop-color="#7093f3"/><stop offset=".7772" stop-color="#98b9ff"/><stop offset=".8452" stop-color="#aec9fc"/><stop offset=".9032" stop-color="#c1d4f4"/><stop offset=".9992" stop-color="#dddcdc"/></linearGradient><linearGradient id="b32"><stop offset="0" stop-color="#dddcdc"/><stop offset=".0932" stop-color="#f1ccb8"/><stop offset=".1532" stop-color="#f7bca1"/><stop offset=".2192" stop-color="#f7a688"/><stop offset=".3312" stop-color="#e97a5f"/><stop offset=".4172" stop-color="#d65244"/><stop offset=".4852" stop-color="#c53334"/><stop offset=".4892" stop-color="#c53334"/><stop offset=".4932" stop-color="#cd423b"/><stop offset=".4992" stop-color="#cd423b"/><stop offset=".4992" stop-color="#506bda"/><stop offset=".5052" stop-color="#506bda"/><stop offset=".5092" stop-color="#4961d2"/><stop offset=".5132" stop-color="#4961d2"/><stop offset=".5812" stop-color="#5977e3"/><stop offset=".6672" stop-color="#7396f5"/><stop offset=".7792" stop-color="#98b9ff"/><stop offset=".8452" stop-color="#aec9fc"/><stop offset=".9052" stop-color="#c1d4f4"/><stop offset=".9992" stop-color="#dddcdc"/></linearGradient><linearGradient id="b33"><stop offset="0" stop-color="#dddcdc"/><stop offset=".0572" stop-color="#ebd3c6"/><stop offset=".1112" stop-color="#f3c7b1"/><stop offset=".2172" stop-color="#f7a688"/><stop offset=".3452" stop-color="#e67259"/><stop offset=".4132" stop-color="#d65244"/><stop offset=".4872" stop-color="#c43032"/><stop offset=".4912" stop-color="#c73635"/><stop offset=".4932" stop-color="#cc403a"/><stop offset=".4992" stop-color="#cc403a"/><stop offset=".4992" stop-color="#4f69d9"/><stop offset=".5052" stop-color="#4f69d9"/><stop offset=".5072" stop-color="#4a63d3"/><stop offset=".5112" stop-color="#485fd1"/><stop offset=".5852" stop-color="#5977e3"/><stop offset=".6532" stop-color="#6e90f2"/><stop offset=".7172" stop-color="#82a6fb"/><stop offset=".7812" stop-color="#98b9ff"/><stop offset=".8792" stop-color="#b9d0f9"/><stop offset=".9352" stop-color="#cbd8ee"/><stop offset=".9992" stop-color="#dcdddd"/></linearGradient><linearGradient id="b34"><stop offset="0" stop-color="#dddcdc"/><stop offset=".0912" stop-color="#f1ccb8"/><stop offset=".1492" stop-color="#f7bca1"/><stop offset=".2132" stop-color="#f7a688"/><stop offset=".3332" stop-color="#e8765c"/><stop offset=".4092" stop-color="#d65244"/><stop offset=".4812" stop-color="#c43032"/><stop offset=".4892" stop-color="#c43032"/><stop offset=".4912" stop-color="#c53334"/><stop offset=".4932" stop-color="#cb3e38"/><stop offset=".4992" stop-color="#cb3e38"/><stop offset=".4992" stop-color="#4e68d8"/><stop offset=".5052" stop-color="#4e68d8"/><stop offset=".5092" stop-color="#485fd1"/><stop offset=".5232" stop-color="#4961d2"/><stop offset=".6652" stop-color="#7093f3"/><stop offset=".7852" stop-color="#98b9ff"/><stop offset=".8492" stop-color="#aec9fc"/><stop offset=".9072" stop-color="#c1d4f4"/><stop offset=".9992" stop-color="#dddcdc"/></linearGradient><linearGradient id="b35"><stop offset="0" stop-color="#dddcdc"/><stop offset=".1052" stop-color="#f3c8b2"/><stop offset=".2112" stop-color="#f7a688"/><stop offset=".3092" stop-color="#ec7f63"/><stop offset=".3912" stop-color="#d95847"/><stop offset=".4832" stop-color="#c32e31"/><stop offset=".4892" stop-color="#c32e31"/><stop offset=".4912" stop-color="#c43032"/><stop offset=".4932" stop-color="#ca3b37"/><stop offset=".4992" stop-color="#ca3b37"/><stop offset=".4992" stop-color="#4c66d6"/><stop offset=".5052" stop-color="#4c66d6"/><stop offset=".5092" stop-color="#465ecf"/><stop offset=".5332" stop-color="#4a63d3"/><stop offset=".6072" stop-color="#5d7ce6"/><stop offset=".6852" stop-color="#7699f6"/><stop offset=".7872" stop-color="#98b9ff"/><stop offset=".8932" stop-color="#bcd2f7"/><stop offset=".9652" stop-color="#d3dbe7"/><stop offset=".9992" stop-color="#dddcdc"/></linearGradient><linearGradient id="b36"><stop offset="0" stop-color="#dddcdc"/><stop offset=".0892" stop-color="#f1ccb8"/><stop offset=".1472" stop-color="#f7bca1"/><stop offset=".2092" stop-color="#f7a688"/><stop offset=".2772" stop-color="#f08b6e"/><stop offset=".3652" stop-color="#df634e"/><stop offset=".4852" stop-color="#c12b30"/><stop offset=".4912" stop-color="#c32e31"/><stop offset=".4932" stop-color="#ca3b37"/><stop offset=".4992" stop-color="#ca3b37"/><stop offset=".4992" stop-color="#4c66d6"/><stop offset=".5052" stop-color="#4c66d6"/><stop offset=".5072" stop-color="#465ecf"/><stop offset=".5092" stop-color="#455cce"/><stop offset=".5432" stop-color="#4b64d5"/><stop offset=".6592" stop-color="#6c8ff1"/><stop offset=".7252" stop-color="#82a6fb"/><stop offset=".7892" stop-color="#98b9ff"/><stop offset=".8452" stop-color="#abc8fd"/><stop offset=".9092" stop-color="#c1d4f4"/><stop offset=".9992" stop-color="#dddcdc"/></linearGradient><linearGradient id="b37"><stop offset="0" stop-color="#dddcdc"/><stop offset=".0992" stop-color="#f2c9b4"/><stop offset=".2112" stop-color="#f6a586"/><stop offset=".2732" stop-color="#f08b6e"/><stop offset=".3572" stop-color="#e0654f"/><stop offset=".4352" stop-color="#cc403a"/><stop offset=".4892" stop-color="#c0282f"/><stop offset=".4912" stop-color="#c32e31"/><stop offset=".4932" stop-color="#c83836"/><stop offset=".4992" stop-color="#c83836"/><stop offset=".4992" stop-color="#4b64d5"/><stop offset=".5052" stop-color="#4b64d5"/><stop offset=".5092" stop-color="#445acc"/><stop offset=".5312" stop-color="#485fd1"/><stop offset=".6192" stop-color="#5e7de7"/><stop offset=".6832" stop-color="#7396f5"/><stop offset=".7912" stop-color="#98b9ff"/><stop offset=".8992" stop-color="#bed2f6"/><stop offset=".9992" stop-color="#dcdddd"/></linearGradient><linearGradient id="b38"><stop offset="0" stop-color="#dddcdc"/><stop offset=".0612" stop-color="#ecd3c5"/><stop offset=".1092" stop-color="#f4c6af"/><stop offset=".2092" stop-color="#f6a586"/><stop offset=".2992" stop-color="#ec7f63"/><stop offset=".3752" stop-color="#da5a49"/><stop offset=".4812" stop-color="#c0282f"/><stop offset=".4892" stop-color="#c0282f"/><stop offset=".4912" stop-color="#c12b30"/><stop offset=".4932" stop-color="#c73635"/><stop offset=".4992" stop-color="#c73635"/><stop offset=".4992" stop-color="#4a63d3"/><stop offset=".5052" stop-color="#4a63d3"/><stop offset=".5092" stop-color="#445acc"/><stop offset=".5412" stop-color="#4961d2"/><stop offset=".6232" stop-color="#5e7de7"/><stop offset=".6952" stop-color="#7699f6"/><stop offset=".7932" stop-color="#98b9ff"/><stop offset=".8892" stop-color="#bad0f8"/><stop offset=".9372" stop-color="#cbd8ee"/><stop offset=".9992" stop-color="#dcdddd"/></linearGradient><linearGradient id="b39"><stop offset="0" stop-color="#dcdddd"/><stop offset=".0392" stop-color="#e8d6cc"/><stop offset=".0972" stop-color="#f2c9b4"/><stop offset=".2072" stop-color="#f6a586"/><stop offset=".2952" stop-color="#ec7f63"/><stop offset=".3672" stop-color="#dc5d4a"/><stop offset=".4812" stop-color="#c0282f"/><stop offset=".4832" stop-color="#be242e"/><stop offset=".4892" stop-color="#be242e"/><stop offset=".4912" stop-color="#c0282f"/><stop offset=".4932" stop-color="#c53334"/><stop offset=".4992" stop-color="#c53334"/><stop offset=".4992" stop-color="#4961d2"/><stop offset=".5052" stop-color="#4961d2"/><stop offset=".5092" stop-color="#4358cb"/><stop offset=".5152" stop-color="#4358cb"/><stop offset=".5512" stop-color="#4a63d3"/><stop offset=".6272" stop-color="#5f7fe8"/><stop offset=".6992" stop-color="#7699f6"/><stop offset=".7952" stop-color="#98b9ff"/><stop offset=".9012" stop-color="#bed2f6"/><stop offset=".9992" stop-color="#dddcdc"/></linearGradient><linearGradient id="b40"><stop offset="0" stop-color="#dddcdc"/><stop offset=".0532" stop-color="#ebd3c6"/><stop offset=".1072" stop-color="#f4c6af"/><stop offset=".2052" stop-color="#f6a586"/><stop offset=".2932" stop-color="#ec7f63"/><stop offset=".3632" stop-color="#dc5d4a"/><stop offset=".4372" stop-color="#c83836"/><stop offset=".4892" stop-color="#bd1f2d"/><stop offset=".4912" stop-color="#be242e"/><stop offset=".4932" stop-color="#c53334"/><stop offset=".4992" stop-color="#c53334"/><stop offset=".4992" stop-color="#4961d2"/><stop offset=".5052" stop-color="#4961d2"/><stop offset=".5072" stop-color="#4358cb"/><stop offset=".5092" stop-color="#4257c9"/><stop offset=".5452" stop-color="#485fd1"/><stop offset=".6732" stop-color="#6c8ff1"/><stop offset=".7372" stop-color="#82a6fb"/><stop offset=".7932" stop-color="#97b8ff"/><stop offset=".8912" stop-color="#bad0f8"/><stop offset=".9992" stop-color="#dcdddd"/></linearGradient><linearGradient id="b41"><stop offset="0" stop-color="#dddcdc"/><stop offset=".0952" stop-color="#f2c9b4"/><stop offset=".2032" stop-color="#f6a586"/><stop offset=".2672" stop-color="#f08a6c"/><stop offset=".3552" stop-color="#dd5f4b"/><stop offset=".4712" stop-color="#c0282f"/><stop offset=".4792" stop-color="#bd1f2d"/><stop offset=".4892" stop-color="#bd1f2d"/><stop offset=".4912" stop-color="#be242e"/><stop offset=".4932" stop-color="#c43032"/><stop offset=".4992" stop-color="#c43032"/><stop offset=".4992" stop-color="#485fd1"/><stop offset=".5052" stop-color="#485fd1"/><stop offset=".5092" stop-color="#4257c9"/><stop offset=".5192" stop-color="#4257c9"/><stop offset=".5552" stop-color="#4961d2"/><stop offset=".6772" stop-color="#6c8ff1"/><stop offset=".7392" stop-color="#82a6fb"/><stop offset=".7952" stop-color="#97b8ff"/><stop offset=".8532" stop-color="#abc8fd"/><stop offset=".9032" stop-color="#bed2f6"/><stop offset=".9992" stop-color="#dddcdc"/></linearGradient><linearGradient id="b42"><stop offset="0" stop-color="#dddcdc"/><stop offset=".0552" stop-color="#ebd3c6"/><stop offset=".1012" stop-color="#f3c7b1"/><stop offset=".2012" stop-color="#f6a586"/><stop offset=".2872" stop-color="#ec7f63"/><stop offset=".3472" stop-color="#de614d"/><stop offset=".4672" stop-color="#c0282f"/><stop offset=".4812" stop-color="#bb1b2c"/><stop offset=".4892" stop-color="#bb1b2c"/><stop offset=".4912" stop-color="#bd1f2d"/><stop offset=".4932" stop-color="#c32e31"/><stop offset=".4992" stop-color="#c32e31"/><stop offset=".4992" stop-color="#465ecf"/><stop offset=".5052" stop-color="#465ecf"/><stop offset=".5092" stop-color="#4055c8"/><stop offset=".5172" stop-color="#4055c8"/><stop offset=".5592" stop-color="#4961d2"/><stop offset=".6512" stop-color="#6282ea"/><stop offset=".7112" stop-color="#779af7"/><stop offset=".7972" stop-color="#97b8ff"/><stop offset=".8972" stop-color="#bbd1f8"/><stop offset=".9572" stop-color="#cfdaea"/><stop offset=".9992" stop-color="#dddcdc"/></linearGradient><linearGradient id="b43"><stop offset="0" stop-color="#dddcdc"/><stop offset=".0512" stop-color="#ebd3c6"/><stop offset=".1072" stop-color="#f4c5ad"/><stop offset=".1952" stop-color="#f7a688"/><stop offset=".2832" stop-color="#ec7f63"/><stop offset=".3732" stop-color="#d65244"/><stop offset=".4612" stop-color="#c0282f"/><stop offset=".4632" stop-color="#be242e"/><stop offset=".4752" stop-color="#bd1f2d"/><stop offset=".4772" stop-color="#bb1b2c"/><stop offset=".4832" stop-color="#bb1b2c"/><stop offset=".4852" stop-color="#ba162b"/><stop offset=".4892" stop-color="#ba162b"/><stop offset=".4912" stop-color="#bd1f2d"/><stop offset=".4932" stop-color="#c32e31"/><stop offset=".4992" stop-color="#c32e31"/><stop offset=".4992" stop-color="#465ecf"/><stop offset=".5052" stop-color="#465ecf"/><stop offset=".5092" stop-color="#3f53c6"/><stop offset=".5532" stop-color="#465ecf"/><stop offset=".6252" stop-color="#5977e3"/><stop offset=".6832" stop-color="#6c8ff1"/><stop offset=".7452" stop-color="#82a6fb"/><stop offset=".8032" stop-color="#98b9ff"/><stop offset=".8912" stop-color="#b9d0f9"/><stop offset=".9472" stop-color="#ccd9ed"/><stop offset=".9992" stop-color="#dddcdc"/></linearGradient><linearGradient id="b44"><stop offset="0" stop-color="#dddcdc"/><stop offset=".0472" stop-color="#ead4c8"/><stop offset=".0992" stop-color="#f3c7b1"/><stop offset=".1932" stop-color="#f7a688"/><stop offset=".2772" stop-color="#ec8165"/><stop offset=".3692" stop-color="#d65244"/><stop offset=".4572" stop-color="#c0282f"/><stop offset=".4652" stop-color="#bd1f2d"/><stop offset=".4772" stop-color="#bb1b2c"/><stop offset=".4792" stop-color="#ba162b"/><stop offset=".4892" stop-color="#ba162b"/><stop offset=".4912" stop-color="#bb1b2c"/><stop offset=".4932" stop-color="#c12b30"/><stop offset=".4992" stop-color="#c12b30"/><stop offset=".4992" stop-color="#455cce"/><stop offset=".5052" stop-color="#455cce"/><stop offset=".5092" stop-color="#3f53c6"/><stop offset=".5192" stop-color="#3f53c6"/><stop offset=".5632" stop-color="#485fd1"/><stop offset=".6872" stop-color="#6c8ff1"/><stop offset=".7512" stop-color="#84a7fc"/><stop offset=".8052" stop-color="#98b9ff"/><stop offset=".8892" stop-color="#b7cff9"/><stop offset=".9412" stop-color="#cbd8ee"/><stop offset=".9992" stop-color="#dcdddd"/></linearGradient><linearGradient id="b45"><stop offset="0" stop-color="#dddcdc"/><stop offset=".0532" stop-color="#ebd3c6"/><stop offset=".1012" stop-color="#f4c6af"/><stop offset=".2012" stop-color="#f6a283"/><stop offset=".2812" stop-color="#eb7d62"/><stop offset=".3652" stop-color="#d65244"/><stop offset=".4512" stop-color="#c0282f"/><stop offset=".4532" stop-color="#be242e"/><stop offset=".4652" stop-color="#bd1f2d"/><stop offset=".4672" stop-color="#bb1b2c"/><stop offset=".4812" stop-color="#ba162b"/><stop offset=".4832" stop-color="#b8122a"/><stop offset=".4892" stop-color="#b8122a"/><stop offset=".4912" stop-color="#bb1b2c"/><stop offset=".4932" stop-color="#c12b30"/><stop offset=".4992" stop-color="#c12b30"/><stop offset=".4992" stop-color="#455cce"/><stop offset=".5052" stop-color="#455cce"/><stop offset=".5092" stop-color="#3e51c5"/><stop offset=".5512" stop-color="#445acc"/><stop offset=".6332" stop-color="#5977e3"/><stop offset=".7092" stop-color="#7396f5"/><stop offset=".8052" stop-color="#97b8ff"/><stop offset=".8972" stop-color="#bad0f8"/><stop offset=".9552" stop-color="#cedaeb"/><stop offset=".9992" stop-color="#dddcdc"/></linearGradient><linearGradient id="b46"><stop offset="0" stop-color="#dddcdc"/><stop offset=".0532" stop-color="#ecd3c5"/><stop offset=".1032" stop-color="#f4c5ad"/><stop offset=".1992" stop-color="#f6a283"/><stop offset=".2672" stop-color="#ed8366"/><stop offset=".3652" stop-color="#d55042"/><stop offset=".4472" stop-color="#c0282f"/><stop offset=".4552" stop-color="#bd1f2d"/><stop offset=".4612" stop-color="#bd1f2d"/><stop offset=".4692" stop-color="#ba162b"/><stop offset=".4772" stop-color="#ba162b"/><stop offset=".4792" stop-color="#b8122a"/><stop offset=".4892" stop-color="#b8122a"/><stop offset=".4912" stop-color="#ba162b"/><stop offset=".4932" stop-color="#c0282f"/><stop offset=".4992" stop-color="#c0282f"/><stop offset=".4992" stop-color="#445acc"/><stop offset=".5052" stop-color="#445acc"/><stop offset=".5072" stop-color="#3f53c6"/><stop offset=".5092" stop-color="#3e51c5"/><stop offset=".5192" stop-color="#3e51c5"/><stop offset=".5672" stop-color="#465ecf"/><stop offset=".6332" stop-color="#5875e1"/><stop offset=".7012" stop-color="#6f92f3"/><stop offset=".8072" stop-color="#97b8ff"/><stop offset=".8952" stop-color="#b9d0f9"/><stop offset=".9452" stop-color="#cbd8ee"/><stop offset=".9992" stop-color="#dddcdc"/></linearGradient><linearGradient id="b47"><stop offset="0" stop-color="#dddcdc"/><stop offset=".0492" stop-color="#ebd3c6"/><stop offset=".0992" stop-color="#f4c6af"/><stop offset=".1932" stop-color="#f6a385"/><stop offset=".2752" stop-color="#eb7d62"/><stop offset=".3612" stop-color="#d55042"/><stop offset=".4012" stop-color="#cb3e38"/><stop offset=".4212" stop-color="#c43032"/><stop offset=".4432" stop-color="#c0282f"/><stop offset=".4572" stop-color="#bb1b2c"/><stop offset=".4632" stop-color="#bb1b2c"/><stop offset=".4652" stop-color="#ba162b"/><stop offset=".4712" stop-color="#ba162b"/><stop offset=".4732" stop-color="#b8122a"/><stop offset=".4832" stop-color="#b8122a"/><stop offset=".4852" stop-color="#b70d28"/><stop offset=".4872" stop-color="#b70d28"/><stop offset=".4912" stop-color="#ba162b"/><stop offset=".4932" stop-color="#c0282f"/><stop offset=".4992" stop-color="#c0282f"/><stop offset=".4992" stop-color="#445acc"/><stop offset=".5052" stop-color="#445acc"/><stop offset=".5072" stop-color="#3f53c6"/><stop offset=".5132" stop-color="#3d50c3"/><stop offset=".5772" stop-color="#485fd1"/><stop offset=".6972" stop-color="#6c8ff1"/><stop offset=".7572" stop-color="#82a6fb"/><stop offset=".8092" stop-color="#97b8ff"/><stop offset=".8992" stop-color="#bad0f8"/><stop offset=".9492" stop-color="#ccd9ed"/><stop offset=".9992" stop-color="#dddcdc"/></linearGradient><linearGradient id="b48"><stop offset="0" stop-color="#dddcdc"/><stop offset=".0452" stop-color="#ead4c8"/><stop offset=".1012" stop-color="#f4c5ad"/><stop offset=".1912" stop-color="#f6a385"/><stop offset=".2612" stop-color="#ed8366"/><stop offset=".3572" stop-color="#d55042"/><stop offset=".4372" stop-color="#c0282f"/><stop offset=".4452" stop-color="#bd1f2d"/><stop offset=".4592" stop-color="#bb1b2c"/><stop offset=".4612" stop-color="#ba162b"/><stop offset=".4672" stop-color="#ba162b"/><stop offset=".4692" stop-color="#b8122a"/><stop offset=".4892" stop-color="#b70d28"/><stop offset=".4912" stop-color="#ba162b"/><stop offset=".4932" stop-color="#c0282f"/><stop offset=".4992" stop-color="#c0282f"/><stop offset=".4992" stop-color="#445acc"/><stop offset=".5052" stop-color="#445acc"/><stop offset=".5092" stop-color="#3d50c3"/><stop offset=".5652" stop-color="#445acc"/><stop offset=".6412" stop-color="#5875e1"/><stop offset=".7012" stop-color="#6c8ff1"/><stop offset=".7552" stop-color="#81a4fb"/><stop offset=".8112" stop-color="#97b8ff"/><stop offset=".8972" stop-color="#b9d0f9"/><stop offset=".9472" stop-color="#ccd9ed"/><stop offset=".9992" stop-color="#dcdddd"/></linearGradient><linearGradient id="b49"><stop offset="0" stop-color="#dddcdc"/><stop offset=".0512" stop-color="#ecd3c5"/><stop offset=".0932" stop-color="#f3c7b1"/><stop offset=".1852" stop-color="#f6a586"/><stop offset=".2652" stop-color="#ec7f63"/><stop offset=".3532" stop-color="#d55042"/><stop offset=".4332" stop-color="#c0282f"/><stop offset=".4472" stop-color="#bb1b2c"/><stop offset=".4532" stop-color="#bb1b2c"/><stop offset=".4552" stop-color="#ba162b"/><stop offset=".4612" stop-color="#ba162b"/><stop offset=".4632" stop-color="#b8122a"/><stop offset=".4712" stop-color="#b8122a"/><stop offset=".4732" stop-color="#b70d28"/><stop offset=".4892" stop-color="#b70d28"/><stop offset=".4912" stop-color="#b8122a"/><stop offset=".4932" stop-color="#c0282f"/><stop offset=".4992" stop-color="#c0282f"/><stop offset=".4992" stop-color="#445acc"/><stop offset=".5052" stop-color="#445acc"/><stop offset=".5072" stop-color="#3e51c5"/><stop offset=".5092" stop-color="#3d50c3"/><stop offset=".5252" stop-color="#3d50c3"/><stop offset=".5752" stop-color="#455cce"/><stop offset=".6412" stop-color="#5673e0"/><stop offset=".7152" stop-color="#7093f3"/><stop offset=".8132" stop-color="#97b8ff"/><stop offset=".9052" stop-color="#bbd1f8"/><stop offset=".9572" stop-color="#cedaeb"/><stop offset=".9992" stop-color="#dddcdc"/></linearGradient><linearGradient id="b50"><stop offset="0" stop-color="#dddcdc"/><stop offset=".0472" stop-color="#ebd3c6"/><stop offset=".0952" stop-color="#f4c6af"/><stop offset=".1832" stop-color="#f6a586"/><stop offset=".2692" stop-color="#ea7b60"/><stop offset=".3532" stop-color="#d44e41"/><stop offset=".4292" stop-color="#c0282f"/><stop offset=".4432" stop-color="#bb1b2c"/><stop offset=".4572" stop-color="#ba162b"/><stop offset=".4592" stop-color="#b8122a"/><stop offset=".4672" stop-color="#b8122a"/><stop offset=".4692" stop-color="#b70d28"/><stop offset=".4892" stop-color="#b70d28"/><stop offset=".4912" stop-color="#b8122a"/><stop offset=".4932" stop-color="#c0282f"/><stop offset=".4992" stop-color="#c0282f"/><stop offset=".4992" stop-color="#445acc"/><stop offset=".5052" stop-color="#445acc"/><stop offset=".5072" stop-color="#3e51c5"/><stop offset=".5092" stop-color="#3d50c3"/><stop offset=".5292" stop-color="#3d50c3"/><stop offset=".5852" stop-color="#465ecf"/><stop offset=".6492" stop-color="#5875e1"/><stop offset=".7112" stop-color="#6e90f2"/><stop offset=".8152" stop-color="#97b8ff"/><stop offset=".9032" stop-color="#bad0f8"/><stop offset=".9452" stop-color="#cbd8ee"/><stop offset=".9992" stop-color="#dcdddd"/></linearGradient><linearGradient id="b51"><stop offset="0" stop-color="#dddcdc"/><stop offset=".0492" stop-color="#ebd3c6"/><stop offset=".0972" stop-color="#f4c5ad"/><stop offset=".1872" stop-color="#f6a283"/><stop offset=".2732" stop-color="#e9785d"/><stop offset=".3532" stop-color="#d24b40"/><stop offset=".4232" stop-color="#c0282f"/><stop offset=".4312" stop-color="#bd1f2d"/><stop offset=".4432" stop-color="#bb1b2c"/><stop offset=".4452" stop-color="#ba162b"/><stop offset=".4512" stop-color="#ba162b"/><stop offset=".4532" stop-color="#b8122a"/><stop offset=".4612" stop-color="#b8122a"/><stop offset=".4632" stop-color="#b70d28"/><stop offset=".4792" stop-color="#b70d28"/><stop offset=".4832" stop-color="#b50927"/><stop offset=".4912" stop-color="#b8122a"/><stop offset=".4932" stop-color="#c0282f"/><stop offset=".4992" stop-color="#c0282f"/><stop offset=".4992" stop-color="#445acc"/><stop offset=".5052" stop-color="#445acc"/><stop offset=".5072" stop-color="#3e51c5"/><stop offset=".5152" stop-color="#3c4ec2"/><stop offset=".5792" stop-color="#445acc"/><stop offset=".6452" stop-color="#5572df"/><stop offset=".7112" stop-color="#6c8ff1"/><stop offset=".7672" stop-color="#82a6fb"/><stop offset=".8212" stop-color="#98b9ff"/><stop offset=".9012" stop-color="#b9d0f9"/><stop offset=".9492" stop-color="#ccd9ed"/><stop offset=".9992" stop-color="#dcdddd"/></linearGradient><linearGradient id="b52"><stop offset="0" stop-color="#dddcdc"/><stop offset=".0492" stop-color="#ecd3c5"/><stop offset=".0992" stop-color="#f5c4ac"/><stop offset=".1852" stop-color="#f6a283"/><stop offset=".2592" stop-color="#eb7d62"/><stop offset=".3412" stop-color="#d55042"/><stop offset=".4192" stop-color="#c0282f"/><stop offset=".4332" stop-color="#bb1b2c"/><stop offset=".4472" stop-color="#ba162b"/><stop offset=".4492" stop-color="#b8122a"/><stop offset=".4572" stop-color="#b8122a"/><stop offset=".4592" stop-color="#b70d28"/><stop offset=".4732" stop-color="#b70d28"/><stop offset=".4752" stop-color="#b50927"/><stop offset=".4892" stop-color="#b70d28"/><stop offset=".4912" stop-color="#ba162b"/><stop offset=".4932" stop-color="#c0282f"/><stop offset=".4992" stop-color="#c0282f"/><stop offset=".4992" stop-color="#445acc"/><stop offset=".5052" stop-color="#445acc"/><stop offset=".5092" stop-color="#3d50c3"/><stop offset=".5232" stop-color="#3c4ec2"/><stop offset=".5892" stop-color="#455cce"/><stop offset=".6572" stop-color="#5875e1"/><stop offset=".7252" stop-color="#7093f3"/><stop offset=".8232" stop-color="#98b9ff"/><stop offset=".8772" stop-color="#aec9fc"/><stop offset=".9212" stop-color="#c0d4f5"/><stop offset=".9992" stop-color="#dddcdc"/></linearGradient><linearGradient id="b53"><stop offset="0" stop-color="#dddcdc"/><stop offset=".0792" stop-color="#f2cab5"/><stop offset=".1732" stop-color="#f7a688"/><stop offset=".2492" stop-color="#ec8165"/><stop offset=".3372" stop-color="#d55042"/><stop offset=".4092" stop-color="#c12b30"/><stop offset=".4212" stop-color="#bd1f2d"/><stop offset=".4272" stop-color="#bd1f2d"/><stop offset=".4352" stop-color="#ba162b"/><stop offset=".4412" stop-color="#ba162b"/><stop offset=".4432" stop-color="#b8122a"/><stop offset=".4792" stop-color="#b50927"/><stop offset=".4812" stop-color="#b70d28"/><stop offset=".4872" stop-color="#b70d28"/><stop offset=".4912" stop-color="#ba162b"/><stop offset=".4932" stop-color="#c12b30"/><stop offset=".4992" stop-color="#c12b30"/><stop offset=".4992" stop-color="#455cce"/><stop offset=".5052" stop-color="#455cce"/><stop offset=".5072" stop-color="#3f53c6"/><stop offset=".5192" stop-color="#3c4ec2"/><stop offset=".5772" stop-color="#4257c9"/><stop offset=".6452" stop-color="#536edd"/><stop offset=".7212" stop-color="#6e90f2"/><stop offset=".7732" stop-color="#82a6fb"/><stop offset=".8252" stop-color="#98b9ff"/><stop offset=".9032" stop-color="#b9d0f9"/><stop offset=".9472" stop-color="#cbd8ee"/><stop offset=".9992" stop-color="#dcdddd"/></linearGradient><linearGradient id="b54"><stop offset="0" stop-color="#dddcdc"/><stop offset=".0752" stop-color="#f2cbb7"/><stop offset=".1212" stop-color="#f7ba9f"/><stop offset=".1712" stop-color="#f7a688"/><stop offset=".2492" stop-color="#ec7f63"/><stop offset=".3332" stop-color="#d55042"/><stop offset=".4092" stop-color="#c0282f"/><stop offset=".4232" stop-color="#bb1b2c"/><stop offset=".4452" stop-color="#b8122a"/><stop offset=".4472" stop-color="#b70d28"/><stop offset=".4772" stop-color="#b50927"/><stop offset=".4792" stop-color="#b70d28"/><stop offset=".4872" stop-color="#b70d28"/><stop offset=".4912" stop-color="#bb1b2c"/><stop offset=".4932" stop-color="#c32e31"/><stop offset=".4992" stop-color="#c32e31"/><stop offset=".4992" stop-color="#465ecf"/><stop offset=".5052" stop-color="#465ecf"/><stop offset=".5072" stop-color="#4055c8"/><stop offset=".5112" stop-color="#3d50c3"/><stop offset=".5212" stop-color="#3c4ec2"/><stop offset=".5752" stop-color="#4055c8"/><stop offset=".6452" stop-color="#516ddb"/><stop offset=".7212" stop-color="#6c8ff1"/><stop offset=".7792" stop-color="#84a7fc"/><stop offset=".8272" stop-color="#98b9ff"/><stop offset=".9072" stop-color="#bad0f8"/><stop offset=".9992" stop-color="#dcdddd"/></linearGradient><linearGradient id="b55"><stop offset="0" stop-color="#dddcdc"/><stop offset=".0832" stop-color="#f3c8b2"/><stop offset=".1752" stop-color="#f6a385"/><stop offset=".2432" stop-color="#ec8165"/><stop offset=".3292" stop-color="#d55042"/><stop offset=".4052" stop-color="#c0282f"/><stop offset=".4192" stop-color="#bb1b2c"/><stop offset=".4232" stop-color="#bb1b2c"/><stop offset=".4252" stop-color="#ba162b"/><stop offset=".4312" stop-color="#ba162b"/><stop offset=".4332" stop-color="#b8122a"/><stop offset=".4552" stop-color="#b70d28"/><stop offset=".4572" stop-color="#b50927"/><stop offset=".4732" stop-color="#b50927"/><stop offset=".4752" stop-color="#b70d28"/><stop offset=".4832" stop-color="#b70d28"/><stop offset=".4872" stop-color="#b8122a"/><stop offset=".4912" stop-color="#bd1f2d"/><stop offset=".4932" stop-color="#c43032"/><stop offset=".4992" stop-color="#c43032"/><stop offset=".4992" stop-color="#485fd1"/><stop offset=".5052" stop-color="#485fd1"/><stop offset=".5072" stop-color="#4257c9"/><stop offset=".5112" stop-color="#3e51c5"/><stop offset=".5252" stop-color="#3c4ec2"/><stop offset=".5732" stop-color="#3f53c6"/><stop offset=".6452" stop-color="#506bda"/><stop offset=".7212" stop-color="#6b8df0"/><stop offset=".7752" stop-color="#81a4fb"/><stop offset=".8272" stop-color="#97b8ff"/><stop offset=".9152" stop-color="#bcd2f7"/><stop offset=".9992" stop-color="#dcdddd"/></linearGradient><linearGradient id="b56"><stop offset="0" stop-color="#dddcdc"/><stop offset=".0492" stop-color="#ecd3c5"/><stop offset=".0912" stop-color="#f4c5ad"/><stop offset=".1792" stop-color="#f5a081"/><stop offset=".2432" stop-color="#ec7f63"/><stop offset=".3292" stop-color="#d44e41"/><stop offset=".3952" stop-color="#c12b30"/><stop offset=".4072" stop-color="#bd1f2d"/><stop offset=".4112" stop-color="#bd1f2d"/><stop offset=".4132" stop-color="#bb1b2c"/><stop offset=".4352" stop-color="#b8122a"/><stop offset=".4372" stop-color="#b70d28"/><stop offset=".4692" stop-color="#b50927"/><stop offset=".4712" stop-color="#b70d28"/><stop offset=".4852" stop-color="#b8122a"/><stop offset=".4892" stop-color="#bb1b2c"/><stop offset=".4912" stop-color="#be242e"/><stop offset=".4932" stop-color="#c53334"/><stop offset=".4992" stop-color="#c53334"/><stop offset=".4992" stop-color="#4961d2"/><stop offset=".5052" stop-color="#4961d2"/><stop offset=".5072" stop-color="#4358cb"/><stop offset=".5132" stop-color="#3e51c5"/><stop offset=".5292" stop-color="#3c4ec2"/><stop offset=".5852" stop-color="#4055c8"/><stop offset=".6412" stop-color="#4e68d8"/><stop offset=".7352" stop-color="#6f92f3"/><stop offset=".8292" stop-color="#97b8ff"/><stop offset=".9072" stop-color="#b9d0f9"/><stop offset=".9492" stop-color="#cbd8ee"/><stop offset=".9992" stop-color="#dcdddd"/></linearGradient><linearGradient id="b57"><stop offset="0" stop-color="#dddcdc"/><stop offset=".0432" stop-color="#ebd3c6"/><stop offset=".0872" stop-color="#f4c6af"/><stop offset=".1672" stop-color="#f6a586"/><stop offset=".2432" stop-color="#eb7d62"/><stop offset=".3212" stop-color="#d55042"/><stop offset=".3952" stop-color="#c0282f"/><stop offset=".4092" stop-color="#bb1b2c"/><stop offset=".4132" stop-color="#bb1b2c"/><stop offset=".4152" stop-color="#ba162b"/><stop offset=".4212" stop-color="#ba162b"/><stop offset=".4232" stop-color="#b8122a"/><stop offset=".4432" stop-color="#b70d28"/><stop offset=".4452" stop-color="#b50927"/><stop offset=".4652" stop-color="#b50927"/><stop offset=".4672" stop-color="#b70d28"/><stop offset=".4752" stop-color="#b70d28"/><stop offset=".4772" stop-color="#b8122a"/><stop offset=".4852" stop-color="#ba162b"/><stop offset=".4892" stop-color="#bd1f2d"/><stop offset=".4932" stop-color="#ca3b37"/><stop offset=".4992" stop-color="#ca3b37"/><stop offset=".4992" stop-color="#4c66d6"/><stop offset=".5052" stop-color="#4c66d6"/><stop offset=".5092" stop-color="#4257c9"/><stop offset=".5132" stop-color="#3f53c6"/><stop offset=".5372" stop-color="#3c4ec2"/><stop offset=".5832" stop-color="#3f53c6"/><stop offset=".6412" stop-color="#4c66d6"/><stop offset=".7552" stop-color="#7699f6"/><stop offset=".8352" stop-color="#98b9ff"/><stop offset=".9112" stop-color="#bad0f8"/><stop offset=".9992" stop-color="#dcdddd"/></linearGradient><linearGradient id="b58"><stop offset="0" stop-color="#dcdddd"/><stop offset=".0712" stop-color="#f2cbb7"/><stop offset=".1152" stop-color="#f7ba9f"/><stop offset=".1652" stop-color="#f6a586"/><stop offset=".2332" stop-color="#ec8165"/><stop offset=".3092" stop-color="#d75445"/><stop offset=".3812" stop-color="#c12b30"/><stop offset=".3912" stop-color="#c0282f"/><stop offset=".3972" stop-color="#bd1f2d"/><stop offset=".4032" stop-color="#bd1f2d"/><stop offset=".4112" stop-color="#ba162b"/><stop offset=".4252" stop-color="#b8122a"/><stop offset=".4272" stop-color="#b70d28"/><stop offset=".4392" stop-color="#b70d28"/><stop offset=".4412" stop-color="#b50927"/><stop offset=".4612" stop-color="#b50927"/><stop offset=".4632" stop-color="#b70d28"/><stop offset=".4712" stop-color="#b70d28"/><stop offset=".4832" stop-color="#bb1b2c"/><stop offset=".4892" stop-color="#c0282f"/><stop offset=".4912" stop-color="#c43032"/><stop offset=".4932" stop-color="#cc403a"/><stop offset=".4992" stop-color="#cc403a"/><stop offset=".4992" stop-color="#4f69d9"/><stop offset=".5052" stop-color="#4f69d9"/><stop offset=".5092" stop-color="#445acc"/><stop offset=".5152" stop-color="#4055c8"/><stop offset=".5372" stop-color="#3c4ec2"/><stop offset=".5712" stop-color="#3d50c3"/><stop offset=".6412" stop-color="#4b64d5"/><stop offset=".7552" stop-color="#7597f6"/><stop offset=".8372" stop-color="#98b9ff"/><stop offset=".8832" stop-color="#adc9fd"/><stop offset=".9272" stop-color="#c0d4f5"/><stop offset=".9992" stop-color="#dddcdc"/></linearGradient><linearGradient id="b59"><stop offset="0" stop-color="#dddcdc"/><stop offset=".0732" stop-color="#f2cab5"/><stop offset=".1112" stop-color="#f7bca1"/><stop offset=".1632" stop-color="#f6a586"/><stop offset=".2372" stop-color="#eb7d62"/><stop offset=".3132" stop-color="#d55042"/><stop offset=".3852" stop-color="#c0282f"/><stop offset=".3992" stop-color="#bb1b2c"/><stop offset=".4032" stop-color="#bb1b2c"/><stop offset=".4052" stop-color="#ba162b"/><stop offset=".4112" stop-color="#ba162b"/><stop offset=".4132" stop-color="#b8122a"/><stop offset=".4332" stop-color="#b70d28"/><stop offset=".4352" stop-color="#b50927"/><stop offset=".4572" stop-color="#b50927"/><stop offset=".4592" stop-color="#b70d28"/><stop offset=".4652" stop-color="#b70d28"/><stop offset=".4792" stop-color="#bb1b2c"/><stop offset=".4892" stop-color="#c32e31"/><stop offset=".4912" stop-color="#c83836"/><stop offset=".4932" stop-color="#d1493f"/><stop offset=".4992" stop-color="#d1493f"/><stop offset=".4992" stop-color="#5470de"/><stop offset=".5052" stop-color="#5470de"/><stop offset=".5092" stop-color="#465ecf"/><stop offset=".5272" stop-color="#3e51c5"/><stop offset=".5412" stop-color="#3c4ec2"/><stop offset=".5852" stop-color="#3e51c5"/><stop offset=".6272" stop-color="#465ecf"/><stop offset=".6932" stop-color="#5a78e4"/><stop offset=".7612" stop-color="#7699f6"/><stop offset=".8172" stop-color="#8fb1fe"/><stop offset=".8612" stop-color="#a2c1ff"/><stop offset=".9052" stop-color="#b6cefa"/><stop offset=".9512" stop-color="#cbd8ee"/><stop offset=".9992" stop-color="#dcdddd"/></linearGradient><linearGradient id="b60"><stop offset="0" stop-color="#dddcdc"/><stop offset=".0412" stop-color="#ebd3c6"/><stop offset=".0892" stop-color="#f5c4ac"/><stop offset=".1632" stop-color="#f6a385"/><stop offset=".2372" stop-color="#ea7b60"/><stop offset=".3092" stop-color="#d55042"/><stop offset=".3812" stop-color="#c0282f"/><stop offset=".3952" stop-color="#bb1b2c"/><stop offset=".3992" stop-color="#bb1b2c"/><stop offset=".4012" stop-color="#ba162b"/><stop offset=".4152" stop-color="#b8122a"/><stop offset=".4172" stop-color="#b70d28"/><stop offset=".4272" stop-color="#b70d28"/><stop offset=".4292" stop-color="#b50927"/><stop offset=".4532" stop-color="#b50927"/><stop offset=".4552" stop-color="#b70d28"/><stop offset=".4612" stop-color="#b70d28"/><stop offset=".4752" stop-color="#bb1b2c"/><stop offset=".4892" stop-color="#c73635"/><stop offset=".4912" stop-color="#cc403a"/><stop offset=".4932" stop-color="#d65244"/><stop offset=".4992" stop-color="#d65244"/><stop offset=".4992" stop-color="#5977e3"/><stop offset=".5052" stop-color="#5977e3"/><stop offset=".5072" stop-color="#4f69d9"/><stop offset=".5092" stop-color="#4a63d3"/><stop offset=".5232" stop-color="#4055c8"/><stop offset=".5452" stop-color="#3c4ec2"/><stop offset=".5812" stop-color="#3d50c3"/><stop offset=".6412" stop-color="#4961d2"/><stop offset=".6932" stop-color="#5977e3"/><stop offset=".7612" stop-color="#7597f6"/><stop offset=".8172" stop-color="#8db0fe"/><stop offset=".8632" stop-color="#a2c1ff"/><stop offset=".9092" stop-color="#b7cff9"/><stop offset=".9552" stop-color="#ccd9ed"/><stop offset=".9992" stop-color="#dcdddd"/></linearGradient><linearGradient id="b61"><stop offset="0" stop-color="#dddcdc"/><stop offset=".0432" stop-color="#ebd3c6"/><stop offset=".0852" stop-color="#f4c5ad"/><stop offset=".1612" stop-color="#f6a385"/><stop offset=".2272" stop-color="#ec7f63"/><stop offset=".3012" stop-color="#d65244"/><stop offset=".3672" stop-color="#c12b30"/><stop offset=".3752" stop-color="#c0282f"/><stop offset=".3892" stop-color="#bb1b2c"/><stop offset=".3932" stop-color="#bb1b2c"/><stop offset=".3952" stop-color="#ba162b"/><stop offset=".4012" stop-color="#ba162b"/><stop offset=".4032" stop-color="#b8122a"/><stop offset=".4092" stop-color="#b8122a"/><stop offset=".4112" stop-color="#b70d28"/><stop offset=".4212" stop-color="#b70d28"/><stop offset=".4232" stop-color="#b50927"/><stop offset=".4492" stop-color="#b50927"/><stop offset=".4512" stop-color="#b70d28"/><stop offset=".4632" stop-color="#b8122a"/><stop offset=".4712" stop-color="#bb1b2c"/><stop offset=".4772" stop-color="#c0282f"/><stop offset=".4852" stop-color="#c53334"/><stop offset=".4912" stop-color="#d1493f"/><stop offset=".4932" stop-color="#dc5d4a"/><stop offset=".4992" stop-color="#dc5d4a"/><stop offset=".4992" stop-color="#5f7fe8"/><stop offset=".5052" stop-color="#5f7fe8"/><stop offset=".5072" stop-color="#5470de"/><stop offset=".5112" stop-color="#4b64d5"/><stop offset=".5272" stop-color="#4055c8"/><stop offset=".5492" stop-color="#3c4ec2"/><stop offset=".5872" stop-color="#3d50c3"/><stop offset=".6412" stop-color="#485fd1"/><stop offset=".6972" stop-color="#5977e3"/><stop offset=".7552" stop-color="#7093f3"/><stop offset=".8192" stop-color="#8db0fe"/><stop offset=".8652" stop-color="#a2c1ff"/><stop offset=".9132" stop-color="#b9d0f9"/><stop offset=".9632" stop-color="#cedaeb"/><stop offset=".9992" stop-color="#dddcdc"/></linearGradient><linearGradient id="b62"><stop offset="0" stop-color="#dddcdc"/><stop offset=".0432" stop-color="#ecd3c5"/><stop offset=".0812" stop-color="#f4c6af"/><stop offset=".1592" stop-color="#f6a385"/><stop offset=".2272" stop-color="#eb7d62"/><stop offset=".3192" stop-color="#cf453c"/><stop offset=".3712" stop-color="#c0282f"/><stop offset=".3852" stop-color="#bb1b2c"/><stop offset=".3892" stop-color="#bb1b2c"/><stop offset=".3912" stop-color="#ba162b"/><stop offset=".4052" stop-color="#b8122a"/><stop offset=".4072" stop-color="#b70d28"/><stop offset=".4172" stop-color="#b70d28"/><stop offset=".4192" stop-color="#b50927"/><stop offset=".4452" stop-color="#b50927"/><stop offset=".4472" stop-color="#b70d28"/><stop offset=".4532" stop-color="#b70d28"/><stop offset=".4672" stop-color="#bb1b2c"/><stop offset=".4732" stop-color="#c0282f"/><stop offset=".4812" stop-color="#c53334"/><stop offset=".4892" stop-color="#d1493f"/><stop offset=".4932" stop-color="#e26952"/><stop offset=".4992" stop-color="#e26952"/><stop offset=".4992" stop-color="#6788ee"/><stop offset=".5052" stop-color="#6788ee"/><stop offset=".5092" stop-color="#5470de"/><stop offset=".5172" stop-color="#4961d2"/><stop offset=".5312" stop-color="#4055c8"/><stop offset=".5532" stop-color="#3c4ec2"/><stop offset=".5912" stop-color="#3d50c3"/><stop offset=".6412" stop-color="#465ecf"/><stop offset=".7012" stop-color="#5977e3"/><stop offset=".7712" stop-color="#7699f6"/><stop offset=".8252" stop-color="#8fb1fe"/><stop offset=".8672" stop-color="#a2c1ff"/><stop offset=".9112" stop-color="#b7cff9"/><stop offset=".9532" stop-color="#cbd8ee"/><stop offset=".9992" stop-color="#dcdddd"/></linearGradient><linearGradient id="b63"><stop offset="0" stop-color="#dddcdc"/><stop offset=".0392" stop-color="#ead4c8"/><stop offset=".0772" stop-color="#f3c7b1"/><stop offset=".1572" stop-color="#f6a385"/><stop offset=".2212" stop-color="#ec7f63"/><stop offset=".3112" stop-color="#d0473d"/><stop offset=".3672" stop-color="#c0282f"/><stop offset=".3732" stop-color="#bd1f2d"/><stop offset=".3852" stop-color="#bb1b2c"/><stop offset=".3932" stop-color="#b8122a"/><stop offset=".3992" stop-color="#b8122a"/><stop offset=".4012" stop-color="#b70d28"/><stop offset=".4112" stop-color="#b70d28"/><stop offset=".4132" stop-color="#b50927"/><stop offset=".4392" stop-color="#b50927"/><stop offset=".4412" stop-color="#b70d28"/><stop offset=".4492" stop-color="#b70d28"/><stop offset=".4552" stop-color="#ba162b"/><stop offset=".4592" stop-color="#ba162b"/><stop offset=".4632" stop-color="#bd1f2d"/><stop offset=".4652" stop-color="#bd1f2d"/><stop offset=".4772" stop-color="#c53334"/><stop offset=".4872" stop-color="#d24b40"/><stop offset=".4892" stop-color="#d75445"/><stop offset=".4932" stop-color="#e8765c"/><stop offset=".4992" stop-color="#e8765c"/><stop offset=".4992" stop-color="#7093f3"/><stop offset=".5052" stop-color="#7093f3"/><stop offset=".5092" stop-color="#5a78e4"/><stop offset=".5132" stop-color="#516ddb"/><stop offset=".5212" stop-color="#4961d2"/><stop offset=".5332" stop-color="#4257c9"/><stop offset=".5592" stop-color="#3c4ec2"/><stop offset=".5972" stop-color="#3d50c3"/><stop offset=".6452" stop-color="#465ecf"/><stop offset=".7052" stop-color="#5977e3"/><stop offset=".7772" stop-color="#779af7"/><stop offset=".8272" stop-color="#8fb1fe"/><stop offset=".8712" stop-color="#a3c2fe"/><stop offset=".9152" stop-color="#b9d0f9"/><stop offset=".9592" stop-color="#cdd9ec"/><stop offset=".9992" stop-color="#dcdddd"/></linearGradient><linearGradient id="b64"><stop offset="0" stop-color="#dddcdc"/><stop offset=".0392" stop-color="#ebd3c6"/><stop offset=".0792" stop-color="#f4c6af"/><stop offset=".1252" stop-color="#f7b194"/><stop offset=".1632" stop-color="#f59f80"/><stop offset=".2212" stop-color="#eb7d62"/><stop offset=".2892" stop-color="#d65244"/><stop offset=".3532" stop-color="#c12b30"/><stop offset=".3612" stop-color="#c0282f"/><stop offset=".3752" stop-color="#bb1b2c"/><stop offset=".3792" stop-color="#bb1b2c"/><stop offset=".3812" stop-color="#ba162b"/><stop offset=".3952" stop-color="#b8122a"/><stop offset=".3972" stop-color="#b70d28"/><stop offset=".4052" stop-color="#b70d28"/><stop offset=".4072" stop-color="#b50927"/><stop offset=".4352" stop-color="#b50927"/><stop offset=".4372" stop-color="#b70d28"/><stop offset=".4452" stop-color="#b70d28"/><stop offset=".4612" stop-color="#bd1f2d"/><stop offset=".4752" stop-color="#c73635"/><stop offset=".4852" stop-color="#d55042"/><stop offset=".4892" stop-color="#df634e"/><stop offset=".4912" stop-color="#e57058"/><stop offset=".4932" stop-color="#ee8468"/><stop offset=".4992" stop-color="#ee8468"/><stop offset=".4992" stop-color="#7b9ff9"/><stop offset=".5052" stop-color="#7b9ff9"/><stop offset=".5072" stop-color="#6c8ff1"/><stop offset=".5112" stop-color="#5d7ce6"/><stop offset=".5152" stop-color="#5470de"/><stop offset=".5232" stop-color="#4a63d3"/><stop offset=".5372" stop-color="#4257c9"/><stop offset=".5532" stop-color="#3d50c3"/><stop offset=".5912" stop-color="#3c4ec2"/><stop offset=".6352" stop-color="#4358cb"/><stop offset=".6952" stop-color="#5470de"/><stop offset=".7592" stop-color="#6e90f2"/><stop offset=".8272" stop-color="#8db0fe"/><stop offset=".8732" stop-color="#a3c2fe"/><stop offset=".9112" stop-color="#b6cefa"/><stop offset=".9592" stop-color="#ccd9ed"/><stop offset=".9992" stop-color="#dddcdc"/></linearGradient><linearGradient id="b65"><stop offset="0" stop-color="#dddcdc"/><stop offset=".0412" stop-color="#ecd3c5"/><stop offset=".0752" stop-color="#f3c7b1"/><stop offset=".1492" stop-color="#f6a586"/><stop offset=".2152" stop-color="#ec7f63"/><stop offset=".2992" stop-color="#d1493f"/><stop offset=".3572" stop-color="#c0282f"/><stop offset=".3692" stop-color="#bb1b2c"/><stop offset=".3752" stop-color="#bb1b2c"/><stop offset=".3832" stop-color="#b8122a"/><stop offset=".3892" stop-color="#b8122a"/><stop offset=".3912" stop-color="#b70d28"/><stop offset=".4012" stop-color="#b70d28"/><stop offset=".4032" stop-color="#b50927"/><stop offset=".4312" stop-color="#b50927"/><stop offset=".4332" stop-color="#b70d28"/><stop offset=".4452" stop-color="#b8122a"/><stop offset=".4712" stop-color="#c73635"/><stop offset=".4792" stop-color="#d0473d"/><stop offset=".4852" stop-color="#da5a49"/><stop offset=".4892" stop-color="#e46e56"/><stop offset=".4932" stop-color="#f39475"/><stop offset=".4992" stop-color="#f39475"/><stop offset=".4992" stop-color="#88abfd"/><stop offset=".5052" stop-color="#88abfd"/><stop offset=".5092" stop-color="#6b8df0"/><stop offset=".5132" stop-color="#5e7de7"/><stop offset=".5192" stop-color="#536edd"/><stop offset=".5272" stop-color="#4a63d3"/><stop offset=".5532" stop-color="#3e51c5"/><stop offset=".5952" stop-color="#3c4ec2"/><stop offset=".6452" stop-color="#445acc"/><stop offset=".6992" stop-color="#5470de"/><stop offset=".7592" stop-color="#6c8ff1"/><stop offset=".8292" stop-color="#8db0fe"/><stop offset=".8752" stop-color="#a3c2fe"/><stop offset=".9152" stop-color="#b7cff9"/><stop offset=".9552" stop-color="#cbd8ee"/><stop offset=".9992" stop-color="#dcdddd"/></linearGradient><linearGradient id="b66"><stop offset="0" stop-color="#dddcdc"/><stop offset=".0352" stop-color="#ead4c8"/><stop offset=".0792" stop-color="#f4c5ad"/><stop offset=".1472" stop-color="#f6a586"/><stop offset=".2112" stop-color="#ec7f63"/><stop offset=".2952" stop-color="#d1493f"/><stop offset=".3432" stop-color="#c32e31"/><stop offset=".3532" stop-color="#be242e"/><stop offset=".3572" stop-color="#be242e"/><stop offset=".3592" stop-color="#bd1f2d"/><stop offset=".3632" stop-color="#bd1f2d"/><stop offset=".3652" stop-color="#bb1b2c"/><stop offset=".3692" stop-color="#bb1b2c"/><stop offset=".3712" stop-color="#ba162b"/><stop offset=".3852" stop-color="#b8122a"/><stop offset=".3872" stop-color="#b70d28"/><stop offset=".3952" stop-color="#b70d28"/><stop offset=".3972" stop-color="#b50927"/><stop offset=".4272" stop-color="#b50927"/><stop offset=".4292" stop-color="#b70d28"/><stop offset=".4412" stop-color="#b8122a"/><stop offset=".4652" stop-color="#c53334"/><stop offset=".4772" stop-color="#d24b40"/><stop offset=".4852" stop-color="#e16751"/><stop offset=".4892" stop-color="#eb7d62"/><stop offset=".4932" stop-color="#f5a081"/><stop offset=".4992" stop-color="#f5a081"/><stop offset=".4992" stop-color="#93b5fe"/><stop offset=".5052" stop-color="#93b5fe"/><stop offset=".5092" stop-color="#7699f6"/><stop offset=".5152" stop-color="#6180e9"/><stop offset=".5212" stop-color="#5572df"/><stop offset=".5332" stop-color="#4961d2"/><stop offset=".5492" stop-color="#4055c8"/><stop offset=".5632" stop-color="#3d50c3"/><stop offset=".6012" stop-color="#3c4ec2"/><stop offset=".6452" stop-color="#4358cb"/><stop offset=".7032" stop-color="#5470de"/><stop offset=".7632" stop-color="#6c8ff1"/><stop offset=".8372" stop-color="#90b2fe"/><stop offset=".8772" stop-color="#a3c2fe"/><stop offset=".9192" stop-color="#b9d0f9"/><stop offset=".9532" stop-color="#cad8ef"/><stop offset=".9992" stop-color="#dcdddd"/></linearGradient><linearGradient id="b67"><stop offset="0" stop-color="#dddcdc"/><stop offset=".0372" stop-color="#ebd3c6"/><stop offset=".0752" stop-color="#f4c6af"/><stop offset=".1452" stop-color="#f6a586"/><stop offset=".2032" stop-color="#ed8366"/><stop offset=".2872" stop-color="#d24b40"/><stop offset=".3472" stop-color="#c0282f"/><stop offset=".3612" stop-color="#bb1b2c"/><stop offset=".3652" stop-color="#bb1b2c"/><stop offset=".3672" stop-color="#ba162b"/><stop offset=".3712" stop-color="#ba162b"/><stop offset=".3732" stop-color="#b8122a"/><stop offset=".3892" stop-color="#b70d28"/><stop offset=".3912" stop-color="#b50927"/><stop offset=".4012" stop-color="#b50927"/><stop offset=".4232" stop-color="#b50927"/><stop offset=".4252" stop-color="#b70d28"/><stop offset=".4372" stop-color="#b8122a"/><stop offset=".4452" stop-color="#bb1b2c"/><stop offset=".4512" stop-color="#c0282f"/><stop offset=".4532" stop-color="#c0282f"/><stop offset=".4672" stop-color="#cb3e38"/><stop offset=".4752" stop-color="#d55042"/><stop offset=".4812" stop-color="#df634e"/><stop offset=".4872" stop-color="#eb7d62"/><stop offset=".4912" stop-color="#f49a7b"/><stop offset=".4932" stop-color="#f7ac8e"/><stop offset=".4992" stop-color="#f7ac8e"/><stop offset=".4992" stop-color="#9ebeff"/><stop offset=".5052" stop-color="#9ebeff"/><stop offset=".5072" stop-color="#8db0fe"/><stop offset=".5112" stop-color="#7699f6"/><stop offset=".5172" stop-color="#6384eb"/><stop offset=".5232" stop-color="#5875e1"/><stop offset=".5372" stop-color="#4961d2"/><stop offset=".5532" stop-color="#4055c8"/><stop offset=".5672" stop-color="#3d50c3"/><stop offset=".6072" stop-color="#3c4ec2"/><stop offset=".6592" stop-color="#455cce"/><stop offset=".7112" stop-color="#5572df"/><stop offset=".7692" stop-color="#6e90f2"/><stop offset=".8372" stop-color="#8fb1fe"/><stop offset=".8792" stop-color="#a3c2fe"/><stop offset=".9232" stop-color="#bad0f8"/><stop offset=".9612" stop-color="#ccd9ed"/><stop offset=".9992" stop-color="#dddcdc"/></linearGradient><linearGradient id="b68"><stop offset="0" stop-color="#dddcdc"/><stop offset=".0692" stop-color="#f3c8b2"/><stop offset=".1432" stop-color="#f6a586"/><stop offset=".2232" stop-color="#e67259"/><stop offset=".3012" stop-color="#cc403a"/><stop offset=".3432" stop-color="#c0282f"/><stop offset=".3492" stop-color="#bd1f2d"/><stop offset=".3532" stop-color="#bd1f2d"/><stop offset=".3612" stop-color="#ba162b"/><stop offset=".3672" stop-color="#ba162b"/><stop offset=".3692" stop-color="#b8122a"/><stop offset=".3752" stop-color="#b8122a"/><stop offset=".3772" stop-color="#b70d28"/><stop offset=".3852" stop-color="#b70d28"/><stop offset=".3872" stop-color="#b50927"/><stop offset=".4192" stop-color="#b50927"/><stop offset=".4212" stop-color="#b70d28"/><stop offset=".4272" stop-color="#b70d28"/><stop offset=".4332" stop-color="#ba162b"/><stop offset=".4372" stop-color="#ba162b"/><stop offset=".4472" stop-color="#c0282f"/><stop offset=".4572" stop-color="#c53334"/><stop offset=".4772" stop-color="#dd5f4b"/><stop offset=".4832" stop-color="#e8765c"/><stop offset=".4872" stop-color="#f08a6c"/><stop offset=".4912" stop-color="#f6a586"/><stop offset=".4932" stop-color="#f7b599"/><stop offset=".4992" stop-color="#f7b599"/><stop offset=".4992" stop-color="#a7c5fe"/><stop offset=".5052" stop-color="#a7c5fe"/><stop offset=".5072" stop-color="#97b8ff"/><stop offset=".5112" stop-color="#80a3fa"/><stop offset=".5152" stop-color="#7093f3"/><stop offset=".5212" stop-color="#6180e9"/><stop offset=".5352" stop-color="#4e68d8"/><stop offset=".5412" stop-color="#4961d2"/><stop offset=".5712" stop-color="#3d50c3"/><stop offset=".6112" stop-color="#3c4ec2"/><stop offset=".6492" stop-color="#4257c9"/><stop offset=".7152" stop-color="#5572df"/><stop offset=".7812" stop-color="#7295f4"/><stop offset=".8372" stop-color="#8db0fe"/><stop offset=".8812" stop-color="#a3c2fe"/><stop offset=".9192" stop-color="#b7cff9"/><stop offset=".9572" stop-color="#cbd8ee"/><stop offset=".9992" stop-color="#dcdddd"/></linearGradient><linearGradient id="b69"><stop offset="0" stop-color="#dddcdc"/><stop offset=".0312" stop-color="#ead5c9"/><stop offset=".0732" stop-color="#f4c6af"/><stop offset=".1432" stop-color="#f6a385"/><stop offset=".2052" stop-color="#eb7d62"/><stop offset=".2792" stop-color="#d24b40"/><stop offset=".3372" stop-color="#c0282f"/><stop offset=".3512" stop-color="#bb1b2c"/><stop offset=".3552" stop-color="#bb1b2c"/><stop offset=".3572" stop-color="#ba162b"/><stop offset=".3612" stop-color="#ba162b"/><stop offset=".3632" stop-color="#b8122a"/><stop offset=".3692" stop-color="#b8122a"/><stop offset=".3712" stop-color="#b70d28"/><stop offset=".3792" stop-color="#b70d28"/><stop offset=".3812" stop-color="#b50927"/><stop offset=".4012" stop-color="#b50927"/><stop offset=".4152" stop-color="#b50927"/><stop offset=".4172" stop-color="#b70d28"/><stop offset=".4272" stop-color="#b8122a"/><stop offset=".4392" stop-color="#bd1f2d"/><stop offset=".4432" stop-color="#c0282f"/><stop offset=".4472" stop-color="#c12b30"/><stop offset=".4592" stop-color="#cb3e38"/><stop offset=".4692" stop-color="#d65244"/><stop offset=".4752" stop-color="#df634e"/><stop offset=".4832" stop-color="#ec8165"/><stop offset=".4872" stop-color="#f39577"/><stop offset=".4912" stop-color="#f7af91"/><stop offset=".4932" stop-color="#f6bda2"/><stop offset=".4992" stop-color="#f6bda2"/><stop offset=".4992" stop-color="#afcafc"/><stop offset=".5052" stop-color="#afcafc"/><stop offset=".5072" stop-color="#a1c0ff"/><stop offset=".5112" stop-color="#89acfd"/><stop offset=".5152" stop-color="#799cf8"/><stop offset=".5232" stop-color="#6384eb"/><stop offset=".5332" stop-color="#5470de"/><stop offset=".5472" stop-color="#485fd1"/><stop offset=".5592" stop-color="#4257c9"/><stop offset=".5832" stop-color="#3c4ec2"/><stop offset=".6172" stop-color="#3c4ec2"/><stop offset=".6592" stop-color="#4358cb"/><stop offset=".7192" stop-color="#5572df"/><stop offset=".7732" stop-color="#6c8ff1"/><stop offset=".8392" stop-color="#8db0fe"/><stop offset=".8852" stop-color="#a5c3fe"/><stop offset=".9252" stop-color="#bad0f8"/><stop offset=".9672" stop-color="#cedaeb"/><stop offset=".9992" stop-color="#dddcdc"/></linearGradient><linearGradient id="b70"><stop offset="0" stop-color="#dddcdc"/><stop offset=".0352" stop-color="#ead4c8"/><stop offset=".0692" stop-color="#f3c7b1"/><stop offset=".1412" stop-color="#f6a385"/><stop offset=".1992" stop-color="#ec7f63"/><stop offset=".2852" stop-color="#cf453c"/><stop offset=".3332" stop-color="#c0282f"/><stop offset=".3452" stop-color="#bb1b2c"/><stop offset=".3572" stop-color="#ba162b"/><stop offset=".3652" stop-color="#b70d28"/><stop offset=".3732" stop-color="#b70d28"/><stop offset=".3752" stop-color="#b50927"/><stop offset=".4092" stop-color="#b50927"/><stop offset=".4112" stop-color="#b70d28"/><stop offset=".4232" stop-color="#b8122a"/><stop offset=".4352" stop-color="#bd1f2d"/><stop offset=".4392" stop-color="#c0282f"/><stop offset=".4592" stop-color="#cf453c"/><stop offset=".4752" stop-color="#e36c55"/><stop offset=".4852" stop-color="#f39577"/><stop offset=".4892" stop-color="#f7ac8e"/><stop offset=".4932" stop-color="#f5c2aa"/><stop offset=".4992" stop-color="#f5c2aa"/><stop offset=".4992" stop-color="#b6cefa"/><stop offset=".5052" stop-color="#b6cefa"/><stop offset=".5092" stop-color="#9ebeff"/><stop offset=".5132" stop-color="#89acfd"/><stop offset=".5232" stop-color="#6a8bef"/><stop offset=".5312" stop-color="#5b7ae5"/><stop offset=".5432" stop-color="#4e68d8"/><stop offset=".5632" stop-color="#4257c9"/><stop offset=".5752" stop-color="#3e51c5"/><stop offset=".6232" stop-color="#3c4ec2"/><stop offset=".6692" stop-color="#445acc"/><stop offset=".7132" stop-color="#516ddb"/><stop offset=".7792" stop-color="#6e90f2"/><stop offset=".8392" stop-color="#8caffe"/><stop offset=".8812" stop-color="#a2c1ff"/><stop offset=".9192" stop-color="#b6cefa"/><stop offset=".9612" stop-color="#ccd9ed"/><stop offset=".9992" stop-color="#dcdddd"/></linearGradient><linearGradient id="b71"><stop offset="0" stop-color="#dddcdc"/><stop offset=".0372" stop-color="#ecd3c5"/><stop offset=".0732" stop-color="#f4c5ad"/><stop offset=".1332" stop-color="#f7a688"/><stop offset=".1932" stop-color="#ec8165"/><stop offset=".2332" stop-color="#e0654f"/><stop offset=".2812" stop-color="#cf453c"/><stop offset=".3292" stop-color="#c0282f"/><stop offset=".3352" stop-color="#bd1f2d"/><stop offset=".3392" stop-color="#bd1f2d"/><stop offset=".3532" stop-color="#b8122a"/><stop offset=".3592" stop-color="#b8122a"/><stop offset=".3612" stop-color="#b70d28"/><stop offset=".3692" stop-color="#b70d28"/><stop offset=".3712" stop-color="#b50927"/><stop offset=".4012" stop-color="#b50927"/><stop offset=".4132" stop-color="#b70d28"/><stop offset=".4272" stop-color="#bb1b2c"/><stop offset=".4312" stop-color="#be242e"/><stop offset=".4512" stop-color="#cb3e38"/><stop offset=".4692" stop-color="#e0654f"/><stop offset=".4812" stop-color="#f18d6f"/><stop offset=".4872" stop-color="#f7a98b"/><stop offset=".4932" stop-color="#f3c7b1"/><stop offset=".4992" stop-color="#f3c7b1"/><stop offset=".4992" stop-color="#bbd1f8"/><stop offset=".5052" stop-color="#bbd1f8"/><stop offset=".5112" stop-color="#9bbcff"/><stop offset=".5172" stop-color="#82a6fb"/><stop offset=".5252" stop-color="#6c8ff1"/><stop offset=".5332" stop-color="#5e7de7"/><stop offset=".5472" stop-color="#4e68d8"/><stop offset=".5652" stop-color="#4358cb"/><stop offset=".5792" stop-color="#3e51c5"/><stop offset=".6272" stop-color="#3c4ec2"/><stop offset=".6732" stop-color="#445acc"/><stop offset=".7272" stop-color="#5572df"/><stop offset=".7912" stop-color="#7295f4"/><stop offset=".8472" stop-color="#8fb1fe"/><stop offset=".8852" stop-color="#a3c2fe"/><stop offset=".9252" stop-color="#b9d0f9"/><stop offset=".9612" stop-color="#cbd8ee"/><stop offset=".9992" stop-color="#dddcdc"/></linearGradient><linearGradient id="b72"><stop offset="0" stop-color="#dddcdc"/><stop offset=".0552" stop-color="#f1ccb8"/><stop offset=".0932" stop-color="#f7ba9f"/><stop offset=".1312" stop-color="#f7a688"/><stop offset=".1932" stop-color="#ec7f63"/><stop offset=".2732" stop-color="#d0473d"/><stop offset=".3232" stop-color="#c0282f"/><stop offset=".3352" stop-color="#bb1b2c"/><stop offset=".3472" stop-color="#ba162b"/><stop offset=".3552" stop-color="#b70d28"/><stop offset=".3632" stop-color="#b70d28"/><stop offset=".3652" stop-color="#b50927"/><stop offset=".4012" stop-color="#b50927"/><stop offset=".4032" stop-color="#b70d28"/><stop offset=".4092" stop-color="#b70d28"/><stop offset=".4152" stop-color="#ba162b"/><stop offset=".4192" stop-color="#ba162b"/><stop offset=".4232" stop-color="#bd1f2d"/><stop offset=".4292" stop-color="#be242e"/><stop offset=".4512" stop-color="#cf453c"/><stop offset=".4652" stop-color="#df634e"/><stop offset=".4732" stop-color="#e97a5f"/><stop offset=".4792" stop-color="#f18f71"/><stop offset=".4872" stop-color="#f7b194"/><stop offset=".4932" stop-color="#f2cbb7"/><stop offset=".4992" stop-color="#f2cbb7"/><stop offset=".4992" stop-color="#c0d4f5"/><stop offset=".5052" stop-color="#c0d4f5"/><stop offset=".5112" stop-color="#a3c2fe"/><stop offset=".5192" stop-color="#84a7fc"/><stop offset=".5252" stop-color="#7396f5"/><stop offset=".5392" stop-color="#5a78e4"/><stop offset=".5532" stop-color="#4c66d6"/><stop offset=".5692" stop-color="#4358cb"/><stop offset=".5892" stop-color="#3d50c3"/><stop offset=".6332" stop-color="#3c4ec2"/><stop offset=".6832" stop-color="#455cce"/><stop offset=".7352" stop-color="#5673e0"/><stop offset=".8052" stop-color="#779af7"/><stop offset=".8472" stop-color="#8db0fe"/><stop offset=".9172" stop-color="#b3cdfb"/><stop offset=".9552" stop-color="#c9d7f0"/><stop offset=".9992" stop-color="#dcdddd"/></linearGradient><linearGradient id="b73"><stop offset="0" stop-color="#dddcdc"/><stop offset=".0612" stop-color="#f2c9b4"/><stop offset=".1292" stop-color="#f7a688"/><stop offset=".1952" stop-color="#ea7b60"/><stop offset=".2692" stop-color="#d0473d"/><stop offset=".3192" stop-color="#c0282f"/><stop offset=".3252" stop-color="#bd1f2d"/><stop offset=".3292" stop-color="#bd1f2d"/><stop offset=".3432" stop-color="#b8122a"/><stop offset=".3492" stop-color="#b8122a"/><stop offset=".3512" stop-color="#b70d28"/><stop offset=".3592" stop-color="#b70d28"/><stop offset=".3612" stop-color="#b50927"/><stop offset=".3972" stop-color="#b50927"/><stop offset=".3992" stop-color="#b70d28"/><stop offset=".4092" stop-color="#b8122a"/><stop offset=".4212" stop-color="#bd1f2d"/><stop offset=".4252" stop-color="#c0282f"/><stop offset=".4412" stop-color="#ca3b37"/><stop offset=".4532" stop-color="#d55042"/><stop offset=".4672" stop-color="#e57058"/><stop offset=".4732" stop-color="#ed8366"/><stop offset=".4812" stop-color="#f59f80"/><stop offset=".4872" stop-color="#f7b79b"/><stop offset=".4932" stop-color="#f0cdbb"/><stop offset=".4992" stop-color="#f0cdbb"/><stop offset=".4992" stop-color="#c4d5f3"/><stop offset=".5052" stop-color="#c4d5f3"/><stop offset=".5132" stop-color="#a1c0ff"/><stop offset=".5212" stop-color="#85a8fc"/><stop offset=".5312" stop-color="#6c8ff1"/><stop offset=".5452" stop-color="#5875e1"/><stop offset=".5572" stop-color="#4c66d6"/><stop offset=".5712" stop-color="#445acc"/><stop offset=".5892" stop-color="#3e51c5"/><stop offset=".6012" stop-color="#3c4ec2"/><stop offset=".6372" stop-color="#3c4ec2"/><stop offset=".6832" stop-color="#445acc"/><stop offset=".7392" stop-color="#5673e0"/><stop offset=".8032" stop-color="#7597f6"/><stop offset=".8492" stop-color="#8db0fe"/><stop offset=".8872" stop-color="#a2c1ff"/><stop offset=".9232" stop-color="#b6cefa"/><stop offset=".9632" stop-color="#ccd9ed"/><stop offset=".9992" stop-color="#dcdddd"/></linearGradient><linearGradient id="b74"><stop offset="0" stop-color="#dddcdc"/><stop offset=".0352" stop-color="#ecd3c5"/><stop offset=".0692" stop-color="#f4c5ad"/><stop offset=".1272" stop-color="#f7a688"/><stop offset=".1892" stop-color="#eb7d62"/><stop offset=".2552" stop-color="#d44e41"/><stop offset=".3132" stop-color="#c0282f"/><stop offset=".3152" stop-color="#be242e"/><stop offset=".3252" stop-color="#bd1f2d"/><stop offset=".3312" stop-color="#ba162b"/><stop offset=".3432" stop-color="#b8122a"/><stop offset=".3452" stop-color="#b70d28"/><stop offset=".3532" stop-color="#b70d28"/><stop offset=".3552" stop-color="#b50927"/><stop offset=".3932" stop-color="#b50927"/><stop offset=".4012" stop-color="#b8122a"/><stop offset=".4052" stop-color="#b8122a"/><stop offset=".4372" stop-color="#ca3b37"/><stop offset=".4572" stop-color="#de614d"/><stop offset=".4692" stop-color="#ec7f63"/><stop offset=".4772" stop-color="#f4987a"/><stop offset=".4872" stop-color="#f7bca1"/><stop offset=".4932" stop-color="#efcfbf"/><stop offset=".4992" stop-color="#efcfbf"/><stop offset=".4992" stop-color="#c6d6f1"/><stop offset=".5052" stop-color="#c6d6f1"/><stop offset=".5092" stop-color="#b6cefa"/><stop offset=".5152" stop-color="#9fbfff"/><stop offset=".5252" stop-color="#81a4fb"/><stop offset=".5352" stop-color="#6b8df0"/><stop offset=".5512" stop-color="#5572df"/><stop offset=".5612" stop-color="#4c66d6"/><stop offset=".5932" stop-color="#3e51c5"/><stop offset=".6052" stop-color="#3c4ec2"/><stop offset=".6432" stop-color="#3c4ec2"/><stop offset=".6832" stop-color="#4358cb"/><stop offset=".7432" stop-color="#5673e0"/><stop offset=".8092" stop-color="#7699f6"/><stop offset=".8532" stop-color="#8db0fe"/><stop offset=".8912" stop-color="#a3c2fe"/><stop offset=".9292" stop-color="#b9d0f9"/><stop offset=".9632" stop-color="#cbd8ee"/><stop offset=".9992" stop-color="#dddcdc"/></linearGradient><linearGradient id="b75"><stop offset="0" stop-color="#dddcdc"/><stop offset=".0592" stop-color="#f2c9b4"/><stop offset=".1252" stop-color="#f7a688"/><stop offset=".1812" stop-color="#ec8165"/><stop offset=".2512" stop-color="#d44e41"/><stop offset=".3092" stop-color="#c0282f"/><stop offset=".3152" stop-color="#bd1f2d"/><stop offset=".3312" stop-color="#ba162b"/><stop offset=".3332" stop-color="#b8122a"/><stop offset=".3392" stop-color="#b8122a"/><stop offset=".3412" stop-color="#b70d28"/><stop offset=".3472" stop-color="#b70d28"/><stop offset=".3492" stop-color="#b50927"/><stop offset=".3672" stop-color="#b50927"/><stop offset=".3712" stop-color="#b40426"/><stop offset=".3732" stop-color="#b50927"/><stop offset=".3872" stop-color="#b50927"/><stop offset=".3892" stop-color="#b70d28"/><stop offset=".4012" stop-color="#b8122a"/><stop offset=".4332" stop-color="#ca3b37"/><stop offset=".4532" stop-color="#dd5f4b"/><stop offset=".4672" stop-color="#ec8165"/><stop offset=".4792" stop-color="#f7a688"/><stop offset=".4872" stop-color="#f5c0a7"/><stop offset=".4932" stop-color="#edd1c2"/><stop offset=".4992" stop-color="#edd1c2"/><stop offset=".4992" stop-color="#c9d7f0"/><stop offset=".5052" stop-color="#c9d7f0"/><stop offset=".5112" stop-color="#b3cdfb"/><stop offset=".5172" stop-color="#9fbfff"/><stop offset=".5332" stop-color="#7597f6"/><stop offset=".5452" stop-color="#6180e9"/><stop offset=".5592" stop-color="#516ddb"/><stop offset=".5772" stop-color="#455cce"/><stop offset=".5892" stop-color="#4055c8"/><stop offset=".6292" stop-color="#3b4cc0"/><stop offset=".6832" stop-color="#4257c9"/><stop offset=".7312" stop-color="#506bda"/><stop offset=".7992" stop-color="#6f92f3"/><stop offset=".8552" stop-color="#8db0fe"/><stop offset=".8932" stop-color="#a3c2fe"/><stop offset=".9272" stop-color="#b7cff9"/><stop offset=".9592" stop-color="#c9d7f0"/><stop offset=".9992" stop-color="#dcdddd"/></linearGradient><linearGradient id="b76"><stop offset="0" stop-color="#dddcdc"/><stop offset=".0232" stop-color="#e8d6cc"/><stop offset=".0672" stop-color="#f4c5ad"/><stop offset=".1252" stop-color="#f6a586"/><stop offset=".1832" stop-color="#eb7d62"/><stop offset=".2532" stop-color="#d1493f"/><stop offset=".3052" stop-color="#c0282f"/><stop offset=".3212" stop-color="#ba162b"/><stop offset=".3272" stop-color="#ba162b"/><stop offset=".3352" stop-color="#b70d28"/><stop offset=".3692" stop-color="#b40426"/><stop offset=".3712" stop-color="#b50927"/><stop offset=".3832" stop-color="#b50927"/><stop offset=".3852" stop-color="#b70d28"/><stop offset=".3912" stop-color="#b70d28"/><stop offset=".3972" stop-color="#ba162b"/><stop offset=".4052" stop-color="#bb1b2c"/><stop offset=".4092" stop-color="#be242e"/><stop offset=".4192" stop-color="#c32e31"/><stop offset=".4352" stop-color="#cf453c"/><stop offset=".4552" stop-color="#e36b54"/><stop offset=".4692" stop-color="#f18f71"/><stop offset=".4772" stop-color="#f7a688"/><stop offset=".4852" stop-color="#f6bea4"/><stop offset=".4932" stop-color="#ecd3c5"/><stop offset=".4992" stop-color="#ecd3c5"/><stop offset=".4992" stop-color="#cbd8ee"/><stop offset=".5052" stop-color="#cbd8ee"/><stop offset=".5112" stop-color="#b7cff9"/><stop offset=".5172" stop-color="#a5c3fe"/><stop offset=".5272" stop-color="#89acfd"/><stop offset=".5392" stop-color="#6f92f3"/><stop offset=".5632" stop-color="#516ddb"/><stop offset=".5932" stop-color="#4055c8"/><stop offset=".6152" stop-color="#3c4ec2"/><stop offset=".6372" stop-color="#3b4cc0"/><stop offset=".6772" stop-color="#3f53c6"/><stop offset=".7452" stop-color="#5470de"/><stop offset=".7972" stop-color="#6c8ff1"/><stop offset=".8572" stop-color="#8db0fe"/><stop offset=".8952" stop-color="#a3c2fe"/><stop offset=".9292" stop-color="#b7cff9"/><stop offset=".9652" stop-color="#ccd9ed"/><stop offset=".9992" stop-color="#dcdddd"/></linearGradient><linearGradient id="b77"><stop offset="0" stop-color="#dddcdc"/><stop offset=".0312" stop-color="#ebd3c6"/><stop offset=".0592" stop-color="#f3c8b2"/><stop offset=".1252" stop-color="#f6a385"/><stop offset=".1852" stop-color="#e9785d"/><stop offset=".2492" stop-color="#d1493f"/><stop offset=".2992" stop-color="#c0282f"/><stop offset=".3012" stop-color="#be242e"/><stop offset=".3052" stop-color="#be242e"/><stop offset=".3112" stop-color="#bb1b2c"/><stop offset=".3152" stop-color="#bb1b2c"/><stop offset=".3232" stop-color="#b8122a"/><stop offset=".3292" stop-color="#b8122a"/><stop offset=".3312" stop-color="#b70d28"/><stop offset=".3372" stop-color="#b70d28"/><stop offset=".3392" stop-color="#b50927"/><stop offset=".3532" stop-color="#b50927"/><stop offset=".3552" stop-color="#b40426"/><stop offset=".3792" stop-color="#b50927"/><stop offset=".3872" stop-color="#b8122a"/><stop offset=".3912" stop-color="#b8122a"/><stop offset=".4032" stop-color="#bd1f2d"/><stop offset=".4072" stop-color="#c0282f"/><stop offset=".4212" stop-color="#c73635"/><stop offset=".4472" stop-color="#de614d"/><stop offset=".4592" stop-color="#ea7b60"/><stop offset=".4752" stop-color="#f7a688"/><stop offset=".4852" stop-color="#f5c1a9"/><stop offset=".4932" stop-color="#ebd3c6"/><stop offset=".4992" stop-color="#ebd3c6"/><stop offset=".4992" stop-color="#ccd9ed"/><stop offset=".5052" stop-color="#ccd9ed"/><stop offset=".5132" stop-color="#b5cdfa"/><stop offset=".5192" stop-color="#a3c2fe"/><stop offset=".5272" stop-color="#8fb1fe"/><stop offset=".5392" stop-color="#7597f6"/><stop offset=".5512" stop-color="#6282ea"/><stop offset=".5672" stop-color="#516ddb"/><stop offset=".5792" stop-color="#4961d2"/><stop offset=".6072" stop-color="#3e51c5"/><stop offset=".6432" stop-color="#3b4cc0"/><stop offset=".6872" stop-color="#4055c8"/><stop offset=".7492" stop-color="#5470de"/><stop offset=".8032" stop-color="#6e90f2"/><stop offset=".8572" stop-color="#8caffe"/><stop offset=".8972" stop-color="#a3c2fe"/><stop offset=".9292" stop-color="#b7cff9"/><stop offset=".9672" stop-color="#ccd9ed"/><stop offset=".9992" stop-color="#dddcdc"/></linearGradient><linearGradient id="b78"><stop offset="0" stop-color="#dddcdc"/><stop offset=".0332" stop-color="#ecd3c5"/><stop offset=".0652" stop-color="#f4c5ad"/><stop offset=".1252" stop-color="#f6a283"/><stop offset=".1772" stop-color="#ea7b60"/><stop offset=".2392" stop-color="#d44e41"/><stop offset=".2872" stop-color="#c12b30"/><stop offset=".2952" stop-color="#c0282f"/><stop offset=".3112" stop-color="#ba162b"/><stop offset=".3172" stop-color="#ba162b"/><stop offset=".3192" stop-color="#b8122a"/><stop offset=".3312" stop-color="#b70d28"/><stop offset=".3332" stop-color="#b50927"/><stop offset=".3472" stop-color="#b50927"/><stop offset=".3492" stop-color="#b40426"/><stop offset=".3752" stop-color="#b50927"/><stop offset=".3832" stop-color="#b8122a"/><stop offset=".3872" stop-color="#b8122a"/><stop offset=".4052" stop-color="#c0282f"/><stop offset=".4272" stop-color="#cf453c"/><stop offset=".4512" stop-color="#e57058"/><stop offset=".4632" stop-color="#f18d6f"/><stop offset=".4772" stop-color="#f7b093"/><stop offset=".4852" stop-color="#f4c5ad"/><stop offset=".4932" stop-color="#ead5c9"/><stop offset=".4992" stop-color="#ead5c9"/><stop offset=".4992" stop-color="#cedaeb"/><stop offset=".5052" stop-color="#cedaeb"/><stop offset=".5132" stop-color="#b9d0f9"/><stop offset=".5212" stop-color="#a2c1ff"/><stop offset=".5352" stop-color="#82a6fb"/><stop offset=".5472" stop-color="#6c8ff1"/><stop offset=".5712" stop-color="#516ddb"/><stop offset=".5932" stop-color="#445acc"/><stop offset=".6112" stop-color="#3e51c5"/><stop offset=".6492" stop-color="#3b4cc0"/><stop offset=".6872" stop-color="#3f53c6"/><stop offset=".7472" stop-color="#516ddb"/><stop offset=".8092" stop-color="#6f92f3"/><stop offset=".8632" stop-color="#8db0fe"/><stop offset=".8992" stop-color="#a3c2fe"/><stop offset=".9312" stop-color="#b7cff9"/><stop offset=".9652" stop-color="#cbd8ee"/><stop offset=".9992" stop-color="#dddcdc"/></linearGradient><linearGradient id="b79"><stop offset="0" stop-color="#dddcdc"/><stop offset=".0332" stop-color="#ecd3c5"/><stop offset=".0632" stop-color="#f4c5ad"/><stop offset=".1252" stop-color="#f5a081"/><stop offset=".1812" stop-color="#e8765c"/><stop offset=".2352" stop-color="#d44e41"/><stop offset=".2892" stop-color="#c0282f"/><stop offset=".2912" stop-color="#be242e"/><stop offset=".2952" stop-color="#be242e"/><stop offset=".3012" stop-color="#bb1b2c"/><stop offset=".3112" stop-color="#ba162b"/><stop offset=".3132" stop-color="#b8122a"/><stop offset=".3272" stop-color="#b70d28"/><stop offset=".3292" stop-color="#b50927"/><stop offset=".3412" stop-color="#b50927"/><stop offset=".3432" stop-color="#b40426"/><stop offset=".3572" stop-color="#b40426"/><stop offset=".3592" stop-color="#b50927"/><stop offset=".3692" stop-color="#b50927"/><stop offset=".3712" stop-color="#b70d28"/><stop offset=".3832" stop-color="#b8122a"/><stop offset=".3912" stop-color="#bb1b2c"/><stop offset=".3952" stop-color="#be242e"/><stop offset=".4232" stop-color="#cf453c"/><stop offset=".4412" stop-color="#df634e"/><stop offset=".4532" stop-color="#ea7b60"/><stop offset=".4652" stop-color="#f4987a"/><stop offset=".4752" stop-color="#f7b093"/><stop offset=".4852" stop-color="#f3c7b1"/><stop offset=".4932" stop-color="#e9d5cb"/><stop offset=".4992" stop-color="#e9d5cb"/><stop offset=".4992" stop-color="#cfdaea"/><stop offset=".5052" stop-color="#cfdaea"/><stop offset=".5132" stop-color="#bbd1f8"/><stop offset=".5232" stop-color="#a2c1ff"/><stop offset=".5332" stop-color="#8caffe"/><stop offset=".5512" stop-color="#6b8df0"/><stop offset=".5752" stop-color="#516ddb"/><stop offset=".5952" stop-color="#455cce"/><stop offset=".6152" stop-color="#3e51c5"/><stop offset=".6552" stop-color="#3b4cc0"/><stop offset=".6972" stop-color="#4055c8"/><stop offset=".7452" stop-color="#4f69d9"/><stop offset=".8052" stop-color="#6b8df0"/><stop offset=".8652" stop-color="#8db0fe"/><stop offset=".9012" stop-color="#a3c2fe"/><stop offset=".9352" stop-color="#b9d0f9"/><stop offset=".9672" stop-color="#ccd9ed"/><stop offset=".9992" stop-color="#dddcdc"/></linearGradient><linearGradient id="b80"><stop offset="0" stop-color="#dddcdc"/><stop offset=".0332" stop-color="#ecd3c5"/><stop offset=".0632" stop-color="#f4c5ad"/><stop offset=".0952" stop-color="#f7b194"/><stop offset=".1272" stop-color="#f59d7e"/><stop offset=".1852" stop-color="#e57058"/><stop offset=".2312" stop-color="#d44e41"/><stop offset=".2852" stop-color="#c0282f"/><stop offset=".2912" stop-color="#bd1f2d"/><stop offset=".3132" stop-color="#b8122a"/><stop offset=".3152" stop-color="#b70d28"/><stop offset=".3212" stop-color="#b70d28"/><stop offset=".3232" stop-color="#b50927"/><stop offset=".3352" stop-color="#b50927"/><stop offset=".3372" stop-color="#b40426"/><stop offset=".3532" stop-color="#b40426"/><stop offset=".3552" stop-color="#b50927"/><stop offset=".3732" stop-color="#b70d28"/><stop offset=".3992" stop-color="#c12b30"/><stop offset=".4192" stop-color="#cf453c"/><stop offset=".4352" stop-color="#dd5f4b"/><stop offset=".4512" stop-color="#eb7d62"/><stop offset=".4612" stop-color="#f39475"/><stop offset=".4752" stop-color="#f7b497"/><stop offset=".4832" stop-color="#f4c5ad"/><stop offset=".4932" stop-color="#e8d6cc"/><stop offset=".4992" stop-color="#e8d6cc"/><stop offset=".4992" stop-color="#d1dae9"/><stop offset=".5052" stop-color="#d1dae9"/><stop offset=".5152" stop-color="#b9d0f9"/><stop offset=".5252" stop-color="#a2c1ff"/><stop offset=".5352" stop-color="#8caffe"/><stop offset=".5472" stop-color="#7699f6"/><stop offset=".5632" stop-color="#6180e9"/><stop offset=".5792" stop-color="#516ddb"/><stop offset=".5992" stop-color="#455cce"/><stop offset=".6152" stop-color="#3f53c6"/><stop offset=".6612" stop-color="#3b4cc0"/><stop offset=".7072" stop-color="#4257c9"/><stop offset=".7492" stop-color="#4f69d9"/><stop offset=".8112" stop-color="#6c8ff1"/><stop offset=".8672" stop-color="#8db0fe"/><stop offset=".9032" stop-color="#a3c2fe"/><stop offset=".9352" stop-color="#b9d0f9"/><stop offset=".9672" stop-color="#ccd9ed"/><stop offset=".9992" stop-color="#dddcdc"/></linearGradient><linearGradient id="b81"><stop offset="0" stop-color="#dddcdc"/><stop offset=".0292" stop-color="#ebd3c6"/><stop offset=".0612" stop-color="#f4c5ad"/><stop offset=".1132" stop-color="#f6a586"/><stop offset=".1672" stop-color="#eb7d62"/><stop offset=".2352" stop-color="#d0473d"/><stop offset=".2772" stop-color="#c0282f"/><stop offset=".2812" stop-color="#c0282f"/><stop offset=".2912" stop-color="#bb1b2c"/><stop offset=".2952" stop-color="#bb1b2c"/><stop offset=".3092" stop-color="#b70d28"/><stop offset=".3292" stop-color="#b50927"/><stop offset=".3312" stop-color="#b40426"/><stop offset=".3492" stop-color="#b40426"/><stop offset=".3512" stop-color="#b50927"/><stop offset=".3612" stop-color="#b50927"/><stop offset=".3692" stop-color="#b8122a"/><stop offset=".3732" stop-color="#b8122a"/><stop offset=".3972" stop-color="#c32e31"/><stop offset=".4212" stop-color="#d44e41"/><stop offset=".4472" stop-color="#ea7b60"/><stop offset=".4632" stop-color="#f59d7e"/><stop offset=".4732" stop-color="#f7b497"/><stop offset=".4832" stop-color="#f3c7b1"/><stop offset=".4932" stop-color="#e8d6cc"/><stop offset=".4992" stop-color="#e8d6cc"/><stop offset=".4992" stop-color="#d1dae9"/><stop offset=".5072" stop-color="#cdd9ec"/><stop offset=".5152" stop-color="#bbd1f8"/><stop offset=".5272" stop-color="#a1c0ff"/><stop offset=".5372" stop-color="#8db0fe"/><stop offset=".5512" stop-color="#7597f6"/><stop offset=".5632" stop-color="#6485ec"/><stop offset=".5832" stop-color="#516ddb"/><stop offset=".6012" stop-color="#465ecf"/><stop offset=".6252" stop-color="#3e51c5"/><stop offset=".6672" stop-color="#3b4cc0"/><stop offset=".7072" stop-color="#4055c8"/><stop offset=".7632" stop-color="#536edd"/><stop offset=".8172" stop-color="#6e90f2"/><stop offset=".8672" stop-color="#8caffe"/><stop offset=".9072" stop-color="#a5c3fe"/><stop offset=".9352" stop-color="#b7cff9"/><stop offset=".9672" stop-color="#cbd8ee"/><stop offset=".9992" stop-color="#dcdddd"/></linearGradient><linearGradient id="b82"><stop offset="0" stop-color="#dddcdc"/><stop offset=".0292" stop-color="#ebd3c6"/><stop offset=".0612" stop-color="#f4c5ad"/><stop offset=".1112" stop-color="#f6a586"/><stop offset=".1572" stop-color="#ed8366"/><stop offset=".2252" stop-color="#d24b40"/><stop offset=".2752" stop-color="#c0282f"/><stop offset=".2772" stop-color="#be242e"/><stop offset=".2812" stop-color="#be242e"/><stop offset=".2872" stop-color="#bb1b2c"/><stop offset=".2912" stop-color="#bb1b2c"/><stop offset=".3052" stop-color="#b70d28"/><stop offset=".3232" stop-color="#b50927"/><stop offset=".3272" stop-color="#b40426"/><stop offset=".3452" stop-color="#b40426"/><stop offset=".3472" stop-color="#b50927"/><stop offset=".3572" stop-color="#b50927"/><stop offset=".3652" stop-color="#b8122a"/><stop offset=".3692" stop-color="#b8122a"/><stop offset=".3812" stop-color="#bd1f2d"/><stop offset=".3852" stop-color="#c0282f"/><stop offset=".3952" stop-color="#c43032"/><stop offset=".4112" stop-color="#cf453c"/><stop offset=".4292" stop-color="#de614d"/><stop offset=".4452" stop-color="#eb7d62"/><stop offset=".4572" stop-color="#f39778"/><stop offset=".4712" stop-color="#f7b396"/><stop offset=".4852" stop-color="#f1ccb8"/><stop offset=".4932" stop-color="#e7d7ce"/><stop offset=".4992" stop-color="#e7d7ce"/><stop offset=".4992" stop-color="#d2dbe8"/><stop offset=".5052" stop-color="#d2dbe8"/><stop offset=".5132" stop-color="#c1d4f4"/><stop offset=".5272" stop-color="#a5c3fe"/><stop offset=".5392" stop-color="#8db0fe"/><stop offset=".5532" stop-color="#7699f6"/><stop offset=".5692" stop-color="#6282ea"/><stop offset=".5872" stop-color="#516ddb"/><stop offset=".6032" stop-color="#485fd1"/><stop offset=".6292" stop-color="#3e51c5"/><stop offset=".6732" stop-color="#3b4cc0"/><stop offset=".7212" stop-color="#4358cb"/><stop offset=".7612" stop-color="#506bda"/><stop offset=".8252" stop-color="#7093f3"/><stop offset=".8732" stop-color="#8db0fe"/><stop offset=".9052" stop-color="#a3c2fe"/><stop offset=".9372" stop-color="#b9d0f9"/><stop offset=".9692" stop-color="#ccd9ed"/><stop offset=".9992" stop-color="#dddcdc"/></linearGradient><linearGradient id="b83"><stop offset="0" stop-color="#dddcdc"/><stop offset=".0432" stop-color="#f1cdba"/><stop offset=".0912" stop-color="#f7b194"/><stop offset=".1432" stop-color="#f08b6e"/><stop offset=".1972" stop-color="#dd5f4b"/><stop offset=".2492" stop-color="#c73635"/><stop offset=".2712" stop-color="#c0282f"/><stop offset=".2772" stop-color="#bd1f2d"/><stop offset=".2812" stop-color="#bd1f2d"/><stop offset=".2872" stop-color="#ba162b"/><stop offset=".2972" stop-color="#b8122a"/><stop offset=".2992" stop-color="#b70d28"/><stop offset=".3172" stop-color="#b50927"/><stop offset=".3192" stop-color="#b40426"/><stop offset=".3412" stop-color="#b40426"/><stop offset=".3432" stop-color="#b50927"/><stop offset=".3512" stop-color="#b50927"/><stop offset=".3532" stop-color="#b70d28"/><stop offset=".3592" stop-color="#b70d28"/><stop offset=".3652" stop-color="#ba162b"/><stop offset=".3692" stop-color="#ba162b"/><stop offset=".3772" stop-color="#be242e"/><stop offset=".3932" stop-color="#c53334"/><stop offset=".4192" stop-color="#d85646"/><stop offset=".4412" stop-color="#ea7b60"/><stop offset=".4572" stop-color="#f59c7d"/><stop offset=".4692" stop-color="#f7b396"/><stop offset=".4832" stop-color="#f2cbb7"/><stop offset=".4932" stop-color="#e6d7cf"/><stop offset=".4992" stop-color="#e6d7cf"/><stop offset=".4992" stop-color="#d3dbe7"/><stop offset=".5052" stop-color="#d3dbe7"/><stop offset=".5152" stop-color="#c0d4f5"/><stop offset=".5292" stop-color="#a5c3fe"/><stop offset=".5412" stop-color="#8fb1fe"/><stop offset=".5612" stop-color="#6f92f3"/><stop offset=".5932" stop-color="#506bda"/><stop offset=".6292" stop-color="#3f53c6"/><stop offset=".6572" stop-color="#3b4cc0"/><stop offset=".6792" stop-color="#3b4cc0"/><stop offset=".7212" stop-color="#4257c9"/><stop offset=".7772" stop-color="#5572df"/><stop offset=".8352" stop-color="#7597f6"/><stop offset=".8752" stop-color="#8db0fe"/><stop offset=".9072" stop-color="#a3c2fe"/><stop offset=".9392" stop-color="#b9d0f9"/><stop offset=".9672" stop-color="#cbd8ee"/><stop offset=".9992" stop-color="#dcdddd"/></linearGradient><linearGradient id="b84"><stop offset="0" stop-color="#dddcdc"/><stop offset=".0272" stop-color="#ebd3c6"/><stop offset=".0552" stop-color="#f4c6af"/><stop offset=".1072" stop-color="#f6a586"/><stop offset=".1692" stop-color="#e67259"/><stop offset=".2172" stop-color="#d24b40"/><stop offset=".2652" stop-color="#c0282f"/><stop offset=".2672" stop-color="#be242e"/><stop offset=".2712" stop-color="#be242e"/><stop offset=".2772" stop-color="#bb1b2c"/><stop offset=".2812" stop-color="#bb1b2c"/><stop offset=".2952" stop-color="#b70d28"/><stop offset=".3132" stop-color="#b50927"/><stop offset=".3152" stop-color="#b40426"/><stop offset=".3272" stop-color="#b40426"/><stop offset=".3372" stop-color="#b40426"/><stop offset=".3392" stop-color="#b50927"/><stop offset=".3552" stop-color="#b70d28"/><stop offset=".3812" stop-color="#c12b30"/><stop offset=".4112" stop-color="#d55042"/><stop offset=".4272" stop-color="#e26952"/><stop offset=".4392" stop-color="#ec7f63"/><stop offset=".4512" stop-color="#f39475"/><stop offset=".4672" stop-color="#f7b194"/><stop offset=".4792" stop-color="#f4c6af"/><stop offset=".4932" stop-color="#e6d7cf"/><stop offset=".4992" stop-color="#e6d7cf"/><stop offset=".4992" stop-color="#d3dbe7"/><stop offset=".5052" stop-color="#d3dbe7"/><stop offset=".5192" stop-color="#bad0f8"/><stop offset=".5312" stop-color="#a3c2fe"/><stop offset=".5512" stop-color="#82a6fb"/><stop offset=".5712" stop-color="#6788ee"/><stop offset=".5972" stop-color="#506bda"/><stop offset=".6172" stop-color="#455cce"/><stop offset=".6432" stop-color="#3d50c3"/><stop offset=".6832" stop-color="#3b4cc0"/><stop offset=".7312" stop-color="#4358cb"/><stop offset=".7812" stop-color="#5572df"/><stop offset=".8272" stop-color="#6e90f2"/><stop offset=".8772" stop-color="#8db0fe"/><stop offset=".9092" stop-color="#a3c2fe"/><stop offset=".9412" stop-color="#b9d0f9"/><stop offset=".9732" stop-color="#cdd9ec"/><stop offset=".9992" stop-color="#dddcdc"/></linearGradient><linearGradient id="b85"><stop offset="0" stop-color="#dddcdc"/><stop offset=".0412" stop-color="#f1cdba"/><stop offset=".0872" stop-color="#f7b194"/><stop offset=".1352" stop-color="#f18d6f"/><stop offset=".1892" stop-color="#dd5f4b"/><stop offset=".2472" stop-color="#c43032"/><stop offset=".2612" stop-color="#c0282f"/><stop offset=".2672" stop-color="#bd1f2d"/><stop offset=".2712" stop-color="#bd1f2d"/><stop offset=".2772" stop-color="#ba162b"/><stop offset=".2812" stop-color="#ba162b"/><stop offset=".2892" stop-color="#b70d28"/><stop offset=".3072" stop-color="#b50927"/><stop offset=".3092" stop-color="#b40426"/><stop offset=".3332" stop-color="#b40426"/><stop offset=".3352" stop-color="#b50927"/><stop offset=".3432" stop-color="#b50927"/><stop offset=".3512" stop-color="#b8122a"/><stop offset=".3552" stop-color="#b8122a"/><stop offset=".3892" stop-color="#c83836"/><stop offset=".4072" stop-color="#d55042"/><stop offset=".4272" stop-color="#e46e56"/><stop offset=".4412" stop-color="#ee8669"/><stop offset=".4532" stop-color="#f59d7e"/><stop offset=".4712" stop-color="#f7bca1"/><stop offset=".4832" stop-color="#f1cdba"/><stop offset=".4932" stop-color="#e5d8d1"/><stop offset=".4992" stop-color="#e5d8d1"/><stop offset=".4992" stop-color="#d4dbe6"/><stop offset=".5052" stop-color="#d4dbe6"/><stop offset=".5212" stop-color="#b9d0f9"/><stop offset=".5392" stop-color="#9abbff"/><stop offset=".5592" stop-color="#7a9df8"/><stop offset=".5912" stop-color="#5875e1"/><stop offset=".6212" stop-color="#455cce"/><stop offset=".6432" stop-color="#3e51c5"/><stop offset=".6652" stop-color="#3b4cc0"/><stop offset=".6892" stop-color="#3b4cc0"/><stop offset=".7312" stop-color="#4257c9"/><stop offset=".7772" stop-color="#516ddb"/><stop offset=".8352" stop-color="#7093f3"/><stop offset=".8812" stop-color="#8db0fe"/><stop offset=".9332" stop-color="#b2ccfb"/><stop offset=".9592" stop-color="#c5d6f2"/><stop offset=".9992" stop-color="#dcdddd"/></linearGradient><linearGradient id="b86"><stop offset="0" stop-color="#dddcdc"/><stop offset=".0412" stop-color="#f1cdba"/><stop offset=".0852" stop-color="#f7b194"/><stop offset=".1312" stop-color="#f18d6f"/><stop offset=".1832" stop-color="#de614d"/><stop offset=".2232" stop-color="#cc403a"/><stop offset=".2572" stop-color="#c0282f"/><stop offset=".2772" stop-color="#b8122a"/><stop offset=".2832" stop-color="#b8122a"/><stop offset=".2852" stop-color="#b70d28"/><stop offset=".2912" stop-color="#b70d28"/><stop offset=".2932" stop-color="#b50927"/><stop offset=".3012" stop-color="#b50927"/><stop offset=".3032" stop-color="#b40426"/><stop offset=".3292" stop-color="#b40426"/><stop offset=".3312" stop-color="#b50927"/><stop offset=".3392" stop-color="#b50927"/><stop offset=".3472" stop-color="#b8122a"/><stop offset=".3512" stop-color="#b8122a"/><stop offset=".3632" stop-color="#bd1f2d"/><stop offset=".3672" stop-color="#c0282f"/><stop offset=".3752" stop-color="#c32e31"/><stop offset=".4032" stop-color="#d55042"/><stop offset=".4252" stop-color="#e57058"/><stop offset=".4492" stop-color="#f49a7b"/><stop offset=".4692" stop-color="#f7ba9f"/><stop offset=".4812" stop-color="#f1ccb8"/><stop offset=".4932" stop-color="#e5d8d1"/><stop offset=".4992" stop-color="#e5d8d1"/><stop offset=".4992" stop-color="#d4dbe6"/><stop offset=".5052" stop-color="#d4dbe6"/><stop offset=".5232" stop-color="#b7cff9"/><stop offset=".5412" stop-color="#9abbff"/><stop offset=".5632" stop-color="#799cf8"/><stop offset=".5952" stop-color="#5875e1"/><stop offset=".6232" stop-color="#465ecf"/><stop offset=".6472" stop-color="#3e51c5"/><stop offset=".6692" stop-color="#3b4cc0"/><stop offset=".6952" stop-color="#3b4cc0"/><stop offset=".7312" stop-color="#4055c8"/><stop offset=".7812" stop-color="#516ddb"/><stop offset=".8492" stop-color="#779af7"/><stop offset=".8832" stop-color="#8db0fe"/><stop offset=".9132" stop-color="#a3c2fe"/><stop offset=".9432" stop-color="#b9d0f9"/><stop offset=".9692" stop-color="#cbd8ee"/><stop offset=".9992" stop-color="#dcdddd"/></linearGradient><linearGradient id="b87"><stop offset="0" stop-color="#dddcdc"/><stop offset=".0272" stop-color="#ecd3c5"/><stop offset=".0552" stop-color="#f5c4ac"/><stop offset=".0992" stop-color="#f6a586"/><stop offset=".1452" stop-color="#ec7f63"/><stop offset=".1992" stop-color="#d55042"/><stop offset=".2512" stop-color="#c0282f"/><stop offset=".2672" stop-color="#ba162b"/><stop offset=".2772" stop-color="#b8122a"/><stop offset=".2792" stop-color="#b70d28"/><stop offset=".2852" stop-color="#b70d28"/><stop offset=".2872" stop-color="#b50927"/><stop offset=".2952" stop-color="#b50927"/><stop offset=".2972" stop-color="#b40426"/><stop offset=".3232" stop-color="#b40426"/><stop offset=".3252" stop-color="#b50927"/><stop offset=".3412" stop-color="#b70d28"/><stop offset=".3472" stop-color="#ba162b"/><stop offset=".3552" stop-color="#bb1b2c"/><stop offset=".3632" stop-color="#c0282f"/><stop offset=".3732" stop-color="#c43032"/><stop offset=".3992" stop-color="#d55042"/><stop offset=".4312" stop-color="#ec7f63"/><stop offset=".4612" stop-color="#f7b194"/><stop offset=".4772" stop-color="#f3c8b2"/><stop offset=".4932" stop-color="#e4d9d2"/><stop offset=".4992" stop-color="#e4d9d2"/><stop offset=".4992" stop-color="#d5dbe5"/><stop offset=".5052" stop-color="#d5dbe5"/><stop offset=".5172" stop-color="#c3d5f4"/><stop offset=".5332" stop-color="#a9c6fd"/><stop offset=".5592" stop-color="#82a6fb"/><stop offset=".5792" stop-color="#6a8bef"/><stop offset=".5992" stop-color="#5875e1"/><stop offset=".6252" stop-color="#485fd1"/><stop offset=".6472" stop-color="#3f53c6"/><stop offset=".6752" stop-color="#3b4cc0"/><stop offset=".7012" stop-color="#3b4cc0"/><stop offset=".7412" stop-color="#4257c9"/><stop offset=".7912" stop-color="#5470de"/><stop offset=".8352" stop-color="#6c8ff1"/><stop offset=".8852" stop-color="#8db0fe"/><stop offset=".9152" stop-color="#a3c2fe"/><stop offset=".9432" stop-color="#b7cff9"/><stop offset=".9712" stop-color="#cbd8ee"/><stop offset=".9992" stop-color="#dddcdc"/></linearGradient><linearGradient id="b88"><stop offset="0" stop-color="#dddcdc"/><stop offset=".0392" stop-color="#f1cdba"/><stop offset=".0812" stop-color="#f7b194"/><stop offset=".1172" stop-color="#f39577"/><stop offset=".1732" stop-color="#df634e"/><stop offset=".2112" stop-color="#cd423b"/><stop offset=".2472" stop-color="#c0282f"/><stop offset=".2672" stop-color="#b8122a"/><stop offset=".2732" stop-color="#b8122a"/><stop offset=".2812" stop-color="#b50927"/><stop offset=".2912" stop-color="#b50927"/><stop offset=".2932" stop-color="#b40426"/><stop offset=".3192" stop-color="#b40426"/><stop offset=".3212" stop-color="#b50927"/><stop offset=".3292" stop-color="#b50927"/><stop offset=".3372" stop-color="#b8122a"/><stop offset=".3412" stop-color="#b8122a"/><stop offset=".3612" stop-color="#c12b30"/><stop offset=".3692" stop-color="#c43032"/><stop offset=".3972" stop-color="#d65244"/><stop offset=".4172" stop-color="#e46e56"/><stop offset=".4432" stop-color="#f4987a"/><stop offset=".4652" stop-color="#f7b99e"/><stop offset=".4772" stop-color="#f2c9b4"/><stop offset=".4912" stop-color="#e6d7cf"/><stop offset=".4992" stop-color="#e4d9d2"/><stop offset=".4992" stop-color="#d5dbe5"/><stop offset=".5072" stop-color="#d3dbe7"/><stop offset=".5272" stop-color="#b5cdfa"/><stop offset=".5472" stop-color="#97b8ff"/><stop offset=".5692" stop-color="#799cf8"/><stop offset=".6012" stop-color="#5977e3"/><stop offset=".6292" stop-color="#485fd1"/><stop offset=".6572" stop-color="#3e51c5"/><stop offset=".6792" stop-color="#3b4cc0"/><stop offset=".7052" stop-color="#3b4cc0"/><stop offset=".7412" stop-color="#4055c8"/><stop offset=".7872" stop-color="#506bda"/><stop offset=".8472" stop-color="#7295f4"/><stop offset=".8872" stop-color="#8db0fe"/><stop offset=".9392" stop-color="#b3cdfb"/><stop offset=".9652" stop-color="#c7d7f0"/><stop offset=".9992" stop-color="#dcdddd"/></linearGradient><linearGradient id="b89"><stop offset="0" stop-color="#dddcdc"/><stop offset=".0392" stop-color="#f1ccb8"/><stop offset=".0792" stop-color="#f7b194"/><stop offset=".1232" stop-color="#f18d6f"/><stop offset=".1812" stop-color="#d95847"/><stop offset=".2252" stop-color="#c53334"/><stop offset=".2352" stop-color="#c32e31"/><stop offset=".2432" stop-color="#be242e"/><stop offset=".2472" stop-color="#be242e"/><stop offset=".2572" stop-color="#ba162b"/><stop offset=".2672" stop-color="#b8122a"/><stop offset=".2692" stop-color="#b70d28"/><stop offset=".2852" stop-color="#b50927"/><stop offset=".2872" stop-color="#b40426"/><stop offset=".3152" stop-color="#b40426"/><stop offset=".3172" stop-color="#b50927"/><stop offset=".3252" stop-color="#b50927"/><stop offset=".3332" stop-color="#b8122a"/><stop offset=".3372" stop-color="#b8122a"/><stop offset=".3572" stop-color="#c12b30"/><stop offset=".3672" stop-color="#c53334"/><stop offset=".3932" stop-color="#d65244"/><stop offset=".4152" stop-color="#e57058"/><stop offset=".4432" stop-color="#f59c7d"/><stop offset=".4652" stop-color="#f7bca1"/><stop offset=".4792" stop-color="#f1cdba"/><stop offset=".4932" stop-color="#e4d9d2"/><stop offset=".4992" stop-color="#e4d9d2"/><stop offset=".4992" stop-color="#d5dbe5"/><stop offset=".5052" stop-color="#d5dbe5"/><stop offset=".5092" stop-color="#d1dae9"/><stop offset=".5292" stop-color="#b3cdfb"/><stop offset=".5492" stop-color="#97b8ff"/><stop offset=".5652" stop-color="#82a6fb"/><stop offset=".5832" stop-color="#6c8ff1"/><stop offset=".6052" stop-color="#5977e3"/><stop offset=".6312" stop-color="#4961d2"/><stop offset=".6612" stop-color="#3e51c5"/><stop offset=".6832" stop-color="#3b4cc0"/><stop offset=".7112" stop-color="#3b4cc0"/><stop offset=".7552" stop-color="#4358cb"/><stop offset=".8072" stop-color="#5875e1"/><stop offset=".8592" stop-color="#779af7"/><stop offset=".8932" stop-color="#90b2fe"/><stop offset=".9192" stop-color="#a3c2fe"/><stop offset=".9472" stop-color="#b9d0f9"/><stop offset=".9712" stop-color="#cbd8ee"/><stop offset=".9992" stop-color="#dcdddd"/></linearGradient><linearGradient id="b90"><stop offset="0" stop-color="#dddcdc"/><stop offset=".0352" stop-color="#f0cdbb"/><stop offset=".0792" stop-color="#f7b093"/><stop offset=".1212" stop-color="#f18d6f"/><stop offset=".1772" stop-color="#d95847"/><stop offset=".2272" stop-color="#c32e31"/><stop offset=".2372" stop-color="#c0282f"/><stop offset=".2472" stop-color="#bb1b2c"/><stop offset=".2512" stop-color="#bb1b2c"/><stop offset=".2632" stop-color="#b70d28"/><stop offset=".2792" stop-color="#b50927"/><stop offset=".2812" stop-color="#b40426"/><stop offset=".3112" stop-color="#b40426"/><stop offset=".3132" stop-color="#b50927"/><stop offset=".3272" stop-color="#b70d28"/><stop offset=".3332" stop-color="#ba162b"/><stop offset=".3372" stop-color="#ba162b"/><stop offset=".3452" stop-color="#bd1f2d"/><stop offset=".3492" stop-color="#c0282f"/><stop offset=".3652" stop-color="#c73635"/><stop offset=".3912" stop-color="#d75445"/><stop offset=".4092" stop-color="#e36c55"/><stop offset=".4372" stop-color="#f39778"/><stop offset=".4632" stop-color="#f7ba9f"/><stop offset=".4792" stop-color="#f0cdbb"/><stop offset=".4932" stop-color="#e3d9d3"/><stop offset=".4992" stop-color="#e3d9d3"/><stop offset=".4992" stop-color="#d6dce4"/><stop offset=".5052" stop-color="#d6dce4"/><stop offset=".5212" stop-color="#c1d4f4"/><stop offset=".5352" stop-color="#adc9fd"/><stop offset=".5492" stop-color="#9abbff"/><stop offset=".5772" stop-color="#779af7"/><stop offset=".6072" stop-color="#5a78e4"/><stop offset=".6332" stop-color="#4a63d3"/><stop offset=".6612" stop-color="#3f53c6"/><stop offset=".6872" stop-color="#3b4cc0"/><stop offset=".7172" stop-color="#3b4cc0"/><stop offset=".7512" stop-color="#4055c8"/><stop offset=".8012" stop-color="#536edd"/><stop offset=".8392" stop-color="#688aef"/><stop offset=".8932" stop-color="#8db0fe"/><stop offset=".9212" stop-color="#a3c2fe"/><stop offset=".9452" stop-color="#b6cefa"/><stop offset=".9732" stop-color="#cbd8ee"/><stop offset=".9992" stop-color="#dcdddd"/></linearGradient><linearGradient id="b91"><stop offset="0" stop-color="#dddcdc"/><stop offset=".0392" stop-color="#f2cbb7"/><stop offset=".0752" stop-color="#f7b194"/><stop offset=".1192" stop-color="#f08b6e"/><stop offset=".1712" stop-color="#da5a49"/><stop offset=".2192" stop-color="#c43032"/><stop offset=".2332" stop-color="#c0282f"/><stop offset=".2472" stop-color="#ba162b"/><stop offset=".2572" stop-color="#b8122a"/><stop offset=".2592" stop-color="#b70d28"/><stop offset=".2652" stop-color="#b70d28"/><stop offset=".2672" stop-color="#b50927"/><stop offset=".2732" stop-color="#b50927"/><stop offset=".2752" stop-color="#b40426"/><stop offset=".3072" stop-color="#b40426"/><stop offset=".3092" stop-color="#b50927"/><stop offset=".3152" stop-color="#b50927"/><stop offset=".3232" stop-color="#b8122a"/><stop offset=".3272" stop-color="#b8122a"/><stop offset=".3452" stop-color="#c0282f"/><stop offset=".3612" stop-color="#c73635"/><stop offset=".3872" stop-color="#d75445"/><stop offset=".4072" stop-color="#e46e56"/><stop offset=".4372" stop-color="#f49a7b"/><stop offset=".4612" stop-color="#f7ba9f"/><stop offset=".4772" stop-color="#f1cdba"/><stop offset=".4932" stop-color="#e3d9d3"/><stop offset=".4992" stop-color="#e3d9d3"/><stop offset=".4992" stop-color="#d6dce4"/><stop offset=".5052" stop-color="#d6dce4"/><stop offset=".5232" stop-color="#c0d4f5"/><stop offset=".5372" stop-color="#adc9fd"/><stop offset=".5512" stop-color="#9abbff"/><stop offset=".5792" stop-color="#799cf8"/><stop offset=".6112" stop-color="#5a78e4"/><stop offset=".6372" stop-color="#4a63d3"/><stop offset=".6712" stop-color="#3e51c5"/><stop offset=".6912" stop-color="#3b4cc0"/><stop offset=".7232" stop-color="#3b4cc0"/><stop offset=".7792" stop-color="#485fd1"/><stop offset=".8132" stop-color="#5673e0"/><stop offset=".8492" stop-color="#6c8ff1"/><stop offset=".8952" stop-color="#8db0fe"/><stop offset=".9232" stop-color="#a3c2fe"/><stop offset=".9492" stop-color="#b9d0f9"/><stop offset=".9752" stop-color="#ccd9ed"/><stop offset=".9992" stop-color="#dcdddd"/></linearGradient><linearGradient id="b92"><stop offset="0" stop-color="#dddcdc"/><stop offset=".0332" stop-color="#f0cdbb"/><stop offset=".0732" stop-color="#f7b194"/><stop offset=".1172" stop-color="#f08b6e"/><stop offset=".1672" stop-color="#da5a49"/><stop offset=".2052" stop-color="#c83836"/><stop offset=".2272" stop-color="#c0282f"/><stop offset=".2372" stop-color="#bb1b2c"/><stop offset=".2412" stop-color="#bb1b2c"/><stop offset=".2532" stop-color="#b70d28"/><stop offset=".2692" stop-color="#b50927"/><stop offset=".2712" stop-color="#b40426"/><stop offset=".3012" stop-color="#b40426"/><stop offset=".3032" stop-color="#b50927"/><stop offset=".3112" stop-color="#b50927"/><stop offset=".3192" stop-color="#b8122a"/><stop offset=".3232" stop-color="#b8122a"/><stop offset=".3432" stop-color="#c12b30"/><stop offset=".3592" stop-color="#c83836"/><stop offset=".3852" stop-color="#d85646"/><stop offset=".4052" stop-color="#e57058"/><stop offset=".4332" stop-color="#f4987a"/><stop offset=".4592" stop-color="#f7ba9f"/><stop offset=".4712" stop-color="#f3c7b1"/><stop offset=".4932" stop-color="#e3d9d3"/><stop offset=".4992" stop-color="#e3d9d3"/><stop offset=".4992" stop-color="#d6dce4"/><stop offset=".5052" stop-color="#d6dce4"/><stop offset=".5232" stop-color="#c1d4f4"/><stop offset=".5352" stop-color="#b1cbfc"/><stop offset=".5532" stop-color="#9abbff"/><stop offset=".5832" stop-color="#779af7"/><stop offset=".6132" stop-color="#5b7ae5"/><stop offset=".6392" stop-color="#4b64d5"/><stop offset=".6752" stop-color="#3e51c5"/><stop offset=".6972" stop-color="#3b4cc0"/><stop offset=".7272" stop-color="#3b4cc0"/><stop offset=".7612" stop-color="#4055c8"/><stop offset=".8072" stop-color="#516ddb"/><stop offset=".8532" stop-color="#6c8ff1"/><stop offset=".8972" stop-color="#8db0fe"/><stop offset=".9252" stop-color="#a3c2fe"/><stop offset=".9492" stop-color="#b7cff9"/><stop offset=".9732" stop-color="#cbd8ee"/><stop offset=".9992" stop-color="#dcdddd"/></linearGradient><linearGradient id="b93"><stop offset="0" stop-color="#dddcdc"/><stop offset=".0372" stop-color="#f2cbb7"/><stop offset=".0712" stop-color="#f7b194"/><stop offset=".1092" stop-color="#f29072"/><stop offset=".1612" stop-color="#dc5d4a"/><stop offset=".2132" stop-color="#c32e31"/><stop offset=".2232" stop-color="#c0282f"/><stop offset=".2372" stop-color="#ba162b"/><stop offset=".2472" stop-color="#b8122a"/><stop offset=".2552" stop-color="#b50927"/><stop offset=".2632" stop-color="#b50927"/><stop offset=".2652" stop-color="#b40426"/><stop offset=".2972" stop-color="#b40426"/><stop offset=".2992" stop-color="#b50927"/><stop offset=".3072" stop-color="#b50927"/><stop offset=".3092" stop-color="#b70d28"/><stop offset=".3192" stop-color="#b8122a"/><stop offset=".3392" stop-color="#c12b30"/><stop offset=".3572" stop-color="#ca3b37"/><stop offset=".3812" stop-color="#d85646"/><stop offset=".4032" stop-color="#e67259"/><stop offset=".4332" stop-color="#f59c7d"/><stop offset=".4592" stop-color="#f7bca1"/><stop offset=".4772" stop-color="#f0cdbb"/><stop offset=".4932" stop-color="#e3d9d3"/><stop offset=".4992" stop-color="#e3d9d3"/><stop offset=".4992" stop-color="#d6dce4"/><stop offset=".5052" stop-color="#d6dce4"/><stop offset=".5232" stop-color="#c3d5f4"/><stop offset=".5392" stop-color="#aec9fc"/><stop offset=".5572" stop-color="#98b9ff"/><stop offset=".5852" stop-color="#799cf8"/><stop offset=".6172" stop-color="#5b7ae5"/><stop offset=".6512" stop-color="#485fd1"/><stop offset=".6792" stop-color="#3e51c5"/><stop offset=".7012" stop-color="#3b4cc0"/><stop offset=".7332" stop-color="#3b4cc0"/><stop offset=".7852" stop-color="#465ecf"/><stop offset=".8212" stop-color="#5673e0"/><stop offset=".8732" stop-color="#799cf8"/><stop offset=".9012" stop-color="#8fb1fe"/><stop offset=".9272" stop-color="#a3c2fe"/><stop offset=".9492" stop-color="#b6cefa"/><stop offset=".9752" stop-color="#ccd9ed"/><stop offset=".9992" stop-color="#dcdddd"/></linearGradient><linearGradient id="b94"><stop offset="0" stop-color="#dddcdc"/><stop offset=".0332" stop-color="#f1cdba"/><stop offset=".0712" stop-color="#f7b093"/><stop offset=".1132" stop-color="#f08a6c"/><stop offset=".1572" stop-color="#dc5d4a"/><stop offset=".1992" stop-color="#c73635"/><stop offset=".2152" stop-color="#c12b30"/><stop offset=".2232" stop-color="#bd1f2d"/><stop offset=".2272" stop-color="#bd1f2d"/><stop offset=".2432" stop-color="#b70d28"/><stop offset=".2492" stop-color="#b70d28"/><stop offset=".2512" stop-color="#b50927"/><stop offset=".2572" stop-color="#b50927"/><stop offset=".2592" stop-color="#b40426"/><stop offset=".2932" stop-color="#b40426"/><stop offset=".2952" stop-color="#b50927"/><stop offset=".3012" stop-color="#b50927"/><stop offset=".3032" stop-color="#b70d28"/><stop offset=".3092" stop-color="#b70d28"/><stop offset=".3152" stop-color="#ba162b"/><stop offset=".3192" stop-color="#ba162b"/><stop offset=".3272" stop-color="#bd1f2d"/><stop offset=".3312" stop-color="#c0282f"/><stop offset=".3452" stop-color="#c53334"/><stop offset=".3892" stop-color="#e0654f"/><stop offset=".4212" stop-color="#f18f71"/><stop offset=".4492" stop-color="#f7b194"/><stop offset=".4732" stop-color="#f2cbb7"/><stop offset=".4932" stop-color="#e2dad5"/><stop offset=".4992" stop-color="#e2dad5"/><stop offset=".4992" stop-color="#d7dce3"/><stop offset=".5052" stop-color="#d7dce3"/><stop offset=".5272" stop-color="#bfd3f6"/><stop offset=".5392" stop-color="#afcafc"/><stop offset=".5592" stop-color="#98b9ff"/><stop offset=".5892" stop-color="#779af7"/><stop offset=".6192" stop-color="#5d7ce6"/><stop offset=".6532" stop-color="#4961d2"/><stop offset=".6792" stop-color="#3f53c6"/><stop offset=".7052" stop-color="#3b4cc0"/><stop offset=".7392" stop-color="#3b4cc0"/><stop offset=".7792" stop-color="#4358cb"/><stop offset=".8252" stop-color="#5673e0"/><stop offset=".8652" stop-color="#7093f3"/><stop offset=".9032" stop-color="#8db0fe"/><stop offset=".9272" stop-color="#a2c1ff"/><stop offset=".9532" stop-color="#b9d0f9"/><stop offset=".9772" stop-color="#ccd9ed"/><stop offset=".9992" stop-color="#dcdddd"/></linearGradient><linearGradient id="b95"><stop offset="0" stop-color="#dddcdc"/><stop offset=".0352" stop-color="#f2cbb7"/><stop offset=".0692" stop-color="#f7b093"/><stop offset=".1052" stop-color="#f18f71"/><stop offset=".1192" stop-color="#ec7f63"/><stop offset=".1672" stop-color="#d55042"/><stop offset=".2072" stop-color="#c12b30"/><stop offset=".2132" stop-color="#c0282f"/><stop offset=".2272" stop-color="#ba162b"/><stop offset=".2372" stop-color="#b8122a"/><stop offset=".2452" stop-color="#b50927"/><stop offset=".2532" stop-color="#b50927"/><stop offset=".2552" stop-color="#b40426"/><stop offset=".2892" stop-color="#b40426"/><stop offset=".2912" stop-color="#b50927"/><stop offset=".2972" stop-color="#b50927"/><stop offset=".3052" stop-color="#b8122a"/><stop offset=".3092" stop-color="#b8122a"/><stop offset=".3272" stop-color="#c0282f"/><stop offset=".3412" stop-color="#c53334"/><stop offset=".3772" stop-color="#da5a49"/><stop offset=".3952" stop-color="#e57058"/><stop offset=".4272" stop-color="#f49a7b"/><stop offset=".4552" stop-color="#f7ba9f"/><stop offset=".4732" stop-color="#f1ccb8"/><stop offset=".4932" stop-color="#e2dad5"/><stop offset=".4992" stop-color="#e2dad5"/><stop offset=".4992" stop-color="#d7dce3"/><stop offset=".5052" stop-color="#d7dce3"/><stop offset=".5272" stop-color="#c0d4f5"/><stop offset=".5432" stop-color="#adc9fd"/><stop offset=".5612" stop-color="#98b9ff"/><stop offset=".5972" stop-color="#7295f4"/><stop offset=".6312" stop-color="#5875e1"/><stop offset=".6572" stop-color="#4961d2"/><stop offset=".6892" stop-color="#3e51c5"/><stop offset=".7092" stop-color="#3b4cc0"/><stop offset=".7432" stop-color="#3b4cc0"/><stop offset=".7912" stop-color="#455cce"/><stop offset=".8272" stop-color="#5572df"/><stop offset=".8632" stop-color="#6c8ff1"/><stop offset=".9052" stop-color="#8db0fe"/><stop offset=".9292" stop-color="#a2c1ff"/><stop offset=".9532" stop-color="#b7cff9"/><stop offset=".9752" stop-color="#cbd8ee"/><stop offset=".9992" stop-color="#dcdddd"/></linearGradient><linearGradient id="b96"><stop offset="0" stop-color="#dddcdc"/><stop offset=".0312" stop-color="#f1cdba"/><stop offset=".0712" stop-color="#f7ad90"/><stop offset=".0912" stop-color="#f49a7b"/><stop offset=".1232" stop-color="#e9785d"/><stop offset=".1632" stop-color="#d55042"/><stop offset=".1992" stop-color="#c32e31"/><stop offset=".2092" stop-color="#c0282f"/><stop offset=".2332" stop-color="#b70d28"/><stop offset=".2392" stop-color="#b70d28"/><stop offset=".2412" stop-color="#b50927"/><stop offset=".2472" stop-color="#b50927"/><stop offset=".2492" stop-color="#b40426"/><stop offset=".2832" stop-color="#b40426"/><stop offset=".2852" stop-color="#b50927"/><stop offset=".2932" stop-color="#b50927"/><stop offset=".3012" stop-color="#b8122a"/><stop offset=".3052" stop-color="#b8122a"/><stop offset=".3252" stop-color="#c12b30"/><stop offset=".3312" stop-color="#c32e31"/><stop offset=".3492" stop-color="#cc403a"/><stop offset=".3872" stop-color="#e36b54"/><stop offset=".4232" stop-color="#f4987a"/><stop offset=".4532" stop-color="#f7ba9f"/><stop offset=".4732" stop-color="#f1cdba"/><stop offset=".4932" stop-color="#e2dad5"/><stop offset=".4992" stop-color="#e2dad5"/><stop offset=".4992" stop-color="#d7dce3"/><stop offset=".5052" stop-color="#d7dce3"/><stop offset=".5292" stop-color="#bfd3f6"/><stop offset=".5452" stop-color="#adc9fd"/><stop offset=".5632" stop-color="#98b9ff"/><stop offset=".5972" stop-color="#7699f6"/><stop offset=".6352" stop-color="#5875e1"/><stop offset=".6672" stop-color="#465ecf"/><stop offset=".6932" stop-color="#3e51c5"/><stop offset=".7152" stop-color="#3b4cc0"/><stop offset=".7492" stop-color="#3b4cc0"/><stop offset=".7992" stop-color="#465ecf"/><stop offset=".8312" stop-color="#5572df"/><stop offset=".8772" stop-color="#7597f6"/><stop offset=".9072" stop-color="#8db0fe"/><stop offset=".9312" stop-color="#a2c1ff"/><stop offset=".9572" stop-color="#bad0f8"/><stop offset=".9772" stop-color="#ccd9ed"/><stop offset=".9992" stop-color="#dcdddd"/></linearGradient><linearGradient id="b97"><stop offset="0" stop-color="#dddcdc"/><stop offset=".0332" stop-color="#f2cbb7"/><stop offset=".0692" stop-color="#f7ad90"/><stop offset=".1112" stop-color="#ec8165"/><stop offset=".1592" stop-color="#d55042"/><stop offset=".2012" stop-color="#c0282f"/><stop offset=".2172" stop-color="#ba162b"/><stop offset=".2272" stop-color="#b8122a"/><stop offset=".2352" stop-color="#b50927"/><stop offset=".2412" stop-color="#b50927"/><stop offset=".2432" stop-color="#b40426"/><stop offset=".2792" stop-color="#b40426"/><stop offset=".2812" stop-color="#b50927"/><stop offset=".2872" stop-color="#b50927"/><stop offset=".2892" stop-color="#b70d28"/><stop offset=".2952" stop-color="#b70d28"/><stop offset=".3012" stop-color="#ba162b"/><stop offset=".3052" stop-color="#ba162b"/><stop offset=".3132" stop-color="#bd1f2d"/><stop offset=".3172" stop-color="#c0282f"/><stop offset=".3352" stop-color="#c73635"/><stop offset=".3852" stop-color="#e36c55"/><stop offset=".4212" stop-color="#f4987a"/><stop offset=".4512" stop-color="#f7b99e"/><stop offset=".4712" stop-color="#f1ccb8"/><stop offset=".4912" stop-color="#e3d9d3"/><stop offset=".4992" stop-color="#e2dad5"/><stop offset=".4992" stop-color="#d7dce3"/><stop offset=".5072" stop-color="#d6dce4"/><stop offset=".5292" stop-color="#c0d4f5"/><stop offset=".5472" stop-color="#abc8fd"/><stop offset=".5652" stop-color="#98b9ff"/><stop offset=".5972" stop-color="#799cf8"/><stop offset=".6232" stop-color="#6282ea"/><stop offset=".6512" stop-color="#506bda"/><stop offset=".6752" stop-color="#455cce"/><stop offset=".7032" stop-color="#3d50c3"/><stop offset=".7552" stop-color="#3b4cc0"/><stop offset=".7972" stop-color="#445acc"/><stop offset=".8332" stop-color="#5470de"/><stop offset=".8752" stop-color="#6f92f3"/><stop offset=".9112" stop-color="#8fb1fe"/><stop offset=".9332" stop-color="#a2c1ff"/><stop offset=".9572" stop-color="#b9d0f9"/><stop offset=".9792" stop-color="#cdd9ec"/><stop offset=".9992" stop-color="#dcdddd"/></linearGradient><linearGradient id="b98"><stop offset="0" stop-color="#dddcdc"/><stop offset=".0312" stop-color="#f1ccb8"/><stop offset=".0592" stop-color="#f7b497"/><stop offset=".0892" stop-color="#f39778"/><stop offset=".1252" stop-color="#e46e56"/><stop offset=".1812" stop-color="#c73635"/><stop offset=".1992" stop-color="#c0282f"/><stop offset=".2172" stop-color="#b8122a"/><stop offset=".2212" stop-color="#b8122a"/><stop offset=".2292" stop-color="#b50927"/><stop offset=".2372" stop-color="#b50927"/><stop offset=".2392" stop-color="#b40426"/><stop offset=".2752" stop-color="#b40426"/><stop offset=".2772" stop-color="#b50927"/><stop offset=".2832" stop-color="#b50927"/><stop offset=".2852" stop-color="#b70d28"/><stop offset=".2952" stop-color="#b8122a"/><stop offset=".3132" stop-color="#c0282f"/><stop offset=".3252" stop-color="#c43032"/><stop offset=".3732" stop-color="#df634e"/><stop offset=".4112" stop-color="#f29072"/><stop offset=".4432" stop-color="#f7b396"/><stop offset=".4692" stop-color="#f2cbb7"/><stop offset=".4912" stop-color="#e3d9d3"/><stop offset=".4992" stop-color="#e2dad5"/><stop offset=".4992" stop-color="#d7dce3"/><stop offset=".5072" stop-color="#d6dce4"/><stop offset=".5312" stop-color="#bfd3f6"/><stop offset=".5492" stop-color="#abc8fd"/><stop offset=".5692" stop-color="#97b8ff"/><stop offset=".5912" stop-color="#81a4fb"/><stop offset=".6132" stop-color="#6c8ff1"/><stop offset=".6552" stop-color="#506bda"/><stop offset=".7032" stop-color="#3e51c5"/><stop offset=".7232" stop-color="#3b4cc0"/><stop offset=".7592" stop-color="#3b4cc0"/><stop offset=".8052" stop-color="#455cce"/><stop offset=".8352" stop-color="#536edd"/><stop offset=".8732" stop-color="#6b8df0"/><stop offset=".9152" stop-color="#90b2fe"/><stop offset=".9392" stop-color="#a6c4fe"/><stop offset=".9592" stop-color="#bad0f8"/><stop offset=".9792" stop-color="#ccd9ed"/><stop offset=".9992" stop-color="#dddcdc"/></linearGradient><linearGradient id="b99"><stop offset="0" stop-color="#dddcdc"/><stop offset=".0272" stop-color="#f0cdbb"/><stop offset=".0612" stop-color="#f7b194"/><stop offset=".0972" stop-color="#f08b6e"/><stop offset=".1352" stop-color="#de614d"/><stop offset=".1792" stop-color="#c53334"/><stop offset=".1912" stop-color="#c12b30"/><stop offset=".2072" stop-color="#ba162b"/><stop offset=".2172" stop-color="#b8122a"/><stop offset=".2252" stop-color="#b50927"/><stop offset=".2312" stop-color="#b50927"/><stop offset=".2332" stop-color="#b40426"/><stop offset=".2712" stop-color="#b40426"/><stop offset=".2732" stop-color="#b50927"/><stop offset=".2792" stop-color="#b50927"/><stop offset=".2872" stop-color="#b8122a"/><stop offset=".2912" stop-color="#b8122a"/><stop offset=".3092" stop-color="#c0282f"/><stop offset=".3412" stop-color="#cf453c"/><stop offset=".3852" stop-color="#e7745b"/><stop offset=".4272" stop-color="#f6a586"/><stop offset=".4492" stop-color="#f7ba9f"/><stop offset=".4692" stop-color="#f1ccb8"/><stop offset=".4932" stop-color="#e1dad6"/><stop offset=".4992" stop-color="#e1dad6"/><stop offset=".4992" stop-color="#d8dce2"/><stop offset=".5052" stop-color="#d8dce2"/><stop offset=".5312" stop-color="#c0d4f5"/><stop offset=".5492" stop-color="#adc9fd"/><stop offset=".5692" stop-color="#98b9ff"/><stop offset=".6032" stop-color="#799cf8"/><stop offset=".6252" stop-color="#6687ed"/><stop offset=".6572" stop-color="#516ddb"/><stop offset=".7072" stop-color="#3e51c5"/><stop offset=".7272" stop-color="#3b4cc0"/><stop offset=".7652" stop-color="#3b4cc0"/><stop offset=".8032" stop-color="#4358cb"/><stop offset=".8372" stop-color="#516ddb"/><stop offset=".8732" stop-color="#688aef"/><stop offset=".9152" stop-color="#8db0fe"/><stop offset=".9372" stop-color="#a3c2fe"/><stop offset=".9592" stop-color="#b9d0f9"/><stop offset=".9792" stop-color="#ccd9ed"/><stop offset=".9992" stop-color="#dcdddd"/></linearGradient><linearGradient id="c1" x1="0" y1="0" x2="0" y2="1"><stop offset="0.0000" stop-color="#b40426"/><stop offset="0.0156" stop-color="#b8122a"/><stop offset="0.0312" stop-color="#be242e"/><stop offset="0.0469" stop-color="#c43032"/><stop offset="0.0625" stop-color="#ca3b37"/><stop offset="0.0781" stop-color="#cf453c"/><stop offset="0.0938" stop-color="#d44e41"/><stop offset="0.1094" stop-color="#d85646"/><stop offset="0.1250" stop-color="#dd5f4b"/><stop offset="0.1406" stop-color="#e16751"/><stop offset="0.1562" stop-color="#e46e56"/><stop offset="0.1719" stop-color="#e8765c"/><stop offset="0.1875" stop-color="#eb7d62"/><stop offset="0.2031" stop-color="#ee8468"/><stop offset="0.2188" stop-color="#f08b6e"/><stop offset="0.2344" stop-color="#f29274"/><stop offset="0.2500" stop-color="#f4987a"/><stop offset="0.2656" stop-color="#f59f80"/><stop offset="0.2812" stop-color="#f6a586"/><stop offset="0.2969" stop-color="#f7aa8c"/><stop offset="0.3125" stop-color="#f7b093"/><stop offset="0.3281" stop-color="#f7b599"/><stop offset="0.3438" stop-color="#f7ba9f"/><stop offset="0.3594" stop-color="#f6bfa6"/><stop offset="0.3750" stop-color="#f5c4ac"/><stop offset="0.3906" stop-color="#f3c8b2"/><stop offset="0.4062" stop-color="#f1ccb8"/><stop offset="0.4219" stop-color="#efcfbf"/><stop offset="0.4375" stop-color="#ecd3c5"/><stop offset="0.4531" stop-color="#e9d5cb"/><stop offset="0.4688" stop-color="#e5d8d1"/><stop offset="0.4844" stop-color="#e1dad6"/><stop offset="0.5000" stop-color="#dddcdc"/><stop offset="0.5156" stop-color="#d9dce1"/><stop offset="0.5312" stop-color="#d5dbe5"/><stop offset="0.5469" stop-color="#d1dae9"/><stop offset="0.5625" stop-color="#ccd9ed"/><stop offset="0.5781" stop-color="#c7d7f0"/><stop offset="0.5938" stop-color="#c3d5f4"/><stop offset="0.6094" stop-color="#bed2f6"/><stop offset="0.6250" stop-color="#b9d0f9"/><stop offset="0.6406" stop-color="#b3cdfb"/><stop offset="0.6562" stop-color="#aec9fc"/><stop offset="0.6719" stop-color="#a9c6fd"/><stop offset="0.6875" stop-color="#a3c2fe"/><stop offset="0.7031" stop-color="#9ebeff"/><stop offset="0.7188" stop-color="#98b9ff"/><stop offset="0.7344" stop-color="#93b5fe"/><stop offset="0.7500" stop-color="#8db0fe"/><stop offset="0.7656" stop-color="#88abfd"/><stop offset="0.7812" stop-color="#82a6fb"/><stop offset="0.7969" stop-color="#7da0f9"/><stop offset="0.8125" stop-color="#779af7"/><stop offset="0.8281" stop-color="#7295f4"/><stop offset="0.8438" stop-color="#6c8ff1"/><stop offset="0.8594" stop-color="#6788ee"/><stop offset="0.8750" stop-color="#6282ea"/><stop offset="0.8906" stop-color="#5d7ce6"/><stop offset="0.9062" stop-color="#5875e1"/><stop offset="0.9219" stop-color="#536edd"/><stop offset="0.9375" stop-color="#4e68d8"/><stop offset="0.9531" stop-color="#4961d2"/><stop offset="0.9688" stop-color="#445acc"/><stop offset="0.9844" stop-color="#3f53c6"/><stop offset="1.0000" stop-color="#3b4cc0"/></linearGradient><linearGradient id="c2" x1="0" y1="0" x2="0" y2="1"><stop offset="0.0000" stop-color="#b40426"/><stop offset="0.0156" stop-color="#b8122a"/><stop offset="0.0312" stop-color="#be242e"/><stop offset="0.0469" stop-color="#c43032"/><stop offset="0.0625" stop-color="#ca3b37"/><stop offset="0.0781" stop-color="#cf453c"/><stop offset="0.0938" stop-color="#d44e41"/><stop offset="0.1094" stop-color="#d85646"/><stop offset="0.1250" stop-color="#dd5f4b"/><stop offset="0.1406" stop-color="#e16751"/><stop offset="0.1562" stop-color="#e46e56"/><stop offset="0.1719" stop-color="#e8765c"/><stop offset="0.1875" stop-color="#eb7d62"/><stop offset="0.2031" stop-color="#ee8468"/><stop offset="0.2188" stop-color="#f08b6e"/><stop offset="0.2344" stop-color="#f29274"/><stop offset="0.2500" stop-color="#f4987a"/><stop offset="0.2656" stop-color="#f59f80"/><stop offset="0.2812" stop-color="#f6a586"/><stop offset="0.2969" stop-color="#f7aa8c"/><stop offset="0.3125" stop-color="#f7b093"/><stop offset="0.3281" stop-color="#f7b599"/><stop offset="0.3438" stop-color="#f7ba9f"/><stop offset="0.3594" stop-color="#f6bfa6"/><stop offset="0.3750" stop-color="#f5c4ac"/><stop offset="0.3906" stop-color="#f3c8b2"/><stop offset="0.4062" stop-color="#f1ccb8"/><stop offset="0.4219" stop-color="#efcfbf"/><stop offset="0.4375" stop-color="#ecd3c5"/><stop offset="0.4531" stop-color="#e9d5cb"/><stop offset="0.4688" stop-color="#e5d8d1"/><stop offset="0.4844" stop-color="#e1dad6"/><stop offset="0.5000" stop-color="#dddcdc"/><stop offset="0.5156" stop-color="#d9dce1"/><stop offset="0.5312" stop-color="#d5dbe5"/><stop offset="0.5469" stop-color="#d1dae9"/><stop offset="0.5625" stop-color="#ccd9ed"/><stop offset="0.5781" stop-color="#c7d7f0"/><stop offset="0.5938" stop-color="#c3d5f4"/><stop offset="0.6094" stop-color="#bed2f6"/><stop offset="0.6250" stop-color="#b9d0f9"/><stop offset="0.6406" stop-color="#b3cdfb"/><stop offset="0.6562" stop-color="#aec9fc"/><stop offset="0.6719" stop-color="#a9c6fd"/><stop offset="0.6875" stop-color="#a3c2fe"/><stop offset="0.7031" stop-color="#9ebeff"/><stop offset="0.7188" stop-color="#98b9ff"/><stop offset="0.7344" stop-color="#93b5fe"/><stop offset="0.7500" stop-color="#8db0fe"/><stop offset="0.7656" stop-color="#88abfd"/><stop offset="0.7812" stop-color="#82a6fb"/><stop offset="0.7969" stop-color="#7da0f9"/><stop offset="0.8125" stop-color="#779af7"/><stop offset="0.8281" stop-color="#7295f4"/><stop offset="0.8438" stop-color="#6c8ff1"/><stop offset="0.8594" stop-color="#6788ee"/><stop offset="0.8750" stop-color="#6282ea"/><stop offset="0.8906" stop-color="#5d7ce6"/><stop offset="0.9062" stop-color="#5875e1"/><stop offset="0.9219" stop-color="#536edd"/><stop offset="0.9375" stop-color="#4e68d8"/><stop offset="0.9531" stop-color="#4961d2"/><stop offset="0.9688" stop-color="#445acc"/><stop offset="0.9844" stop-color="#3f53c6"/><stop offset="1.0000" stop-color="#3b4cc0"/></linearGradient></defs>
<line x1="56.00" y1="108.50" x2="218.00" y2="108.50" class="ax"/><polygon points="220.00,108.50 216.60,109.90 216.60,107.10" fill="#111"/>
<line x1="130.00" y1="108.50" x2="130.00" y2="2.00" class="ax"/><polygon points="130.00,-0.90 131.40,2.50 128.60,2.50" fill="#111"/>
<line x1="68.50" y1="108.50" x2="189.91" y2="24.80" class="thin"/>
<line x1="176.20" y1="108.50" x2="189.91" y2="24.80" class="thinr"/>
<line x1="84.60" y1="108.50" x2="174.52" y2="46.30" class="thin"/>
<line x1="164.40" y1="108.50" x2="174.52" y2="46.30" class="thinr"/>
<line x1="99.20" y1="108.50" x2="159.56" y2="67.20" class="thin"/>
<line x1="153.00" y1="108.50" x2="159.56" y2="67.20" class="thinr"/>
<line x1="114.70" y1="108.50" x2="145.03" y2="87.50" class="thin"/>
<line x1="141.00" y1="108.50" x2="145.03" y2="87.50" class="thinr"/>
<line x1="130.00" y1="108.50" x2="197.50" y2="14.20" class="shock"/>
<line x1="145.30" y1="46.50" x2="175.80" y2="26.50" class="arr"/><polyline points="171.64,27.10 175.80,26.50 173.59,30.07" class="arr"/>
<line x1="187.60" y1="73.50" x2="194.30" y2="37.90" class="arr"/><polyline points="191.85,41.31 194.30,37.90 195.34,41.97" class="arr"/>
<text x="168.6" y="10.9" font-size="7.9" class="ttl" textLength="36.6" lengthAdjust="spacingAndGlyphs">Shock Wave</text>
<text x="134" y="10" font-size="8" class="i b">t</text>
<text x="206" y="104.7" font-size="11" class="i ttl">x</text>
<text x="127.7" y="118.8" font-size="7.7" class="ttl">0</text>
<text x="144.4" y="35.0" font-size="12" class="i b">u<tspan font-size="7.8" dy="2.7" dx=".3" class="sub">L</tspan></text>
<text x="196.6" y="62.6" font-size="12" class="i b">u<tspan font-size="7.8" dy="2.7" dx=".3" class="sub">R</tspan></text>
<line x1="228.50" y1="108.50" x2="390.50" y2="108.50" class="ax"/><polygon points="392.40,108.50 389.00,109.90 389.00,107.10" fill="#111"/>
<line x1="302.60" y1="108.50" x2="302.60" y2="2.00" class="ax"/><polygon points="302.60,-0.90 304.00,2.50 301.20,2.50" fill="#111"/>
<line x1="235.25" y1="108.50" x2="352.01" y2="25.99" class="thin"/>
<line x1="250.25" y1="108.50" x2="336.55" y2="47.51" class="thin"/>
<line x1="265.25" y1="108.50" x2="321.09" y2="69.04" class="thin"/>
<line x1="281.30" y1="108.50" x2="304.55" y2="92.07" class="thin"/>
<line x1="317.40" y1="108.50" x2="321.80" y2="97.60" class="thinq"/>
<line x1="331.80" y1="108.50" x2="336.35" y2="80.09" class="thinq"/>
<line x1="343.40" y1="108.50" x2="351.37" y2="58.66" class="thinq"/>
<line x1="355.40" y1="108.50" x2="366.92" y2="36.50" class="thinq"/>
<polygon points="284.6,110.8 314.8,110.8 384.6,11.3 355.3,11.3" class="dash"/>
<line x1="292.75" y1="108.50" x2="360.40" y2="14.30" class="shock"/>
<line x1="310.25" y1="108.50" x2="378.90" y2="14.30" class="shock"/>
<line x1="312.00" y1="46.25" x2="341.40" y2="26.40" class="arr"/><polyline points="337.25,27.06 341.40,26.40 339.24,30.00" class="arr"/><polyline points="316.15,45.59 312.00,46.25 314.16,42.65" class="arr"/>
<line x1="336.90" y1="58.00" x2="356.25" y2="32.50" class="arr"/><polyline points="352.54,34.46 356.25,32.50 355.36,36.61" class="arr"/><polyline points="340.61,56.04 336.90,58.00 337.79,53.89" class="arr"/>
<line x1="366.50" y1="73.50" x2="372.80" y2="38.20" class="arr"/><polyline points="370.38,41.64 372.80,38.20 373.88,42.26" class="arr"/><polyline points="368.92,70.06 366.50,73.50 365.42,69.44" class="arr"/>
<text x="333.9" y="8.9" font-size="7.9" class="ttl" textLength="57" lengthAdjust="spacingAndGlyphs">Local Linearization</text>
<text x="305.6" y="10" font-size="8" class="i b">t</text>
<text x="378.6" y="104.5" font-size="11" class="i ttl">x</text>
<text x="300.0" y="118.8" font-size="7.7" class="ttl">0</text>
<text x="310.6" y="34.3" font-size="10.8" class="i b">u<tspan font-size="7.2" dy="2.6" dx=".3" class="sub">L</tspan></text>
<text x="374.7" y="63.4" font-size="12" class="i b">u<tspan font-size="7.8" dy="2.7" dx=".3" class="sub">R</tspan></text>
<g><rect x="72.10" y="137.85" width="124.40" height="1.30" fill="url(#a0)"/><rect x="72.10" y="138.85" width="124.40" height="1.30" fill="url(#a1)"/><rect x="72.10" y="139.85" width="124.40" height="1.30" fill="url(#a2)"/><rect x="72.10" y="140.85" width="124.40" height="1.30" fill="url(#a3)"/><rect x="72.10" y="141.85" width="124.40" height="1.30" fill="url(#a4)"/><rect x="72.10" y="142.85" width="124.40" height="1.30" fill="url(#a5)"/><rect x="72.10" y="143.85" width="124.40" height="1.30" fill="url(#a6)"/><rect x="72.10" y="144.85" width="124.40" height="1.30" fill="url(#a7)"/><rect x="72.10" y="145.85" width="124.40" height="1.30" fill="url(#a8)"/><rect x="72.10" y="146.85" width="124.40" height="1.30" fill="url(#a9)"/><rect x="72.10" y="147.85" width="124.40" height="1.30" fill="url(#a10)"/><rect x="72.10" y="148.85" width="124.40" height="1.30" fill="url(#a11)"/><rect x="72.10" y="149.85" width="124.40" height="1.30" fill="url(#a12)"/><rect x="72.10" y="150.85" width="124.40" height="1.30" fill="url(#a13)"/><rect x="72.10" y="151.85" width="124.40" height="1.30" fill="url(#a14)"/><rect x="72.10" y="152.85" width="124.40" height="1.30" fill="url(#a15)"/><rect x="72.10" y="153.85" width="124.40" height="1.30" fill="url(#a16)"/><rect x="72.10" y="154.85" width="124.40" height="1.30" fill="url(#a17)"/><rect x="72.10" y="155.85" width="124.40" height="1.30" fill="url(#a18)"/><rect x="72.10" y="156.85" width="124.40" height="1.30" fill="url(#a19)"/><rect x="72.10" y="157.85" width="124.40" height="1.30" fill="url(#a20)"/><rect x="72.10" y="158.85" width="124.40" height="1.30" fill="url(#a21)"/><rect x="72.10" y="159.85" width="124.40" height="1.30" fill="url(#a22)"/><rect x="72.10" y="160.85" width="124.40" height="1.30" fill="url(#a23)"/><rect x="72.10" y="161.85" width="124.40" height="1.30" fill="url(#a24)"/><rect x="72.10" y="162.85" width="124.40" height="1.30" fill="url(#a25)"/><rect x="72.10" y="163.85" width="124.40" height="1.30" fill="url(#a26)"/><rect x="72.10" y="164.85" width="124.40" height="1.30" fill="url(#a27)"/><rect x="72.10" y="165.85" width="124.40" height="1.30" fill="url(#a28)"/><rect x="72.10" y="166.85" width="124.40" height="1.30" fill="url(#a29)"/><rect x="72.10" y="167.85" width="124.40" height="1.30" fill="url(#a30)"/><rect x="72.10" y="168.85" width="124.40" height="1.30" fill="url(#a31)"/><rect x="72.10" y="169.85" width="124.40" height="1.30" fill="url(#a32)"/><rect x="72.10" y="170.85" width="124.40" height="1.30" fill="url(#a33)"/><rect x="72.10" y="171.85" width="124.40" height="1.30" fill="url(#a34)"/><rect x="72.10" y="172.85" width="124.40" height="1.30" fill="url(#a35)"/><rect x="72.10" y="173.85" width="124.40" height="1.30" fill="url(#a36)"/><rect x="72.10" y="174.85" width="124.40" height="1.30" fill="url(#a37)"/><rect x="72.10" y="175.85" width="124.40" height="1.30" fill="url(#a38)"/><rect x="72.10" y="176.85" width="124.40" height="1.30" fill="url(#a39)"/><rect x="72.10" y="177.85" width="124.40" height="1.30" fill="url(#a40)"/><rect x="72.10" y="178.85" width="124.40" height="1.30" fill="url(#a41)"/><rect x="72.10" y="179.85" width="124.40" height="1.30" fill="url(#a42)"/><rect x="72.10" y="180.85" width="124.40" height="1.30" fill="url(#a43)"/><rect x="72.10" y="181.85" width="124.40" height="1.30" fill="url(#a44)"/><rect x="72.10" y="182.85" width="124.40" height="1.30" fill="url(#a45)"/><rect x="72.10" y="183.85" width="124.40" height="1.30" fill="url(#a46)"/><rect x="72.10" y="184.85" width="124.40" height="1.30" fill="url(#a47)"/><rect x="72.10" y="185.85" width="124.40" height="1.30" fill="url(#a48)"/><rect x="72.10" y="186.85" width="124.40" height="1.30" fill="url(#a49)"/><rect x="72.10" y="187.85" width="124.40" height="1.30" fill="url(#a50)"/><rect x="72.10" y="188.85" width="124.40" height="1.30" fill="url(#a51)"/><rect x="72.10" y="189.85" width="124.40" height="1.30" fill="url(#a52)"/><rect x="72.10" y="190.85" width="124.40" height="1.30" fill="url(#a53)"/><rect x="72.10" y="191.85" width="124.40" height="1.30" fill="url(#a54)"/><rect x="72.10" y="192.85" width="124.40" height="1.30" fill="url(#a55)"/><rect x="72.10" y="193.85" width="124.40" height="1.30" fill="url(#a56)"/><rect x="72.10" y="194.85" width="124.40" height="1.30" fill="url(#a57)"/><rect x="72.10" y="195.85" width="124.40" height="1.30" fill="url(#a58)"/><rect x="72.10" y="196.85" width="124.40" height="1.30" fill="url(#a59)"/><rect x="72.10" y="197.85" width="124.40" height="1.30" fill="url(#a60)"/><rect x="72.10" y="198.85" width="124.40" height="1.30" fill="url(#a61)"/><rect x="72.10" y="199.85" width="124.40" height="1.30" fill="url(#a62)"/><rect x="72.10" y="200.85" width="124.40" height="1.30" fill="url(#a63)"/><rect x="72.10" y="201.85" width="124.40" height="1.30" fill="url(#a64)"/><rect x="72.10" y="202.85" width="124.40" height="1.30" fill="url(#a65)"/><rect x="72.10" y="203.85" width="124.40" height="1.30" fill="url(#a66)"/><rect x="72.10" y="204.85" width="124.40" height="1.30" fill="url(#a67)"/><rect x="72.10" y="205.85" width="124.40" height="1.30" fill="url(#a68)"/><rect x="72.10" y="206.85" width="124.40" height="1.30" fill="url(#a69)"/><rect x="72.10" y="207.85" width="124.40" height="1.30" fill="url(#a70)"/><rect x="72.10" y="208.85" width="124.40" height="1.30" fill="url(#a71)"/><rect x="72.10" y="209.85" width="124.40" height="1.30" fill="url(#a72)"/><rect x="72.10" y="210.85" width="124.40" height="1.30" fill="url(#a73)"/><rect x="72.10" y="211.85" width="124.40" height="1.30" fill="url(#a74)"/><rect x="72.10" y="212.85" width="124.40" height="1.30" fill="url(#a75)"/><rect x="72.10" y="213.85" width="124.40" height="1.30" fill="url(#a76)"/><rect x="72.10" y="214.85" width="124.40" height="1.30" fill="url(#a77)"/><rect x="72.10" y="215.85" width="124.40" height="1.30" fill="url(#a78)"/><rect x="72.10" y="216.85" width="124.40" height="1.30" fill="url(#a79)"/><rect x="72.10" y="217.85" width="124.40" height="1.30" fill="url(#a80)"/><rect x="72.10" y="218.85" width="124.40" height="1.30" fill="url(#a81)"/><rect x="72.10" y="219.85" width="124.40" height="1.30" fill="url(#a82)"/><rect x="72.10" y="220.85" width="124.40" height="1.30" fill="url(#a83)"/><rect x="72.10" y="221.85" width="124.40" height="1.30" fill="url(#a84)"/><rect x="72.10" y="222.85" width="124.40" height="1.30" fill="url(#a85)"/><rect x="72.10" y="223.85" width="124.40" height="1.30" fill="url(#a86)"/><rect x="72.10" y="224.85" width="124.40" height="1.30" fill="url(#a87)"/><rect x="72.10" y="225.85" width="124.40" height="1.30" fill="url(#a88)"/><rect x="72.10" y="226.85" width="124.40" height="1.30" fill="url(#a89)"/><rect x="72.10" y="227.85" width="124.40" height="1.30" fill="url(#a90)"/><rect x="72.10" y="228.85" width="124.40" height="1.30" fill="url(#a91)"/><rect x="72.10" y="229.85" width="124.40" height="1.30" fill="url(#a92)"/><rect x="72.10" y="230.85" width="124.40" height="1.30" fill="url(#a93)"/><rect x="72.10" y="231.85" width="124.40" height="1.30" fill="url(#a94)"/><rect x="72.10" y="232.85" width="124.40" height="1.30" fill="url(#a95)"/><rect x="72.10" y="233.85" width="124.40" height="1.30" fill="url(#a96)"/><rect x="72.10" y="234.85" width="124.40" height="1.30" fill="url(#a97)"/><rect x="72.10" y="235.85" width="124.40" height="1.30" fill="url(#a98)"/><rect x="72.10" y="236.85" width="124.40" height="1.30" fill="url(#a99)"/></g>
<g><rect x="245.60" y="137.85" width="124.20" height="1.30" fill="url(#b0)"/><rect x="245.60" y="138.85" width="124.20" height="1.30" fill="url(#b1)"/><rect x="245.60" y="139.85" width="124.20" height="1.30" fill="url(#b2)"/><rect x="245.60" y="140.85" width="124.20" height="1.30" fill="url(#b3)"/><rect x="245.60" y="141.85" width="124.20" height="1.30" fill="url(#b4)"/><rect x="245.60" y="142.85" width="124.20" height="1.30" fill="url(#b5)"/><rect x="245.60" y="143.85" width="124.20" height="1.30" fill="url(#b6)"/><rect x="245.60" y="144.85" width="124.20" height="1.30" fill="url(#b7)"/><rect x="245.60" y="145.85" width="124.20" height="1.30" fill="url(#b8)"/><rect x="245.60" y="146.85" width="124.20" height="1.30" fill="url(#b9)"/><rect x="245.60" y="147.85" width="124.20" height="1.30" fill="url(#b10)"/><rect x="245.60" y="148.85" width="124.20" height="1.30" fill="url(#b11)"/><rect x="245.60" y="149.85" width="124.20" height="1.30" fill="url(#b12)"/><rect x="245.60" y="150.85" width="124.20" height="1.30" fill="url(#b13)"/><rect x="245.60" y="151.85" width="124.20" height="1.30" fill="url(#b14)"/><rect x="245.60" y="152.85" width="124.20" height="1.30" fill="url(#b15)"/><rect x="245.60" y="153.85" width="124.20" height="1.30" fill="url(#b16)"/><rect x="245.60" y="154.85" width="124.20" height="1.30" fill="url(#b17)"/><rect x="245.60" y="155.85" width="124.20" height="1.30" fill="url(#b18)"/><rect x="245.60" y="156.85" width="124.20" height="1.30" fill="url(#b19)"/><rect x="245.60" y="157.85" width="124.20" height="1.30" fill="url(#b20)"/><rect x="245.60" y="158.85" width="124.20" height="1.30" fill="url(#b21)"/><rect x="245.60" y="159.85" width="124.20" height="1.30" fill="url(#b22)"/><rect x="245.60" y="160.85" width="124.20" height="1.30" fill="url(#b23)"/><rect x="245.60" y="161.85" width="124.20" height="1.30" fill="url(#b24)"/><rect x="245.60" y="162.85" width="124.20" height="1.30" fill="url(#b25)"/><rect x="245.60" y="163.85" width="124.20" height="1.30" fill="url(#b26)"/><rect x="245.60" y="164.85" width="124.20" height="1.30" fill="url(#b27)"/><rect x="245.60" y="165.85" width="124.20" height="1.30" fill="url(#b28)"/><rect x="245.60" y="166.85" width="124.20" height="1.30" fill="url(#b29)"/><rect x="245.60" y="167.85" width="124.20" height="1.30" fill="url(#b30)"/><rect x="245.60" y="168.85" width="124.20" height="1.30" fill="url(#b31)"/><rect x="245.60" y="169.85" width="124.20" height="1.30" fill="url(#b32)"/><rect x="245.60" y="170.85" width="124.20" height="1.30" fill="url(#b33)"/><rect x="245.60" y="171.85" width="124.20" height="1.30" fill="url(#b34)"/><rect x="245.60" y="172.85" width="124.20" height="1.30" fill="url(#b35)"/><rect x="245.60" y="173.85" width="124.20" height="1.30" fill="url(#b36)"/><rect x="245.60" y="174.85" width="124.20" height="1.30" fill="url(#b37)"/><rect x="245.60" y="175.85" width="124.20" height="1.30" fill="url(#b38)"/><rect x="245.60" y="176.85" width="124.20" height="1.30" fill="url(#b39)"/><rect x="245.60" y="177.85" width="124.20" height="1.30" fill="url(#b40)"/><rect x="245.60" y="178.85" width="124.20" height="1.30" fill="url(#b41)"/><rect x="245.60" y="179.85" width="124.20" height="1.30" fill="url(#b42)"/><rect x="245.60" y="180.85" width="124.20" height="1.30" fill="url(#b43)"/><rect x="245.60" y="181.85" width="124.20" height="1.30" fill="url(#b44)"/><rect x="245.60" y="182.85" width="124.20" height="1.30" fill="url(#b45)"/><rect x="245.60" y="183.85" width="124.20" height="1.30" fill="url(#b46)"/><rect x="245.60" y="184.85" width="124.20" height="1.30" fill="url(#b47)"/><rect x="245.60" y="185.85" width="124.20" height="1.30" fill="url(#b48)"/><rect x="245.60" y="186.85" width="124.20" height="1.30" fill="url(#b49)"/><rect x="245.60" y="187.85" width="124.20" height="1.30" fill="url(#b50)"/><rect x="245.60" y="188.85" width="124.20" height="1.30" fill="url(#b51)"/><rect x="245.60" y="189.85" width="124.20" height="1.30" fill="url(#b52)"/><rect x="245.60" y="190.85" width="124.20" height="1.30" fill="url(#b53)"/><rect x="245.60" y="191.85" width="124.20" height="1.30" fill="url(#b54)"/><rect x="245.60" y="192.85" width="124.20" height="1.30" fill="url(#b55)"/><rect x="245.60" y="193.85" width="124.20" height="1.30" fill="url(#b56)"/><rect x="245.60" y="194.85" width="124.20" height="1.30" fill="url(#b57)"/><rect x="245.60" y="195.85" width="124.20" height="1.30" fill="url(#b58)"/><rect x="245.60" y="196.85" width="124.20" height="1.30" fill="url(#b59)"/><rect x="245.60" y="197.85" width="124.20" height="1.30" fill="url(#b60)"/><rect x="245.60" y="198.85" width="124.20" height="1.30" fill="url(#b61)"/><rect x="245.60" y="199.85" width="124.20" height="1.30" fill="url(#b62)"/><rect x="245.60" y="200.85" width="124.20" height="1.30" fill="url(#b63)"/><rect x="245.60" y="201.85" width="124.20" height="1.30" fill="url(#b64)"/><rect x="245.60" y="202.85" width="124.20" height="1.30" fill="url(#b65)"/><rect x="245.60" y="203.85" width="124.20" height="1.30" fill="url(#b66)"/><rect x="245.60" y="204.85" width="124.20" height="1.30" fill="url(#b67)"/><rect x="245.60" y="205.85" width="124.20" height="1.30" fill="url(#b68)"/><rect x="245.60" y="206.85" width="124.20" height="1.30" fill="url(#b69)"/><rect x="245.60" y="207.85" width="124.20" height="1.30" fill="url(#b70)"/><rect x="245.60" y="208.85" width="124.20" height="1.30" fill="url(#b71)"/><rect x="245.60" y="209.85" width="124.20" height="1.30" fill="url(#b72)"/><rect x="245.60" y="210.85" width="124.20" height="1.30" fill="url(#b73)"/><rect x="245.60" y="211.85" width="124.20" height="1.30" fill="url(#b74)"/><rect x="245.60" y="212.85" width="124.20" height="1.30" fill="url(#b75)"/><rect x="245.60" y="213.85" width="124.20" height="1.30" fill="url(#b76)"/><rect x="245.60" y="214.85" width="124.20" height="1.30" fill="url(#b77)"/><rect x="245.60" y="215.85" width="124.20" height="1.30" fill="url(#b78)"/><rect x="245.60" y="216.85" width="124.20" height="1.30" fill="url(#b79)"/><rect x="245.60" y="217.85" width="124.20" height="1.30" fill="url(#b80)"/><rect x="245.60" y="218.85" width="124.20" height="1.30" fill="url(#b81)"/><rect x="245.60" y="219.85" width="124.20" height="1.30" fill="url(#b82)"/><rect x="245.60" y="220.85" width="124.20" height="1.30" fill="url(#b83)"/><rect x="245.60" y="221.85" width="124.20" height="1.30" fill="url(#b84)"/><rect x="245.60" y="222.85" width="124.20" height="1.30" fill="url(#b85)"/><rect x="245.60" y="223.85" width="124.20" height="1.30" fill="url(#b86)"/><rect x="245.60" y="224.85" width="124.20" height="1.30" fill="url(#b87)"/><rect x="245.60" y="225.85" width="124.20" height="1.30" fill="url(#b88)"/><rect x="245.60" y="226.85" width="124.20" height="1.30" fill="url(#b89)"/><rect x="245.60" y="227.85" width="124.20" height="1.30" fill="url(#b90)"/><rect x="245.60" y="228.85" width="124.20" height="1.30" fill="url(#b91)"/><rect x="245.60" y="229.85" width="124.20" height="1.30" fill="url(#b92)"/><rect x="245.60" y="230.85" width="124.20" height="1.30" fill="url(#b93)"/><rect x="245.60" y="231.85" width="124.20" height="1.30" fill="url(#b94)"/><rect x="245.60" y="232.85" width="124.20" height="1.30" fill="url(#b95)"/><rect x="245.60" y="233.85" width="124.20" height="1.30" fill="url(#b96)"/><rect x="245.60" y="234.85" width="124.20" height="1.30" fill="url(#b97)"/><rect x="245.60" y="235.85" width="124.20" height="1.30" fill="url(#b98)"/><rect x="245.60" y="236.85" width="124.20" height="1.30" fill="url(#b99)"/></g>
<rect x="201.00" y="138.00" width="4.90" height="100.00" fill="url(#c1)"/><rect x="374.50" y="138.00" width="5.00" height="100.00" fill="url(#c2)"/>
<clipPath id="cp72"><rect x="72.10" y="138.00" width="124.40" height="100.00"/></clipPath>
<g clip-path="url(#cp72)"><line x1="72.20" y1="213.00" x2="206.50" y2="213.00" class="wd"/><line x1="72.20" y1="188.00" x2="206.50" y2="188.00" class="wd"/></g>
<linearGradient id="eg72t" gradientUnits="userSpaceOnUse" x1="72.10" y1="0" x2="196.50" y2="0"><stop offset="0" stop-color="#8c949c"/><stop offset=".18" stop-color="#8ea6b2"/><stop offset=".5" stop-color="#8ea6b2"/><stop offset=".5" stop-color="#b8a88e"/><stop offset=".8" stop-color="#aea89a"/><stop offset="1" stop-color="#90969e"/></linearGradient>
<linearGradient id="eg72b" gradientUnits="userSpaceOnUse" x1="72.10" y1="0" x2="196.50" y2="0"><stop offset="0" stop-color="#98a8ae"/><stop offset=".15" stop-color="#84aebb"/><stop offset=".5" stop-color="#84aebb"/><stop offset=".5" stop-color="#c2b996"/><stop offset=".85" stop-color="#c2b996"/><stop offset="1" stop-color="#a6a8a6"/></linearGradient>
<rect x="72.10" y="137.53" width="124.40" height="1.15" fill="url(#eg72t)"/>
<rect x="79.80" y="137.53" width="1.61" height="1.15" fill="#c8a795"/>
<rect x="81.38" y="137.53" width="1.60" height="1.15" fill="#caa591"/>
<rect x="90.57" y="137.53" width="1.60" height="1.15" fill="#d78f6d"/>
<rect x="92.15" y="137.53" width="1.61" height="1.15" fill="#d88a66"/>
<rect x="101.34" y="137.53" width="1.61" height="1.15" fill="#da6b3f"/>
<rect x="102.92" y="137.53" width="1.60" height="1.15" fill="#d96336"/>
<rect x="112.11" y="137.53" width="1.61" height="1.15" fill="#cf3b10"/>
<rect x="113.69" y="137.53" width="1.60" height="1.15" fill="#cd360c"/>
<rect x="122.88" y="137.53" width="1.60" height="1.15" fill="#bf1400"/>
<rect x="124.46" y="137.53" width="1.61" height="1.15" fill="#be1100"/>
<rect x="133.65" y="137.53" width="1.60" height="1.15" fill="#afb3ba"/>
<rect x="135.23" y="137.53" width="1.61" height="1.15" fill="#5987e5"/>
<rect x="144.42" y="137.53" width="1.61" height="1.15" fill="#2356db"/>
<rect x="146.00" y="137.53" width="1.60" height="1.15" fill="#2558db"/>
<rect x="155.19" y="137.53" width="1.60" height="1.15" fill="#3f71e3"/>
<rect x="156.77" y="137.53" width="1.61" height="1.15" fill="#4576e4"/>
<rect x="165.96" y="137.53" width="1.60" height="1.15" fill="#6590e4"/>
<rect x="167.54" y="137.53" width="1.61" height="1.15" fill="#6a94e3"/>
<rect x="176.73" y="137.53" width="1.60" height="1.15" fill="#89a6d8"/>
<rect x="178.31" y="137.53" width="1.61" height="1.15" fill="#8ea9d5"/>
<rect x="187.50" y="137.53" width="1.61" height="1.15" fill="#a5b1c3"/>
<rect x="189.08" y="137.53" width="1.60" height="1.15" fill="#a9b2c0"/>
<rect x="72.10" y="237.62" width="124.40" height="0.95" fill="url(#eg72b)"/>
<rect x="79.80" y="237.62" width="1.61" height="0.95" fill="#da6f44"/>
<rect x="81.38" y="237.62" width="1.60" height="0.95" fill="#d75a2d"/>
<rect x="90.57" y="237.62" width="1.60" height="0.95" fill="#a70000"/>
<rect x="92.15" y="237.62" width="1.61" height="0.95" fill="#9e0000"/>
<rect x="101.34" y="237.62" width="1.61" height="0.95" fill="#7b0000"/>
<rect x="102.92" y="237.62" width="1.60" height="0.95" fill="#790000"/>
<rect x="112.11" y="237.62" width="1.61" height="0.95" fill="#980000"/>
<rect x="113.69" y="237.62" width="1.60" height="0.95" fill="#a30000"/>
<rect x="122.88" y="237.62" width="1.60" height="0.95" fill="#d55124"/>
<rect x="124.46" y="237.62" width="1.61" height="0.95" fill="#d96538"/>
<rect x="133.65" y="237.62" width="1.60" height="0.95" fill="#b3b4b5"/>
<rect x="135.23" y="237.62" width="1.61" height="0.95" fill="#aab2be"/>
<rect x="144.42" y="237.62" width="1.61" height="0.95" fill="#396be2"/>
<rect x="146.00" y="237.62" width="1.60" height="0.95" fill="#275adc"/>
<rect x="155.19" y="237.62" width="1.60" height="0.95" fill="#0003a6"/>
<rect x="156.77" y="237.62" width="1.61" height="0.95" fill="#00009e"/>
<rect x="165.96" y="237.62" width="1.60" height="0.95" fill="#00008a"/>
<rect x="167.54" y="237.62" width="1.61" height="0.95" fill="#00008a"/>
<rect x="176.73" y="237.62" width="1.60" height="0.95" fill="#0019b7"/>
<rect x="178.31" y="237.62" width="1.61" height="0.95" fill="#0027c1"/>
<rect x="187.50" y="237.62" width="1.61" height="0.95" fill="#5785e5"/>
<rect x="189.08" y="237.62" width="1.60" height="0.95" fill="#6a94e3"/>
<line x1="72.10" y1="137.50" x2="72.10" y2="238.60" stroke="#5a5a5a" stroke-width="1.25"/>
<line x1="196.50" y1="137.50" x2="196.50" y2="238.60" stroke="#505050" stroke-width="0.85"/>
<line x1="70.10" y1="238.00" x2="71.60" y2="238.00" class="tick"/>
<text x="69.20" y="240.25" class="tk" text-anchor="end">0.0</text>
<line x1="70.10" y1="218.00" x2="71.60" y2="218.00" class="tick"/>
<text x="69.20" y="220.25" class="tk" text-anchor="end">0.2</text>
<line x1="70.10" y1="198.00" x2="71.60" y2="198.00" class="tick"/>
<text x="69.20" y="200.25" class="tk" text-anchor="end">0.4</text>
<line x1="70.10" y1="178.00" x2="71.60" y2="178.00" class="tick"/>
<text x="69.20" y="180.25" class="tk" text-anchor="end">0.6</text>
<line x1="70.10" y1="158.00" x2="71.60" y2="158.00" class="tick"/>
<text x="69.20" y="160.25" class="tk" text-anchor="end">0.8</text>
<line x1="70.10" y1="138.00" x2="71.60" y2="138.00" class="tick"/>
<text x="69.20" y="140.25" class="tk" text-anchor="end">1.0</text>
<line x1="72.10" y1="238.50" x2="72.10" y2="240.00" class="tick"/>
<text x="71.50" y="245.65" class="tk" text-anchor="middle">−1.0</text>
<line x1="103.20" y1="238.50" x2="103.20" y2="240.00" class="tick"/>
<text x="102.60" y="245.65" class="tk" text-anchor="middle">−0.5</text>
<line x1="134.30" y1="238.50" x2="134.30" y2="240.00" class="tick"/>
<text x="134.30" y="245.65" class="tk" text-anchor="middle">0.0</text>
<line x1="165.40" y1="238.50" x2="165.40" y2="240.00" class="tick"/>
<text x="165.40" y="245.65" class="tk" text-anchor="middle">0.5</text>
<line x1="196.50" y1="238.50" x2="196.50" y2="240.00" class="tick"/>
<text x="196.50" y="245.65" class="tk" text-anchor="middle">1.0</text>
<text x="134.10" y="252.20" font-size="9" class="i b" text-anchor="middle">x</text>
<text transform="translate(60.10,188.40) rotate(-90)" font-size="7.6" class="i b" text-anchor="middle">t</text>
<rect x="201.00" y="138.00" width="4.90" height="100.00" fill="none" stroke="#101020" stroke-opacity=".5" stroke-width=".6"/>
<line x1="205.90" y1="149.69" x2="207.50" y2="149.69" class="tick"/>
<text x="208.80" y="151.84" class="tk">0.75</text>
<line x1="205.90" y1="162.56" x2="207.50" y2="162.56" class="tick"/>
<text x="208.80" y="164.71" class="tk">0.50</text>
<line x1="205.90" y1="175.44" x2="207.50" y2="175.44" class="tick"/>
<text x="208.80" y="177.59" class="tk">0.25</text>
<line x1="205.90" y1="188.31" x2="207.50" y2="188.31" class="tick"/>
<text x="208.80" y="190.46" class="tk">0.00</text>
<line x1="205.90" y1="201.18" x2="207.50" y2="201.18" class="tick"/>
<text x="208.80" y="203.33" class="tk">−0.25</text>
<line x1="205.90" y1="214.06" x2="207.50" y2="214.06" class="tick"/>
<text x="208.80" y="216.21" class="tk">−0.50</text>
<line x1="205.90" y1="226.93" x2="207.50" y2="226.93" class="tick"/>
<text x="208.80" y="229.08" class="tk">−0.75</text>
<clipPath id="cp245"><rect x="245.60" y="138.00" width="124.20" height="100.00"/></clipPath>
<g clip-path="url(#cp245)"><line x1="245.80" y1="213.00" x2="379.80" y2="213.00" class="wd"/><line x1="245.80" y1="188.00" x2="379.80" y2="188.00" class="wd"/></g>
<linearGradient id="eg245t" gradientUnits="userSpaceOnUse" x1="245.60" y1="0" x2="369.80" y2="0"><stop offset="0" stop-color="#8c949c"/><stop offset=".18" stop-color="#8ea6b2"/><stop offset=".5" stop-color="#8ea6b2"/><stop offset=".5" stop-color="#b8a88e"/><stop offset=".8" stop-color="#aea89a"/><stop offset="1" stop-color="#90969e"/></linearGradient>
<linearGradient id="eg245b" gradientUnits="userSpaceOnUse" x1="245.60" y1="0" x2="369.80" y2="0"><stop offset="0" stop-color="#98a8ae"/><stop offset=".15" stop-color="#84aebb"/><stop offset=".5" stop-color="#84aebb"/><stop offset=".5" stop-color="#c2b996"/><stop offset=".85" stop-color="#c2b996"/><stop offset="1" stop-color="#a6a8a6"/></linearGradient>
<rect x="245.60" y="137.53" width="124.20" height="1.15" fill="url(#eg245t)"/>
<rect x="253.40" y="137.53" width="1.61" height="1.15" fill="#c6a897"/>
<rect x="254.98" y="137.53" width="1.61" height="1.15" fill="#c9a693"/>
<rect x="264.17" y="137.53" width="1.61" height="1.15" fill="#d59272"/>
<rect x="265.75" y="137.53" width="1.60" height="1.15" fill="#d78f6d"/>
<rect x="274.94" y="137.53" width="1.60" height="1.15" fill="#da774d"/>
<rect x="276.52" y="137.53" width="1.61" height="1.15" fill="#da7146"/>
<rect x="285.71" y="137.53" width="1.60" height="1.15" fill="#d65326"/>
<rect x="287.29" y="137.53" width="1.61" height="1.15" fill="#d54f22"/>
<rect x="296.48" y="137.53" width="1.60" height="1.15" fill="#ca2c04"/>
<rect x="298.06" y="137.53" width="1.61" height="1.15" fill="#c72700"/>
<rect x="307.25" y="137.53" width="1.61" height="1.15" fill="#1d4fd8"/>
<rect x="308.84" y="137.53" width="1.60" height="1.15" fill="#0939cc"/>
<rect x="318.02" y="137.53" width="1.61" height="1.15" fill="#2356db"/>
<rect x="319.61" y="137.53" width="1.60" height="1.15" fill="#295cdd"/>
<rect x="328.79" y="137.53" width="1.61" height="1.15" fill="#4375e4"/>
<rect x="330.38" y="137.53" width="1.60" height="1.15" fill="#497ae5"/>
<rect x="339.56" y="137.53" width="1.61" height="1.15" fill="#6590e4"/>
<rect x="341.14" y="137.53" width="1.60" height="1.15" fill="#6992e3"/>
<rect x="350.33" y="137.53" width="1.60" height="1.15" fill="#83a3db"/>
<rect x="351.91" y="137.53" width="1.61" height="1.15" fill="#89a6d8"/>
<rect x="361.10" y="137.53" width="1.60" height="1.15" fill="#a1b0c7"/>
<rect x="362.68" y="137.53" width="1.61" height="1.15" fill="#a5b1c3"/>
<rect x="245.60" y="237.62" width="124.20" height="0.95" fill="url(#eg245b)"/>
<rect x="253.40" y="237.62" width="1.61" height="0.95" fill="#da693d"/>
<rect x="254.98" y="237.62" width="1.61" height="0.95" fill="#d65326"/>
<rect x="264.17" y="237.62" width="1.61" height="0.95" fill="#a30000"/>
<rect x="265.75" y="237.62" width="1.60" height="0.95" fill="#9a0000"/>
<rect x="274.94" y="237.62" width="1.60" height="0.95" fill="#790000"/>
<rect x="276.52" y="237.62" width="1.61" height="0.95" fill="#790000"/>
<rect x="285.71" y="237.62" width="1.60" height="0.95" fill="#980000"/>
<rect x="287.29" y="237.62" width="1.61" height="0.95" fill="#a10000"/>
<rect x="296.48" y="237.62" width="1.60" height="0.95" fill="#d55124"/>
<rect x="298.06" y="237.62" width="1.61" height="0.95" fill="#d96538"/>
<rect x="307.25" y="237.62" width="1.61" height="0.95" fill="#adb3bb"/>
<rect x="308.84" y="237.62" width="1.60" height="0.95" fill="#a1b0c7"/>
<rect x="318.02" y="237.62" width="1.61" height="0.95" fill="#376ae1"/>
<rect x="319.61" y="237.62" width="1.60" height="0.95" fill="#275adc"/>
<rect x="328.79" y="237.62" width="1.61" height="0.95" fill="#0003a6"/>
<rect x="330.38" y="237.62" width="1.60" height="0.95" fill="#00009e"/>
<rect x="339.56" y="237.62" width="1.61" height="0.95" fill="#00008a"/>
<rect x="341.14" y="237.62" width="1.60" height="0.95" fill="#00008d"/>
<rect x="350.33" y="237.62" width="1.60" height="0.95" fill="#001ebb"/>
<rect x="351.91" y="237.62" width="1.61" height="0.95" fill="#002cc4"/>
<rect x="361.10" y="237.62" width="1.60" height="0.95" fill="#5d8ae5"/>
<rect x="362.68" y="237.62" width="1.61" height="0.95" fill="#6e97e2"/>
<line x1="245.60" y1="137.50" x2="245.60" y2="238.60" stroke="#5e5e5e" stroke-width="0.90"/>
<line x1="369.80" y1="137.50" x2="369.80" y2="238.60" stroke="#7a7a7a" stroke-width="1.50"/>
<line x1="243.60" y1="238.00" x2="245.10" y2="238.00" class="tick"/>
<text x="242.70" y="240.25" class="tk" text-anchor="end">0.0</text>
<line x1="243.60" y1="218.00" x2="245.10" y2="218.00" class="tick"/>
<text x="242.70" y="220.25" class="tk" text-anchor="end">0.2</text>
<line x1="243.60" y1="198.00" x2="245.10" y2="198.00" class="tick"/>
<text x="242.70" y="200.25" class="tk" text-anchor="end">0.4</text>
<line x1="243.60" y1="178.00" x2="245.10" y2="178.00" class="tick"/>
<text x="242.70" y="180.25" class="tk" text-anchor="end">0.6</text>
<line x1="243.60" y1="158.00" x2="245.10" y2="158.00" class="tick"/>
<text x="242.70" y="160.25" class="tk" text-anchor="end">0.8</text>
<line x1="243.60" y1="138.00" x2="245.10" y2="138.00" class="tick"/>
<text x="242.70" y="140.25" class="tk" text-anchor="end">1.0</text>
<line x1="245.60" y1="238.50" x2="245.60" y2="240.00" class="tick"/>
<text x="245.00" y="245.65" class="tk" text-anchor="middle">−1.0</text>
<line x1="276.65" y1="238.50" x2="276.65" y2="240.00" class="tick"/>
<text x="276.05" y="245.65" class="tk" text-anchor="middle">−0.5</text>
<line x1="307.70" y1="238.50" x2="307.70" y2="240.00" class="tick"/>
<text x="307.70" y="245.65" class="tk" text-anchor="middle">0.0</text>
<line x1="338.75" y1="238.50" x2="338.75" y2="240.00" class="tick"/>
<text x="338.75" y="245.65" class="tk" text-anchor="middle">0.5</text>
<line x1="369.80" y1="238.50" x2="369.80" y2="240.00" class="tick"/>
<text x="369.80" y="245.65" class="tk" text-anchor="middle">1.0</text>
<text x="307.50" y="252.20" font-size="9" class="i b" text-anchor="middle">x</text>
<text transform="translate(233.60,188.40) rotate(-90)" font-size="7.6" class="i b" text-anchor="middle">t</text>
<rect x="374.50" y="138.00" width="5.00" height="100.00" fill="none" stroke="#101020" stroke-opacity=".5" stroke-width=".6"/>
<line x1="379.50" y1="163.00" x2="381.10" y2="163.00" class="tick"/>
<text x="382.40" y="165.15" class="tk">0.5</text>
<line x1="379.50" y1="188.00" x2="381.10" y2="188.00" class="tick"/>
<text x="382.40" y="190.15" class="tk">0.0</text>
<line x1="379.50" y1="213.00" x2="381.10" y2="213.00" class="tick"/>
<text x="382.40" y="215.15" class="tk">−0.5</text>
<line x1="379.50" y1="238.00" x2="381.10" y2="238.00" class="tick"/>
<text x="382.40" y="240.15" class="tk">−1.0</text>
</svg></body></html>
